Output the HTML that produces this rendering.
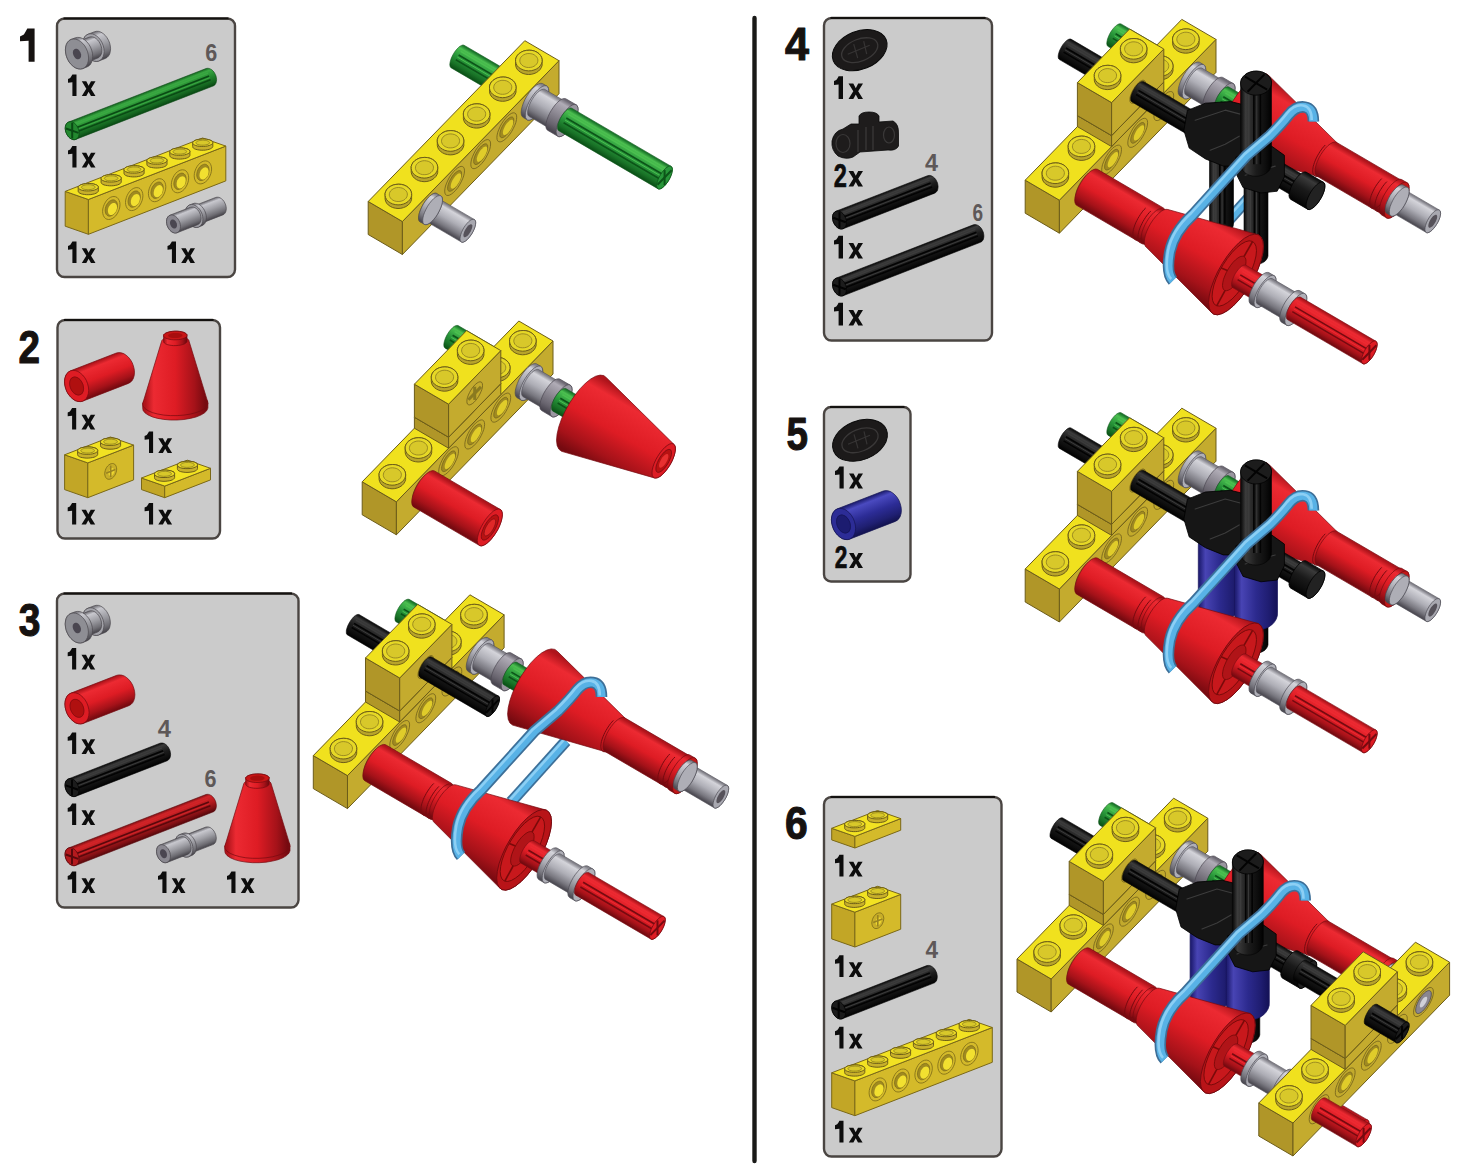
<!DOCTYPE html>
<html><head><meta charset="utf-8"><style>
html,body{margin:0;padding:0;background:#fff;width:1467px;height:1170px;overflow:hidden}
svg{display:block}
text{font-family:"Liberation Sans",sans-serif}
</style></head><body>
<svg width="1467" height="1170" viewBox="0 0 1467 1170">
<defs>
<linearGradient id="g1" gradientUnits="userSpaceOnUse" x1="91.7" y1="33.5" x2="101.7" y2="59.2"><stop offset="0" stop-color="#77767c"/><stop offset="0.14" stop-color="#c8c8ce"/><stop offset="0.5" stop-color="#9c9ca2"/><stop offset="0.82" stop-color="#6f6e74"/><stop offset="1" stop-color="#4a484e"/></linearGradient>
<linearGradient id="g2" gradientUnits="userSpaceOnUse" x1="83.4" y1="39.9" x2="91.2" y2="60.1"><stop offset="0" stop-color="#77767c"/><stop offset="0.14" stop-color="#c8c8ce"/><stop offset="0.5" stop-color="#9c9ca2"/><stop offset="0.82" stop-color="#6f6e74"/><stop offset="1" stop-color="#4a484e"/></linearGradient>
<linearGradient id="g3" gradientUnits="userSpaceOnUse" x1="73.6" y1="39.2" x2="84.5" y2="67.2"><stop offset="0" stop-color="#77767c"/><stop offset="0.14" stop-color="#c8c8ce"/><stop offset="0.5" stop-color="#9c9ca2"/><stop offset="0.82" stop-color="#6f6e74"/><stop offset="1" stop-color="#4a484e"/></linearGradient>
<linearGradient id="g4" gradientUnits="userSpaceOnUse" x1="137.6" y1="95.6" x2="144.2" y2="112.4"><stop offset="0" stop-color="#186c23"/><stop offset="0.14" stop-color="#3aa842"/><stop offset="0.5" stop-color="#23882f"/><stop offset="0.82" stop-color="#156620"/><stop offset="1" stop-color="#0a4a14"/></linearGradient>
<linearGradient id="g5" gradientUnits="userSpaceOnUse" x1="205.2" y1="202" x2="211.7" y2="218.8"><stop offset="0" stop-color="#77767c"/><stop offset="0.14" stop-color="#c8c8ce"/><stop offset="0.5" stop-color="#9c9ca2"/><stop offset="0.82" stop-color="#6f6e74"/><stop offset="1" stop-color="#4a484e"/></linearGradient>
<linearGradient id="g6" gradientUnits="userSpaceOnUse" x1="191.7" y1="204.7" x2="200" y2="225.9"><stop offset="0" stop-color="#77767c"/><stop offset="0.14" stop-color="#c8c8ce"/><stop offset="0.5" stop-color="#9c9ca2"/><stop offset="0.82" stop-color="#6f6e74"/><stop offset="1" stop-color="#4a484e"/></linearGradient>
<linearGradient id="g7" gradientUnits="userSpaceOnUse" x1="180.5" y1="211.6" x2="187.1" y2="228.4"><stop offset="0" stop-color="#77767c"/><stop offset="0.14" stop-color="#c8c8ce"/><stop offset="0.5" stop-color="#9c9ca2"/><stop offset="0.82" stop-color="#6f6e74"/><stop offset="1" stop-color="#4a484e"/></linearGradient>
<linearGradient id="g8" gradientUnits="userSpaceOnUse" x1="93.8" y1="362.6" x2="105.2" y2="391.6"><stop offset="0" stop-color="#af141b"/><stop offset="0.14" stop-color="#ec2a32"/><stop offset="0.5" stop-color="#de1c24"/><stop offset="0.82" stop-color="#a51219"/><stop offset="1" stop-color="#760a10"/></linearGradient>
<linearGradient id="g9" gradientUnits="userSpaceOnUse" x1="145.3" y1="405.8" x2="205.3" y2="405.8"><stop offset="0" stop-color="#af141b"/><stop offset="0.14" stop-color="#ec2a32"/><stop offset="0.5" stop-color="#de1c24"/><stop offset="0.82" stop-color="#a51219"/><stop offset="1" stop-color="#760a10"/></linearGradient>
<linearGradient id="g10" gradientUnits="userSpaceOnUse" x1="145.3" y1="372.5" x2="205.3" y2="372.5"><stop offset="0" stop-color="#af141b"/><stop offset="0.14" stop-color="#ec2a32"/><stop offset="0.5" stop-color="#de1c24"/><stop offset="0.82" stop-color="#a51219"/><stop offset="1" stop-color="#760a10"/></linearGradient>
<linearGradient id="g11" gradientUnits="userSpaceOnUse" x1="164.5" y1="338.4" x2="186.1" y2="338.4"><stop offset="0" stop-color="#af141b"/><stop offset="0.14" stop-color="#ec2a32"/><stop offset="0.5" stop-color="#de1c24"/><stop offset="0.82" stop-color="#a51219"/><stop offset="1" stop-color="#760a10"/></linearGradient>
<linearGradient id="g12" gradientUnits="userSpaceOnUse" x1="91.5" y1="607.5" x2="101.5" y2="633.2"><stop offset="0" stop-color="#77767c"/><stop offset="0.14" stop-color="#c8c8ce"/><stop offset="0.5" stop-color="#9c9ca2"/><stop offset="0.82" stop-color="#6f6e74"/><stop offset="1" stop-color="#4a484e"/></linearGradient>
<linearGradient id="g13" gradientUnits="userSpaceOnUse" x1="83.2" y1="613.9" x2="91" y2="634.1"><stop offset="0" stop-color="#77767c"/><stop offset="0.14" stop-color="#c8c8ce"/><stop offset="0.5" stop-color="#9c9ca2"/><stop offset="0.82" stop-color="#6f6e74"/><stop offset="1" stop-color="#4a484e"/></linearGradient>
<linearGradient id="g14" gradientUnits="userSpaceOnUse" x1="73.4" y1="613.2" x2="84.3" y2="641.2"><stop offset="0" stop-color="#77767c"/><stop offset="0.14" stop-color="#c8c8ce"/><stop offset="0.5" stop-color="#9c9ca2"/><stop offset="0.82" stop-color="#6f6e74"/><stop offset="1" stop-color="#4a484e"/></linearGradient>
<linearGradient id="g15" gradientUnits="userSpaceOnUse" x1="94.2" y1="684.9" x2="105.6" y2="713.9"><stop offset="0" stop-color="#af141b"/><stop offset="0.14" stop-color="#ec2a32"/><stop offset="0.5" stop-color="#de1c24"/><stop offset="0.82" stop-color="#a51219"/><stop offset="1" stop-color="#760a10"/></linearGradient>
<linearGradient id="g16" gradientUnits="userSpaceOnUse" x1="114.5" y1="761.4" x2="121.1" y2="778.2"><stop offset="0" stop-color="#111111"/><stop offset="0.14" stop-color="#3c3c3c"/><stop offset="0.5" stop-color="#1c1c1c"/><stop offset="0.82" stop-color="#0e0e0e"/><stop offset="1" stop-color="#030303"/></linearGradient>
<linearGradient id="g17" gradientUnits="userSpaceOnUse" x1="137.4" y1="821.6" x2="144" y2="838.4"><stop offset="0" stop-color="#8c1216"/><stop offset="0.14" stop-color="#d02428"/><stop offset="0.5" stop-color="#b41a1e"/><stop offset="0.82" stop-color="#821014"/><stop offset="1" stop-color="#5a080c"/></linearGradient>
<linearGradient id="g18" gradientUnits="userSpaceOnUse" x1="195.2" y1="831.7" x2="201.7" y2="848.5"><stop offset="0" stop-color="#77767c"/><stop offset="0.14" stop-color="#c8c8ce"/><stop offset="0.5" stop-color="#9c9ca2"/><stop offset="0.82" stop-color="#6f6e74"/><stop offset="1" stop-color="#4a484e"/></linearGradient>
<linearGradient id="g19" gradientUnits="userSpaceOnUse" x1="181.7" y1="834.4" x2="190" y2="855.6"><stop offset="0" stop-color="#77767c"/><stop offset="0.14" stop-color="#c8c8ce"/><stop offset="0.5" stop-color="#9c9ca2"/><stop offset="0.82" stop-color="#6f6e74"/><stop offset="1" stop-color="#4a484e"/></linearGradient>
<linearGradient id="g20" gradientUnits="userSpaceOnUse" x1="170.5" y1="841.3" x2="177.1" y2="858.1"><stop offset="0" stop-color="#77767c"/><stop offset="0.14" stop-color="#c8c8ce"/><stop offset="0.5" stop-color="#9c9ca2"/><stop offset="0.82" stop-color="#6f6e74"/><stop offset="1" stop-color="#4a484e"/></linearGradient>
<linearGradient id="g21" gradientUnits="userSpaceOnUse" x1="227.4" y1="848.5" x2="287.4" y2="848.5"><stop offset="0" stop-color="#af141b"/><stop offset="0.14" stop-color="#ec2a32"/><stop offset="0.5" stop-color="#de1c24"/><stop offset="0.82" stop-color="#a51219"/><stop offset="1" stop-color="#760a10"/></linearGradient>
<linearGradient id="g22" gradientUnits="userSpaceOnUse" x1="227.4" y1="815.2" x2="287.4" y2="815.2"><stop offset="0" stop-color="#af141b"/><stop offset="0.14" stop-color="#ec2a32"/><stop offset="0.5" stop-color="#de1c24"/><stop offset="0.82" stop-color="#a51219"/><stop offset="1" stop-color="#760a10"/></linearGradient>
<linearGradient id="g23" gradientUnits="userSpaceOnUse" x1="246.6" y1="781.1" x2="268.2" y2="781.1"><stop offset="0" stop-color="#af141b"/><stop offset="0.14" stop-color="#ec2a32"/><stop offset="0.5" stop-color="#de1c24"/><stop offset="0.82" stop-color="#a51219"/><stop offset="1" stop-color="#760a10"/></linearGradient>
<linearGradient id="g24" gradientUnits="userSpaceOnUse" x1="882" y1="193.8" x2="888.6" y2="210.6"><stop offset="0" stop-color="#111111"/><stop offset="0.14" stop-color="#3c3c3c"/><stop offset="0.5" stop-color="#1c1c1c"/><stop offset="0.82" stop-color="#0e0e0e"/><stop offset="1" stop-color="#030303"/></linearGradient>
<linearGradient id="g25" gradientUnits="userSpaceOnUse" x1="904.9" y1="251.9" x2="911.5" y2="268.7"><stop offset="0" stop-color="#111111"/><stop offset="0.14" stop-color="#3c3c3c"/><stop offset="0.5" stop-color="#1c1c1c"/><stop offset="0.82" stop-color="#0e0e0e"/><stop offset="1" stop-color="#030303"/></linearGradient>
<linearGradient id="g26" gradientUnits="userSpaceOnUse" x1="860.7" y1="500.6" x2="872.1" y2="529.6"><stop offset="0" stop-color="#212177"/><stop offset="0.14" stop-color="#4a4ac0"/><stop offset="0.5" stop-color="#2c2c96"/><stop offset="0.82" stop-color="#1f1f71"/><stop offset="1" stop-color="#141452"/></linearGradient>
<linearGradient id="g27" gradientUnits="userSpaceOnUse" x1="881.2" y1="983.8" x2="887.8" y2="1000.6"><stop offset="0" stop-color="#111111"/><stop offset="0.14" stop-color="#3c3c3c"/><stop offset="0.5" stop-color="#1c1c1c"/><stop offset="0.82" stop-color="#0e0e0e"/><stop offset="1" stop-color="#030303"/></linearGradient>
<linearGradient id="g28" gradientUnits="userSpaceOnUse" x1="501.3" y1="68.2" x2="489.2" y2="88.9"><stop offset="0" stop-color="#1b782b"/><stop offset="0.14" stop-color="#4cc050"/><stop offset="0.5" stop-color="#28963a"/><stop offset="0.82" stop-color="#197227"/><stop offset="1" stop-color="#0c5418"/></linearGradient>
<linearGradient id="g29" gradientUnits="userSpaceOnUse" x1="454.2" y1="208.9" x2="442.1" y2="229.6"><stop offset="0" stop-color="#83828a"/><stop offset="0.14" stop-color="#d4d4da"/><stop offset="0.5" stop-color="#aeaeb6"/><stop offset="0.82" stop-color="#797880"/><stop offset="1" stop-color="#4e4c54"/></linearGradient>
<linearGradient id="g30" gradientUnits="userSpaceOnUse" x1="438.2" y1="195.8" x2="422.9" y2="222.1"><stop offset="0" stop-color="#83828a"/><stop offset="0.14" stop-color="#d4d4da"/><stop offset="0.5" stop-color="#aeaeb6"/><stop offset="0.82" stop-color="#797880"/><stop offset="1" stop-color="#4e4c54"/></linearGradient>
<linearGradient id="g31" gradientUnits="userSpaceOnUse" x1="544" y1="86.2" x2="525.9" y2="117.3"><stop offset="0" stop-color="#83828a"/><stop offset="0.14" stop-color="#d4d4da"/><stop offset="0.5" stop-color="#aeaeb6"/><stop offset="0.82" stop-color="#797880"/><stop offset="1" stop-color="#4e4c54"/></linearGradient>
<linearGradient id="g32" gradientUnits="userSpaceOnUse" x1="554.2" y1="96.3" x2="539.7" y2="121.2"><stop offset="0" stop-color="#83828a"/><stop offset="0.14" stop-color="#d4d4da"/><stop offset="0.5" stop-color="#aeaeb6"/><stop offset="0.82" stop-color="#797880"/><stop offset="1" stop-color="#4e4c54"/></linearGradient>
<linearGradient id="g33" gradientUnits="userSpaceOnUse" x1="570.5" y1="103.1" x2="553.5" y2="132.1"><stop offset="0" stop-color="#6d6973"/><stop offset="0.14" stop-color="#b0acb6"/><stop offset="0.5" stop-color="#8a8690"/><stop offset="0.82" stop-color="#67636d"/><stop offset="1" stop-color="#4a4650"/></linearGradient>
<linearGradient id="g34" gradientUnits="userSpaceOnUse" x1="621" y1="138.2" x2="608.9" y2="158.9"><stop offset="0" stop-color="#1b782b"/><stop offset="0.14" stop-color="#4cc050"/><stop offset="0.5" stop-color="#28963a"/><stop offset="0.82" stop-color="#197227"/><stop offset="1" stop-color="#0c5418"/></linearGradient>
<linearGradient id="g35" gradientUnits="userSpaceOnUse" x1="478.2" y1="338.5" x2="466.1" y2="359.2"><stop offset="0" stop-color="#1b782b"/><stop offset="0.14" stop-color="#4cc050"/><stop offset="0.5" stop-color="#28963a"/><stop offset="0.82" stop-color="#197227"/><stop offset="1" stop-color="#0c5418"/></linearGradient>
<linearGradient id="g36" gradientUnits="userSpaceOnUse" x1="538" y1="366.5" x2="519.9" y2="397.6"><stop offset="0" stop-color="#83828a"/><stop offset="0.14" stop-color="#d4d4da"/><stop offset="0.5" stop-color="#aeaeb6"/><stop offset="0.82" stop-color="#797880"/><stop offset="1" stop-color="#4e4c54"/></linearGradient>
<linearGradient id="g37" gradientUnits="userSpaceOnUse" x1="548.2" y1="376.6" x2="533.7" y2="401.5"><stop offset="0" stop-color="#83828a"/><stop offset="0.14" stop-color="#d4d4da"/><stop offset="0.5" stop-color="#aeaeb6"/><stop offset="0.82" stop-color="#797880"/><stop offset="1" stop-color="#4e4c54"/></linearGradient>
<linearGradient id="g38" gradientUnits="userSpaceOnUse" x1="564.5" y1="383.4" x2="547.5" y2="412.4"><stop offset="0" stop-color="#6d6973"/><stop offset="0.14" stop-color="#b0acb6"/><stop offset="0.5" stop-color="#8a8690"/><stop offset="0.82" stop-color="#67636d"/><stop offset="1" stop-color="#4a4650"/></linearGradient>
<linearGradient id="g39" gradientUnits="userSpaceOnUse" x1="578.3" y1="397" x2="566.2" y2="417.7"><stop offset="0" stop-color="#1b782b"/><stop offset="0.14" stop-color="#4cc050"/><stop offset="0.5" stop-color="#28963a"/><stop offset="0.82" stop-color="#197227"/><stop offset="1" stop-color="#0c5418"/></linearGradient>
<linearGradient id="g40" gradientUnits="userSpaceOnUse" x1="643.4" y1="402.6" x2="603" y2="471.7"><stop offset="0" stop-color="#af141b"/><stop offset="0.14" stop-color="#ec2a32"/><stop offset="0.5" stop-color="#de1c24"/><stop offset="0.82" stop-color="#a51219"/><stop offset="1" stop-color="#760a10"/></linearGradient>
<linearGradient id="g41" gradientUnits="userSpaceOnUse" x1="466.7" y1="491.7" x2="447.3" y2="524.8"><stop offset="0" stop-color="#af141b"/><stop offset="0.14" stop-color="#ec2a32"/><stop offset="0.5" stop-color="#de1c24"/><stop offset="0.82" stop-color="#a51219"/><stop offset="1" stop-color="#760a10"/></linearGradient>
<linearGradient id="g42" gradientUnits="userSpaceOnUse" x1="116" y1="-143.3" x2="103.9" y2="-122.6"><stop offset="0" stop-color="#1b782b"/><stop offset="0.14" stop-color="#4cc050"/><stop offset="0.5" stop-color="#28963a"/><stop offset="0.82" stop-color="#197227"/><stop offset="1" stop-color="#0c5418"/></linearGradient>
<linearGradient id="g43" gradientUnits="userSpaceOnUse" x1="64.6" y1="-129" x2="53.7" y2="-110.3"><stop offset="0" stop-color="#111111"/><stop offset="0.14" stop-color="#3c3c3c"/><stop offset="0.5" stop-color="#1c1c1c"/><stop offset="0.82" stop-color="#0e0e0e"/><stop offset="1" stop-color="#030303"/></linearGradient>
<linearGradient id="g44" gradientUnits="userSpaceOnUse" x1="175.8" y1="-115.3" x2="157.7" y2="-84.2"><stop offset="0" stop-color="#83828a"/><stop offset="0.14" stop-color="#d4d4da"/><stop offset="0.5" stop-color="#aeaeb6"/><stop offset="0.82" stop-color="#797880"/><stop offset="1" stop-color="#4e4c54"/></linearGradient>
<linearGradient id="g45" gradientUnits="userSpaceOnUse" x1="186" y1="-105.2" x2="171.5" y2="-80.3"><stop offset="0" stop-color="#83828a"/><stop offset="0.14" stop-color="#d4d4da"/><stop offset="0.5" stop-color="#aeaeb6"/><stop offset="0.82" stop-color="#797880"/><stop offset="1" stop-color="#4e4c54"/></linearGradient>
<linearGradient id="g46" gradientUnits="userSpaceOnUse" x1="202.3" y1="-98.4" x2="185.3" y2="-69.4"><stop offset="0" stop-color="#6d6973"/><stop offset="0.14" stop-color="#b0acb6"/><stop offset="0.5" stop-color="#8a8690"/><stop offset="0.82" stop-color="#67636d"/><stop offset="1" stop-color="#4a4650"/></linearGradient>
<linearGradient id="g47" gradientUnits="userSpaceOnUse" x1="216.1" y1="-84.8" x2="204" y2="-64.1"><stop offset="0" stop-color="#1b782b"/><stop offset="0.14" stop-color="#4cc050"/><stop offset="0.5" stop-color="#28963a"/><stop offset="0.82" stop-color="#197227"/><stop offset="1" stop-color="#0c5418"/></linearGradient>
<linearGradient id="g48" gradientUnits="userSpaceOnUse" x1="281.2" y1="-79.2" x2="240.8" y2="-10.1"><stop offset="0" stop-color="#af141b"/><stop offset="0.14" stop-color="#ec2a32"/><stop offset="0.5" stop-color="#de1c24"/><stop offset="0.82" stop-color="#a51219"/><stop offset="1" stop-color="#760a10"/></linearGradient>
<linearGradient id="g49" gradientUnits="userSpaceOnUse" x1="343.9" y1="-17" x2="325.8" y2="14.1"><stop offset="0" stop-color="#af141b"/><stop offset="0.14" stop-color="#ec2a32"/><stop offset="0.5" stop-color="#de1c24"/><stop offset="0.82" stop-color="#a51219"/><stop offset="1" stop-color="#760a10"/></linearGradient>
<linearGradient id="g50" gradientUnits="userSpaceOnUse" x1="378.5" y1="2.3" x2="359.6" y2="34.8"><stop offset="0" stop-color="#af141b"/><stop offset="0.14" stop-color="#ec2a32"/><stop offset="0.5" stop-color="#de1c24"/><stop offset="0.82" stop-color="#a51219"/><stop offset="1" stop-color="#760a10"/></linearGradient>
<linearGradient id="g51" gradientUnits="userSpaceOnUse" x1="394.8" y1="19.7" x2="382.7" y2="40.4"><stop offset="0" stop-color="#83828a"/><stop offset="0.14" stop-color="#d4d4da"/><stop offset="0.5" stop-color="#aeaeb6"/><stop offset="0.82" stop-color="#797880"/><stop offset="1" stop-color="#4e4c54"/></linearGradient>
<linearGradient id="g52" gradientUnits="userSpaceOnUse" x1="379.6" y1="7.1" x2="364.3" y2="33.4"><stop offset="0" stop-color="#83828a"/><stop offset="0.14" stop-color="#d4d4da"/><stop offset="0.5" stop-color="#aeaeb6"/><stop offset="0.82" stop-color="#797880"/><stop offset="1" stop-color="#4e4c54"/></linearGradient>
<g id="bb"><polygon points="81.6,-136.9 81.8,-138.8 82.3,-140.9 83.1,-143.3 84.2,-145.7 85.5,-148.1 87,-150.3 88.6,-152.3 90.3,-154 91.9,-155.3 93.4,-156.1 94.7,-156.4 95.8,-156.3 136.8,-132.3 137.7,-131.6 138.2,-130.5 138.3,-129 138.2,-127.1 137.7,-124.9 136.8,-122.6 135.7,-120.2 134.4,-117.8 132.9,-115.6 131.3,-113.6 129.7,-111.9 128.1,-110.6 126.6,-109.8 125.3,-109.4 124.2,-109.6 83.1,-133.6 82.3,-134.2 81.8,-135.4" fill="url(#g42)" stroke="#0c5418" stroke-width="0.6" stroke-linejoin="round" />
<line x1="92.5" y1="-150.1" x2="133.5" y2="-126.1" stroke="#4cc050" stroke-width="1.4" stroke-linecap="butt" />
<line x1="90.4" y1="-146.5" x2="131.4" y2="-122.5" stroke="#0c5418" stroke-width="1.6" stroke-linecap="butt" />
<line x1="87.6" y1="-141.8" x2="128.7" y2="-117.8" stroke="#0c5418" stroke-width="1.6" stroke-linecap="butt" />
<line x1="89.2" y1="-144.4" x2="130.2" y2="-120.4" stroke="#4cc050" stroke-width="1.0" stroke-linecap="butt" />
<polygon points="138.3,-129 138.2,-130.5 137.7,-131.6 136.8,-132.3 135.7,-132.4 134.4,-132.1 132.9,-131.3 131.3,-130 129.7,-128.3 128.1,-126.3 126.6,-124.1 125.3,-121.7 124.2,-119.3 123.3,-116.9 122.8,-114.8 122.7,-112.9 122.8,-111.4 123.3,-110.2 124.2,-109.6 125.3,-109.4 126.6,-109.8 128.1,-110.6 129.7,-111.9 131.3,-113.6 132.9,-115.6 134.4,-117.8 135.7,-120.2 136.8,-122.6 137.7,-124.9 138.2,-127.1" fill="#28963a" stroke="#0c5418" stroke-width="0.8" stroke-linejoin="round" />
<line x1="123.5" y1="-113.7" x2="137.5" y2="-128.2" stroke="#0c5418" stroke-width="2.0" stroke-linecap="butt" />
<line x1="130.5" y1="-113.5" x2="130.5" y2="-128.4" stroke="#0c5418" stroke-width="2.0" stroke-linecap="butt" />
<polygon points="33,-123.6 33.1,-125.3 33.6,-127.3 34.3,-129.4 35.3,-131.5 36.5,-133.7 37.8,-135.7 39.3,-137.5 40.7,-139 42.2,-140.2 43.5,-140.9 44.7,-141.2 45.7,-141.1 84,-118.7 84.7,-118.1 85.2,-117.1 85.3,-115.7 85.2,-114 84.7,-112 84,-109.9 83,-107.8 81.8,-105.6 80.5,-103.6 79,-101.8 77.6,-100.3 76.1,-99.2 74.8,-98.4 73.6,-98.1 72.6,-98.2 34.3,-120.6 33.6,-121.2 33.1,-122.2" fill="url(#g43)" stroke="#030303" stroke-width="0.6" stroke-linejoin="round" />
<line x1="42.7" y1="-135.5" x2="81" y2="-113.1" stroke="#3c3c3c" stroke-width="1.4" stroke-linecap="butt" />
<line x1="40.8" y1="-132.2" x2="79.1" y2="-109.8" stroke="#030303" stroke-width="1.6" stroke-linecap="butt" />
<line x1="38.4" y1="-128.1" x2="76.7" y2="-105.7" stroke="#030303" stroke-width="1.6" stroke-linecap="butt" />
<line x1="39.7" y1="-130.4" x2="78" y2="-108" stroke="#3c3c3c" stroke-width="1.0" stroke-linecap="butt" />
<polygon points="85.3,-115.7 85.2,-117.1 84.7,-118.1 84,-118.7 83,-118.8 81.8,-118.5 80.5,-117.7 79,-116.6 77.6,-115.1 76.1,-113.3 74.8,-111.3 73.6,-109.1 72.6,-107 71.9,-104.9 71.4,-102.9 71.3,-101.2 71.4,-99.8 71.9,-98.8 72.6,-98.2 73.6,-98.1 74.8,-98.4 76.1,-99.2 77.6,-100.3 79,-101.8 80.5,-103.6 81.8,-105.6 83,-107.8 84,-109.9 84.7,-112 85.2,-114" fill="#1c1c1c" stroke="#030303" stroke-width="0.8" stroke-linejoin="round" />
<line x1="72" y1="-101.9" x2="84.6" y2="-115" stroke="#030303" stroke-width="2.0" stroke-linecap="butt" />
<line x1="78.3" y1="-101.8" x2="78.3" y2="-115.1" stroke="#030303" stroke-width="2.0" stroke-linecap="butt" />
<polygon points="0,0 34.2,20 34.2,53 0,33" fill="#b09628" stroke="#6c5c1a" stroke-width="1.0" stroke-linejoin="round" />
<polygon points="34.2,20 190.8,-140.8 190.8,-107.8 34.2,53" fill="#c4ab2e" stroke="#6c5c1a" stroke-width="1.0" stroke-linejoin="round" />
<polygon points="0,0 156.6,-160.8 190.8,-140.8 34.2,20" fill="#f0e11e" stroke="#6c5c1a" stroke-width="1.0" stroke-linejoin="round" />
<polygon points="70.2,-3.9 70,-5.9 69.4,-7.3 68.3,-8.1 66.9,-8.3 65.3,-7.9 63.4,-6.8 61.3,-5.2 59.3,-3.1 57.2,-0.5 55.3,2.3 53.7,5.3 52.3,8.4 51.2,11.3 50.6,14.1 50.4,16.4 50.6,18.4 51.2,19.8 52.3,20.6 53.7,20.8 55.3,20.4 57.2,19.3 59.3,17.7 61.3,15.6 63.4,13.1 65.3,10.2 66.9,7.2 68.3,4.2 69.4,1.2 70,-1.5" fill="#c2aa2c" stroke="#6e5e1c" stroke-width="0.8" stroke-linejoin="round" />
<polygon points="67.3,-1 67.2,-2.4 66.7,-3.4 66,-4 65,-4.1 63.8,-3.8 62.5,-3 61,-1.9 59.6,-0.4 58.1,1.4 56.8,3.5 55.6,5.6 54.6,7.8 53.9,9.9 53.4,11.8 53.3,13.5 53.4,14.9 53.9,15.9 54.6,16.5 55.6,16.6 56.8,16.3 58.1,15.6 59.6,14.4 61,12.9 62.5,11.1 63.8,9.1 65,6.9 66,4.8 66.7,2.7 67.2,0.7" fill="#a08a20" stroke="#6e5e1c" stroke-width="0.7" stroke-linejoin="round" />
<polygon points="66.8,0.9 66.7,-0.1 66.4,-0.8 65.8,-1.3 65.1,-1.4 64.2,-1.1 63.2,-0.6 62.2,0.3 61.1,1.4 60,2.7 59,4.2 58.1,5.8 57.4,7.4 56.8,9 56.5,10.4 56.4,11.7 56.5,12.7 56.8,13.4 57.4,13.9 58.1,14 59,13.7 60,13.2 61.1,12.3 62.2,11.2 63.2,9.9 64.2,8.4 65.1,6.8 65.8,5.2 66.4,3.6 66.7,2.2" fill="#e0cc2a" />
<polygon points="96.3,-30.7 96.1,-32.7 95.5,-34.1 94.4,-34.9 93,-35.1 91.4,-34.7 89.5,-33.6 87.4,-32 85.4,-29.9 83.3,-27.3 81.4,-24.5 79.8,-21.5 78.4,-18.4 77.3,-15.5 76.7,-12.7 76.5,-10.4 76.7,-8.4 77.3,-7 78.4,-6.2 79.8,-6 81.4,-6.4 83.3,-7.5 85.4,-9.1 87.4,-11.2 89.5,-13.7 91.4,-16.6 93,-19.6 94.4,-22.6 95.5,-25.6 96.1,-28.3" fill="#c2aa2c" stroke="#6e5e1c" stroke-width="0.8" stroke-linejoin="round" />
<polygon points="93.4,-27.8 93.3,-29.2 92.8,-30.2 92.1,-30.8 91.1,-30.9 89.9,-30.6 88.6,-29.8 87.1,-28.7 85.7,-27.2 84.2,-25.4 82.9,-23.3 81.7,-21.2 80.7,-19 80,-16.9 79.5,-15 79.4,-13.3 79.5,-11.9 80,-10.9 80.7,-10.3 81.7,-10.2 82.9,-10.5 84.2,-11.2 85.7,-12.4 87.1,-13.9 88.6,-15.7 89.9,-17.7 91.1,-19.9 92.1,-22 92.8,-24.1 93.3,-26.1" fill="#a08a20" stroke="#6e5e1c" stroke-width="0.7" stroke-linejoin="round" />
<polygon points="92.9,-25.9 92.8,-26.9 92.5,-27.6 91.9,-28.1 91.2,-28.2 90.3,-27.9 89.3,-27.4 88.3,-26.5 87.2,-25.4 86.1,-24.1 85.1,-22.6 84.2,-21 83.5,-19.4 82.9,-17.8 82.6,-16.4 82.5,-15.1 82.6,-14.1 82.9,-13.4 83.5,-12.9 84.2,-12.8 85.1,-13.1 86.1,-13.6 87.2,-14.5 88.3,-15.6 89.3,-16.9 90.3,-18.4 91.2,-20 91.9,-21.6 92.5,-23.2 92.8,-24.6" fill="#e0cc2a" />
<polygon points="122.4,-57.5 122.2,-59.5 121.6,-60.9 120.5,-61.7 119.1,-61.9 117.5,-61.5 115.6,-60.4 113.5,-58.8 111.5,-56.7 109.4,-54.1 107.5,-51.3 105.9,-48.3 104.5,-45.2 103.4,-42.3 102.8,-39.5 102.6,-37.2 102.8,-35.2 103.4,-33.8 104.5,-33 105.9,-32.8 107.5,-33.2 109.4,-34.3 111.5,-35.9 113.5,-38 115.6,-40.5 117.5,-43.4 119.1,-46.4 120.5,-49.4 121.6,-52.4 122.2,-55.1" fill="#c2aa2c" stroke="#6e5e1c" stroke-width="0.8" stroke-linejoin="round" />
<polygon points="119.5,-54.6 119.4,-56 118.9,-57 118.2,-57.6 117.2,-57.7 116,-57.4 114.7,-56.6 113.2,-55.5 111.8,-54 110.3,-52.2 109,-50.1 107.8,-48 106.8,-45.8 106.1,-43.7 105.6,-41.8 105.5,-40.1 105.6,-38.7 106.1,-37.7 106.8,-37.1 107.8,-37 109,-37.3 110.3,-38 111.8,-39.2 113.2,-40.7 114.7,-42.5 116,-44.5 117.2,-46.7 118.2,-48.8 118.9,-50.9 119.4,-52.9" fill="#a08a20" stroke="#6e5e1c" stroke-width="0.7" stroke-linejoin="round" />
<polygon points="119,-52.7 118.9,-53.7 118.6,-54.4 118,-54.9 117.3,-55 116.4,-54.7 115.4,-54.2 114.4,-53.3 113.3,-52.2 112.2,-50.9 111.2,-49.4 110.3,-47.8 109.6,-46.2 109,-44.6 108.7,-43.2 108.6,-41.9 108.7,-40.9 109,-40.2 109.6,-39.7 110.3,-39.6 111.2,-39.9 112.2,-40.4 113.3,-41.3 114.4,-42.4 115.4,-43.7 116.4,-45.2 117.3,-46.8 118,-48.4 118.6,-50 118.9,-51.4" fill="#e0cc2a" />
<polygon points="148.5,-84.3 148.3,-86.3 147.7,-87.7 146.6,-88.5 145.2,-88.7 143.6,-88.3 141.7,-87.2 139.6,-85.6 137.6,-83.5 135.5,-80.9 133.6,-78.1 132,-75.1 130.6,-72 129.5,-69.1 128.9,-66.3 128.7,-64 128.9,-62 129.5,-60.6 130.6,-59.8 132,-59.6 133.6,-60 135.5,-61.1 137.6,-62.7 139.6,-64.8 141.7,-67.3 143.6,-70.2 145.2,-73.2 146.6,-76.2 147.7,-79.2 148.3,-81.9" fill="#c2aa2c" stroke="#6e5e1c" stroke-width="0.8" stroke-linejoin="round" />
<polygon points="145.6,-81.4 145.5,-82.8 145,-83.8 144.3,-84.4 143.3,-84.5 142.1,-84.2 140.8,-83.4 139.3,-82.3 137.9,-80.8 136.4,-79 135.1,-76.9 133.9,-74.8 132.9,-72.6 132.2,-70.5 131.7,-68.6 131.6,-66.9 131.7,-65.5 132.2,-64.5 132.9,-63.9 133.9,-63.8 135.1,-64.1 136.4,-64.8 137.9,-66 139.3,-67.5 140.8,-69.3 142.1,-71.3 143.3,-73.5 144.3,-75.6 145,-77.7 145.5,-79.7" fill="#a08a20" stroke="#6e5e1c" stroke-width="0.7" stroke-linejoin="round" />
<polygon points="145.1,-79.5 145,-80.5 144.7,-81.2 144.1,-81.7 143.4,-81.8 142.5,-81.5 141.5,-81 140.5,-80.1 139.4,-79 138.3,-77.7 137.3,-76.2 136.4,-74.6 135.7,-73 135.1,-71.4 134.8,-70 134.7,-68.7 134.8,-67.7 135.1,-67 135.7,-66.5 136.4,-66.4 137.3,-66.7 138.3,-67.2 139.4,-68.1 140.5,-69.2 141.5,-70.5 142.5,-72 143.4,-73.6 144.1,-75.2 144.7,-76.8 145,-78.2" fill="#e0cc2a" />
<polygon points="174.6,-111.1 174.4,-113.1 173.8,-114.5 172.7,-115.3 171.3,-115.5 169.7,-115.1 167.8,-114 165.7,-112.4 163.7,-110.3 161.6,-107.7 159.7,-104.9 158.1,-101.9 156.7,-98.8 155.6,-95.9 155,-93.1 154.8,-90.8 155,-88.8 155.6,-87.4 156.7,-86.6 158.1,-86.4 159.7,-86.8 161.6,-87.9 163.7,-89.5 165.7,-91.6 167.8,-94.1 169.7,-97 171.3,-100 172.7,-103 173.8,-106 174.4,-108.7" fill="#c2aa2c" stroke="#6e5e1c" stroke-width="0.8" stroke-linejoin="round" />
<polygon points="171.7,-108.2 171.6,-109.6 171.1,-110.6 170.4,-111.2 169.4,-111.3 168.2,-111 166.9,-110.2 165.4,-109.1 164,-107.6 162.5,-105.8 161.2,-103.7 160,-101.6 159,-99.4 158.3,-97.3 157.8,-95.4 157.7,-93.7 157.8,-92.3 158.3,-91.3 159,-90.7 160,-90.6 161.2,-90.9 162.5,-91.6 164,-92.8 165.4,-94.3 166.9,-96.1 168.2,-98.1 169.4,-100.3 170.4,-102.4 171.1,-104.5 171.6,-106.5" fill="#a08a20" stroke="#6e5e1c" stroke-width="0.7" stroke-linejoin="round" />
<polygon points="171.2,-106.3 171.1,-107.3 170.8,-108 170.2,-108.5 169.5,-108.6 168.6,-108.3 167.6,-107.8 166.6,-106.9 165.5,-105.8 164.4,-104.5 163.4,-103 162.5,-101.4 161.8,-99.8 161.2,-98.2 160.9,-96.8 160.8,-95.5 160.9,-94.5 161.2,-93.8 161.8,-93.3 162.5,-93.2 163.4,-93.5 164.4,-94 165.5,-94.9 166.6,-96 167.6,-97.3 168.6,-98.8 169.5,-100.4 170.2,-102 170.8,-103.6 171.1,-105" fill="#e0cc2a" />
<polygon points="16.9,-6 16.9,-8.2 17.6,-10.3 18.8,-12.3 20.4,-14 22.6,-15.4 25,-16.5 27.7,-17.1 30.5,-17.3 33.2,-17.1 35.9,-16.4 38.2,-15.3 40.3,-13.8 41.9,-12 42.9,-10.1 43.4,-7.9 43.4,-4.3 43.4,-2.2 42.7,-0.1 41.5,1.9 39.9,3.6 37.7,5.1 35.3,6.1 32.6,6.8 29.8,7 27.1,6.7 24.4,6 22.1,4.9 20,3.4 18.4,1.7 17.4,-0.3 16.9,-2.5" fill="#b8a42a" stroke="#6e5e18" stroke-width="1.0" stroke-linejoin="round" />
<polygon points="38.2,-15.3 40.3,-13.8 41.9,-12 42.9,-10.1 43.4,-7.9 43.4,-5.8 42.7,-3.6 41.5,-1.7 39.8,0.1 37.7,1.5 35.3,2.5 32.6,3.2 29.8,3.4 27.1,3.1 24.4,2.4 22.1,1.3 20,-0.1 18.4,-1.9 17.4,-3.9 16.9,-6 16.9,-8.2 17.6,-10.3 18.8,-12.3 20.5,-14 22.6,-15.4 25,-16.5 27.7,-17.1 30.5,-17.3 33.2,-17.1 35.9,-16.4" fill="#e6d826" stroke="#6e5e18" stroke-width="1.0" stroke-linejoin="round" />
<polygon points="35.6,-12.6 37,-11.6 38.1,-10.4 38.8,-9.1 39.2,-7.6 39.1,-6.2 38.7,-4.7 37.9,-3.4 36.7,-2.2 35.3,-1.2 33.6,-0.5 31.8,-0.1 29.9,0 28.1,-0.1 26.3,-0.6 24.7,-1.3 23.3,-2.3 22.2,-3.5 21.5,-4.9 21.1,-6.3 21.2,-7.8 21.6,-9.2 22.4,-10.6 23.6,-11.7 25,-12.7 26.7,-13.4 28.5,-13.9 30.4,-14 32.2,-13.8 34,-13.4" fill="#d8c82a" stroke="#8a7a20" stroke-width="0.8" stroke-linejoin="round" />
<polygon points="43,-32.8 43,-35 43.7,-37.1 44.9,-39.1 46.5,-40.8 48.7,-42.2 51.1,-43.3 53.8,-43.9 56.6,-44.1 59.3,-43.9 62,-43.2 64.3,-42.1 66.4,-40.6 68,-38.8 69,-36.9 69.5,-34.7 69.5,-31.1 69.5,-29 68.8,-26.9 67.6,-24.9 66,-23.2 63.8,-21.7 61.4,-20.7 58.7,-20 55.9,-19.8 53.2,-20.1 50.5,-20.8 48.2,-21.9 46.1,-23.4 44.5,-25.1 43.5,-27.1 43,-29.2" fill="#b8a42a" stroke="#6e5e18" stroke-width="1.0" stroke-linejoin="round" />
<polygon points="64.3,-42.1 66.4,-40.6 68,-38.8 69,-36.9 69.5,-34.7 69.5,-32.6 68.8,-30.4 67.6,-28.5 65.9,-26.7 63.8,-25.3 61.4,-24.3 58.7,-23.6 55.9,-23.4 53.2,-23.7 50.5,-24.4 48.2,-25.5 46.1,-26.9 44.5,-28.7 43.5,-30.7 43,-32.8 43,-35 43.7,-37.1 44.9,-39.1 46.6,-40.8 48.7,-42.2 51.1,-43.3 53.8,-43.9 56.6,-44.1 59.3,-43.9 62,-43.2" fill="#e6d826" stroke="#6e5e18" stroke-width="1.0" stroke-linejoin="round" />
<polygon points="61.7,-39.4 63.1,-38.4 64.2,-37.2 64.9,-35.9 65.3,-34.4 65.2,-33 64.8,-31.5 64,-30.2 62.8,-29 61.4,-28 59.7,-27.3 57.9,-26.9 56,-26.8 54.2,-26.9 52.4,-27.4 50.8,-28.1 49.4,-29.1 48.3,-30.3 47.6,-31.7 47.2,-33.1 47.3,-34.6 47.7,-36 48.5,-37.4 49.7,-38.5 51.1,-39.5 52.8,-40.2 54.6,-40.7 56.5,-40.8 58.3,-40.6 60.1,-40.2" fill="#d8c82a" stroke="#8a7a20" stroke-width="0.8" stroke-linejoin="round" />
<polygon points="69.1,-59.6 69.1,-61.8 69.8,-63.9 71,-65.9 72.7,-67.6 74.8,-69 77.2,-70.1 79.9,-70.7 82.7,-70.9 85.4,-70.7 88.1,-70 90.4,-68.9 92.5,-67.4 94,-65.6 95.1,-63.6 95.6,-61.5 95.6,-58 95.6,-55.8 94.9,-53.7 93.7,-51.7 92,-50 89.9,-48.5 87.5,-47.5 84.8,-46.8 82,-46.6 79.3,-46.9 76.6,-47.6 74.3,-48.7 72.2,-50.2 70.7,-51.9 69.6,-53.9 69.1,-56" fill="#b8a42a" stroke="#6e5e18" stroke-width="1.0" stroke-linejoin="round" />
<polygon points="90.4,-68.9 92.5,-67.4 94.1,-65.6 95.1,-63.7 95.6,-61.5 95.6,-59.4 94.9,-57.2 93.7,-55.3 92,-53.5 89.9,-52.1 87.5,-51.1 84.8,-50.4 82,-50.2 79.3,-50.5 76.6,-51.2 74.3,-52.3 72.2,-53.7 70.6,-55.5 69.6,-57.5 69.1,-59.6 69.1,-61.8 69.8,-63.9 71,-65.9 72.7,-67.6 74.8,-69 77.2,-70.1 79.9,-70.7 82.7,-70.9 85.4,-70.7 88.1,-70" fill="#e6d826" stroke="#6e5e18" stroke-width="1.0" stroke-linejoin="round" />
<polygon points="87.8,-66.2 89.2,-65.2 90.3,-64 91,-62.7 91.4,-61.2 91.3,-59.8 90.9,-58.3 90.1,-57 88.9,-55.8 87.5,-54.8 85.8,-54.1 84,-53.7 82.1,-53.6 80.3,-53.7 78.5,-54.2 76.9,-54.9 75.5,-55.9 74.4,-57.1 73.7,-58.5 73.3,-59.9 73.4,-61.4 73.8,-62.8 74.6,-64.2 75.8,-65.3 77.2,-66.3 78.9,-67 80.7,-67.5 82.6,-67.6 84.4,-67.4 86.2,-67" fill="#d8c82a" stroke="#8a7a20" stroke-width="0.8" stroke-linejoin="round" />
<polygon points="95.2,-86.4 95.2,-88.6 95.9,-90.7 97.1,-92.7 98.8,-94.4 100.9,-95.8 103.3,-96.9 106,-97.5 108.8,-97.7 111.5,-97.5 114.2,-96.8 116.5,-95.7 118.6,-94.2 120.2,-92.4 121.2,-90.5 121.7,-88.3 121.7,-84.8 121.7,-82.6 121,-80.5 119.8,-78.5 118.2,-76.8 116,-75.3 113.6,-74.3 110.9,-73.6 108.1,-73.4 105.4,-73.7 102.7,-74.4 100.4,-75.5 98.3,-77 96.8,-78.7 95.7,-80.7 95.2,-82.8" fill="#b8a42a" stroke="#6e5e18" stroke-width="1.0" stroke-linejoin="round" />
<polygon points="116.5,-95.7 118.6,-94.2 120.2,-92.4 121.2,-90.5 121.7,-88.3 121.7,-86.2 121,-84 119.8,-82.1 118.1,-80.3 116,-78.9 113.6,-77.9 110.9,-77.2 108.1,-77 105.4,-77.3 102.7,-78 100.4,-79.1 98.3,-80.5 96.7,-82.3 95.7,-84.3 95.2,-86.4 95.2,-88.6 95.9,-90.7 97.1,-92.7 98.8,-94.4 100.9,-95.8 103.3,-96.9 106,-97.5 108.8,-97.7 111.5,-97.5 114.2,-96.8" fill="#e6d826" stroke="#6e5e18" stroke-width="1.0" stroke-linejoin="round" />
<polygon points="113.9,-93 115.3,-92 116.4,-90.8 117.1,-89.5 117.5,-88 117.4,-86.6 117,-85.1 116.2,-83.8 115,-82.6 113.6,-81.6 111.9,-80.9 110.1,-80.5 108.2,-80.4 106.4,-80.5 104.6,-81 103,-81.7 101.6,-82.7 100.5,-83.9 99.8,-85.3 99.4,-86.7 99.5,-88.2 99.9,-89.6 100.7,-91 101.9,-92.1 103.3,-93.1 105,-93.8 106.8,-94.3 108.7,-94.4 110.5,-94.2 112.3,-93.8" fill="#d8c82a" stroke="#8a7a20" stroke-width="0.8" stroke-linejoin="round" />
<polygon points="121.3,-113.2 121.3,-115.4 122,-117.5 123.2,-119.5 124.8,-121.2 127,-122.6 129.4,-123.7 132.1,-124.3 134.9,-124.5 137.6,-124.3 140.3,-123.6 142.6,-122.5 144.7,-121 146.2,-119.2 147.3,-117.2 147.8,-115.1 147.8,-111.5 147.8,-109.4 147.1,-107.3 145.9,-105.3 144.2,-103.6 142.1,-102.1 139.7,-101.1 137,-100.4 134.2,-100.2 131.5,-100.5 128.8,-101.2 126.5,-102.3 124.4,-103.8 122.8,-105.5 121.8,-107.5 121.3,-109.7" fill="#b8a42a" stroke="#6e5e18" stroke-width="1.0" stroke-linejoin="round" />
<polygon points="142.6,-122.5 144.7,-121 146.3,-119.2 147.3,-117.3 147.8,-115.1 147.8,-113 147.1,-110.8 145.9,-108.9 144.2,-107.1 142.1,-105.7 139.7,-104.7 137,-104 134.2,-103.8 131.5,-104.1 128.8,-104.8 126.5,-105.9 124.4,-107.3 122.8,-109.1 121.8,-111.1 121.3,-113.2 121.3,-115.4 122,-117.5 123.2,-119.5 124.9,-121.2 127,-122.6 129.4,-123.7 132.1,-124.3 134.9,-124.5 137.6,-124.3 140.3,-123.6" fill="#e6d826" stroke="#6e5e18" stroke-width="1.0" stroke-linejoin="round" />
<polygon points="140,-119.8 141.4,-118.8 142.5,-117.6 143.2,-116.3 143.6,-114.8 143.5,-113.4 143.1,-111.9 142.3,-110.6 141.1,-109.4 139.7,-108.4 138,-107.7 136.2,-107.3 134.3,-107.2 132.5,-107.3 130.7,-107.8 129.1,-108.5 127.7,-109.5 126.6,-110.7 125.9,-112.1 125.5,-113.5 125.6,-115 126,-116.4 126.8,-117.8 128,-118.9 129.4,-119.9 131.1,-120.6 132.9,-121.1 134.8,-121.2 136.6,-121 138.4,-120.6" fill="#d8c82a" stroke="#8a7a20" stroke-width="0.8" stroke-linejoin="round" />
<polygon points="147.4,-140 147.4,-142.2 148.1,-144.3 149.3,-146.3 150.9,-148 153.1,-149.4 155.5,-150.5 158.2,-151.1 161,-151.3 163.7,-151.1 166.4,-150.4 168.7,-149.3 170.8,-147.8 172.3,-146 173.4,-144.1 173.9,-141.9 173.9,-138.3 173.9,-136.2 173.2,-134.1 172,-132.1 170.3,-130.4 168.2,-128.9 165.8,-127.9 163.1,-127.2 160.3,-127 157.6,-127.3 154.9,-128 152.6,-129.1 150.5,-130.6 148.9,-132.3 147.9,-134.3 147.4,-136.4" fill="#b8a42a" stroke="#6e5e18" stroke-width="1.0" stroke-linejoin="round" />
<polygon points="168.7,-149.3 170.8,-147.8 172.4,-146 173.4,-144.1 173.9,-141.9 173.9,-139.8 173.2,-137.6 172,-135.7 170.3,-133.9 168.2,-132.5 165.8,-131.5 163.1,-130.8 160.3,-130.6 157.6,-130.9 154.9,-131.6 152.6,-132.7 150.5,-134.1 148.9,-135.9 147.9,-137.9 147.4,-140 147.4,-142.2 148.1,-144.3 149.3,-146.3 151,-148 153.1,-149.4 155.5,-150.5 158.2,-151.1 161,-151.3 163.7,-151.1 166.4,-150.4" fill="#e6d826" stroke="#6e5e18" stroke-width="1.0" stroke-linejoin="round" />
<polygon points="166.1,-146.6 167.5,-145.6 168.6,-144.4 169.3,-143.1 169.7,-141.6 169.6,-140.2 169.2,-138.7 168.4,-137.4 167.2,-136.2 165.8,-135.2 164.1,-134.5 162.3,-134.1 160.4,-134 158.6,-134.1 156.8,-134.6 155.2,-135.3 153.8,-136.3 152.7,-137.5 152,-138.9 151.6,-140.3 151.7,-141.8 152.1,-143.2 152.9,-144.6 154.1,-145.7 155.5,-146.7 157.2,-147.4 159,-147.9 160.9,-148 162.7,-147.8 164.5,-147.4" fill="#d8c82a" stroke="#8a7a20" stroke-width="0.8" stroke-linejoin="round" />
<polygon points="52.2,-64.6 86.4,-44.6 86.4,-33.6 52.2,-53.6" fill="#b09628" stroke="#6c5c1a" stroke-width="1.0" stroke-linejoin="round" />
<polygon points="86.4,-44.6 138.6,-98.2 138.6,-87.2 86.4,-33.6" fill="#c4ab2e" stroke="#6c5c1a" stroke-width="1.0" stroke-linejoin="round" />
<polygon points="52.2,-64.6 104.4,-118.2 138.6,-98.2 86.4,-44.6" fill="#f0e11e" stroke="#6c5c1a" stroke-width="1.0" stroke-linejoin="round" />
<polygon points="52.2,-97.6 86.4,-77.6 86.4,-44.6 52.2,-64.6" fill="#b09628" stroke="#6c5c1a" stroke-width="1.0" stroke-linejoin="round" />
<polygon points="86.4,-77.6 138.6,-131.2 138.6,-98.2 86.4,-44.6" fill="#c4ab2e" stroke="#6c5c1a" stroke-width="1.0" stroke-linejoin="round" />
<polygon points="52.2,-97.6 104.4,-151.2 138.6,-131.2 86.4,-77.6" fill="#f0e11e" stroke="#6c5c1a" stroke-width="1.0" stroke-linejoin="round" />
<polygon points="69.1,-103.6 69.1,-105.8 69.8,-107.9 71,-109.9 72.7,-111.6 74.8,-113 77.2,-114.1 79.9,-114.7 82.7,-114.9 85.4,-114.7 88.1,-114 90.4,-112.9 92.5,-111.4 94,-109.6 95.1,-107.7 95.6,-105.5 95.6,-102 95.6,-99.8 94.9,-97.7 93.7,-95.7 92,-94 89.9,-92.5 87.5,-91.5 84.8,-90.8 82,-90.6 79.3,-90.9 76.6,-91.6 74.3,-92.7 72.2,-94.2 70.7,-95.9 69.6,-97.9 69.1,-100" fill="#b8a42a" stroke="#6e5e18" stroke-width="1.0" stroke-linejoin="round" />
<polygon points="90.4,-112.9 92.5,-111.4 94.1,-109.6 95.1,-107.7 95.6,-105.5 95.6,-103.4 94.9,-101.2 93.7,-99.3 92,-97.5 89.9,-96.1 87.5,-95.1 84.8,-94.4 82,-94.2 79.3,-94.5 76.6,-95.2 74.3,-96.3 72.2,-97.7 70.6,-99.5 69.6,-101.5 69.1,-103.6 69.1,-105.8 69.8,-107.9 71,-109.9 72.7,-111.6 74.8,-113 77.2,-114.1 79.9,-114.7 82.7,-114.9 85.4,-114.7 88.1,-114" fill="#e6d826" stroke="#6e5e18" stroke-width="1.0" stroke-linejoin="round" />
<polygon points="87.8,-110.2 89.2,-109.2 90.3,-108 91,-106.7 91.4,-105.2 91.3,-103.8 90.9,-102.3 90.1,-101 88.9,-99.8 87.5,-98.8 85.8,-98.1 84,-97.7 82.1,-97.6 80.3,-97.7 78.5,-98.2 76.9,-98.9 75.5,-99.9 74.4,-101.1 73.7,-102.5 73.3,-103.9 73.4,-105.4 73.8,-106.8 74.6,-108.2 75.8,-109.3 77.2,-110.3 78.9,-111 80.7,-111.5 82.6,-111.6 84.4,-111.4 86.2,-111" fill="#d8c82a" stroke="#8a7a20" stroke-width="0.8" stroke-linejoin="round" />
<polygon points="95.2,-130.4 95.2,-132.6 95.9,-134.7 97.1,-136.7 98.8,-138.4 100.9,-139.8 103.3,-140.9 106,-141.5 108.8,-141.7 111.5,-141.5 114.2,-140.8 116.5,-139.7 118.6,-138.2 120.2,-136.4 121.2,-134.4 121.7,-132.3 121.7,-128.8 121.7,-126.6 121,-124.5 119.8,-122.5 118.2,-120.8 116,-119.3 113.6,-118.3 110.9,-117.6 108.1,-117.4 105.4,-117.7 102.7,-118.4 100.4,-119.5 98.3,-121 96.8,-122.7 95.7,-124.7 95.2,-126.8" fill="#b8a42a" stroke="#6e5e18" stroke-width="1.0" stroke-linejoin="round" />
<polygon points="116.5,-139.7 118.6,-138.2 120.2,-136.4 121.2,-134.5 121.7,-132.3 121.7,-130.2 121,-128 119.8,-126.1 118.1,-124.3 116,-122.9 113.6,-121.9 110.9,-121.2 108.1,-121 105.4,-121.3 102.7,-122 100.4,-123.1 98.3,-124.5 96.7,-126.3 95.7,-128.3 95.2,-130.4 95.2,-132.6 95.9,-134.7 97.1,-136.7 98.8,-138.4 100.9,-139.8 103.3,-140.9 106,-141.5 108.8,-141.7 111.5,-141.5 114.2,-140.8" fill="#e6d826" stroke="#6e5e18" stroke-width="1.0" stroke-linejoin="round" />
<polygon points="113.9,-137 115.3,-136 116.4,-134.8 117.1,-133.5 117.5,-132 117.4,-130.6 117,-129.1 116.2,-127.8 115,-126.6 113.6,-125.6 111.9,-124.9 110.1,-124.5 108.2,-124.4 106.4,-124.5 104.6,-125 103,-125.7 101.6,-126.7 100.5,-127.9 99.8,-129.3 99.4,-130.7 99.5,-132.2 99.9,-133.6 100.7,-135 101.9,-136.1 103.3,-137.1 105,-137.8 106.8,-138.3 108.7,-138.4 110.5,-138.2 112.3,-137.8" fill="#d8c82a" stroke="#8a7a20" stroke-width="0.8" stroke-linejoin="round" />
<polygon points="120.3,-96.5 120.2,-98 119.7,-99.2 118.8,-99.8 117.7,-100 116.4,-99.6 114.9,-98.8 113.3,-97.5 111.7,-95.8 110.1,-93.8 108.6,-91.6 107.3,-89.2 106.2,-86.8 105.3,-84.5 104.8,-82.3 104.7,-80.4 104.8,-78.9 105.3,-77.7 106.2,-77.1 107.3,-76.9 108.6,-77.3 110.1,-78.1 111.7,-79.4 113.3,-81.1 114.9,-83.1 116.4,-85.3 117.7,-87.7 118.8,-90.1 119.7,-92.4 120.2,-94.6" fill="#c4ab2e" stroke="#6c5c1a" stroke-width="0.8" stroke-linejoin="round" />
<line x1="106.2" y1="-82" x2="118.8" y2="-94.9" stroke="#8a7a20" stroke-width="3.0" stroke-linecap="butt" />
<line x1="112.5" y1="-81.9" x2="112.5" y2="-95" stroke="#8a7a20" stroke-width="3.0" stroke-linecap="butt" />
<polygon points="152.9,-88.9 153.2,-91.7 154,-95 155.2,-98.5 156.8,-102.1 158.8,-105.6 161.1,-109 163.5,-112 165.9,-114.5 168.3,-116.4 170.6,-117.7 172.6,-118.2 174.2,-118 178.3,-115.6 179.5,-114.6 180.3,-112.9 180.6,-110.6 180.3,-107.8 179.5,-104.5 178.3,-101 176.7,-97.4 174.7,-93.8 172.4,-90.5 170,-87.5 167.6,-85 165.2,-83 162.9,-81.8 160.9,-81.3 159.3,-81.5 155.2,-83.9 154,-84.9 153.2,-86.6" fill="url(#g44)" stroke="#4e4c54" stroke-width="0.7" stroke-linejoin="round" />
<polygon points="180.5,-110.6 180.3,-112.9 179.5,-114.6 178.3,-115.6 176.7,-115.8 174.7,-115.3 172.4,-114 170,-112.1 167.6,-109.6 165.2,-106.6 162.9,-103.2 160.9,-99.7 159.3,-96.1 158.1,-92.6 157.3,-89.3 157.1,-86.5 157.3,-84.2 158.1,-82.5 159.3,-81.5 160.9,-81.3 162.9,-81.8 165.2,-83 167.6,-85 170,-87.5 172.4,-90.5 174.7,-93.9 176.7,-97.4 178.3,-101 179.5,-104.5 180.3,-107.8" fill="#aeaeb6" stroke="#4e4c54" stroke-width="0.7" stroke-linejoin="round" />
<polygon points="159.4,-88.9 159.6,-91.2 160.2,-93.8 161.2,-96.5 162.5,-99.4 164.1,-102.3 165.9,-105 167.8,-107.4 169.8,-109.4 171.7,-110.9 173.5,-111.9 175.1,-112.3 176.4,-112.2 196.2,-100.6 197.2,-99.8 197.8,-98.4 198,-96.6 197.8,-94.3 197.2,-91.7 196.2,-88.9 194.9,-86 193.3,-83.2 191.5,-80.5 189.6,-78.1 187.7,-76.1 185.7,-74.5 183.9,-73.5 182.3,-73.1 181,-73.3 161.2,-84.9 160.2,-85.7 159.6,-87" fill="url(#g45)" stroke="#4e4c54" stroke-width="0.6" stroke-linejoin="round" />
<polygon points="177.7,-75.7 177.9,-78.3 178.6,-81.3 179.8,-84.6 181.3,-88 183.2,-91.3 185.2,-94.4 187.5,-97.2 189.8,-99.6 192,-101.4 194.1,-102.6 196,-103 197.5,-102.8 207.8,-96.8 208.9,-95.9 209.6,-94.3 209.9,-92.2 209.6,-89.5 208.9,-86.5 207.8,-83.2 206.2,-79.9 204.4,-76.6 202.3,-73.4 200.1,-70.6 197.8,-68.3 195.5,-66.5 193.4,-65.3 191.6,-64.8 190,-65 179.8,-71 178.6,-72 177.9,-73.5" fill="url(#g46)" stroke="#4a4650" stroke-width="0.7" stroke-linejoin="round" />
<polygon points="209.9,-92.2 209.6,-94.3 208.9,-95.9 207.8,-96.8 206.2,-97.1 204.4,-96.6 202.3,-95.4 200,-93.6 197.8,-91.2 195.5,-88.4 193.4,-85.3 191.6,-82 190,-78.6 188.9,-75.4 188.2,-72.3 187.9,-69.7 188.2,-67.5 188.9,-66 190,-65 191.6,-64.8 193.4,-65.3 195.5,-66.5 197.8,-68.3 200,-70.6 202.3,-73.4 204.4,-76.6 206.2,-79.9 207.8,-83.3 208.9,-86.5 209.6,-89.5" fill="#9a96a0" stroke="#4a4650" stroke-width="0.7" stroke-linejoin="round" />
<polygon points="189.4,-73.9 189.5,-75.8 190,-78 190.9,-80.3 191.9,-82.7 193.3,-85.1 194.8,-87.3 196.4,-89.3 198,-91 199.6,-92.3 201.1,-93.1 202.4,-93.5 203.5,-93.3 229.2,-78.3 230,-77.6 230.5,-76.5 230.7,-75 230.5,-73.1 230,-70.9 229.2,-68.6 228.1,-66.2 226.8,-63.8 225.3,-61.6 223.7,-59.6 222,-57.9 220.4,-56.6 218.9,-55.8 217.6,-55.4 216.5,-55.6 190.9,-70.6 190,-71.2 189.5,-72.4" fill="url(#g47)" stroke="#0c5418" stroke-width="0.6" stroke-linejoin="round" />
<line x1="200.2" y1="-87.1" x2="225.9" y2="-72.1" stroke="#4cc050" stroke-width="1.4" stroke-linecap="butt" />
<line x1="198.1" y1="-83.5" x2="223.7" y2="-68.5" stroke="#0c5418" stroke-width="1.6" stroke-linecap="butt" />
<line x1="195.4" y1="-78.8" x2="221" y2="-63.8" stroke="#0c5418" stroke-width="1.6" stroke-linecap="butt" />
<line x1="196.9" y1="-81.4" x2="222.5" y2="-66.4" stroke="#4cc050" stroke-width="1.0" stroke-linecap="butt" />
<polygon points="230.7,-75 230.5,-76.5 230,-77.6 229.2,-78.3 228.1,-78.4 226.8,-78.1 225.3,-77.3 223.7,-76 222,-74.3 220.4,-72.3 218.9,-70.1 217.6,-67.7 216.5,-65.3 215.7,-62.9 215.2,-60.8 215,-58.9 215.2,-57.4 215.7,-56.2 216.5,-55.6 217.6,-55.4 218.9,-55.8 220.4,-56.6 222,-57.9 223.7,-59.6 225.3,-61.6 226.8,-63.8 228.1,-66.2 229.2,-68.6 230,-70.9 230.5,-73.1" fill="#28963a" stroke="#0c5418" stroke-width="0.8" stroke-linejoin="round" />
<line x1="215.8" y1="-59.7" x2="229.9" y2="-74.2" stroke="#0c5418" stroke-width="2.0" stroke-linecap="butt" />
<line x1="222.8" y1="-59.5" x2="222.8" y2="-74.4" stroke="#0c5418" stroke-width="2.0" stroke-linecap="butt" />
<path d="M566,741 L511,802" transform="translate(-313.3,-755.6)" fill="none" stroke="#3d6f98" stroke-width="11.6" stroke-linecap="butt" stroke-linejoin="round"/>
<path d="M566,741 L511,802" transform="translate(-313.3,-755.6)" fill="none" stroke="#58b2e6" stroke-width="8.2" stroke-linecap="butt" stroke-linejoin="round"/>
<path d="M566,741 L511,802" transform="translate(-315,-757.2)" fill="none" stroke="#8ccff4" stroke-width="2.6" stroke-linecap="butt" stroke-linejoin="round"/>
<polygon points="194.3,-41.5 194.9,-47.8 196.6,-55 199.3,-62.8 203,-70.8 207.4,-78.8 212.4,-86.2 217.7,-92.9 223.2,-98.5 228.5,-102.8 233.5,-105.5 237.9,-106.7 241.6,-106.2 244.3,-104 312.2,-37 313,-35.3 313.2,-33 313,-30.2 312.2,-26.9 311,-23.4 309.4,-19.8 307.4,-16.2 305.1,-12.9 302.7,-9.9 300.3,-7.4 297.9,-5.4 295.6,-4.2 293.6,-3.7 292,-3.9 199.3,-30.5 196.6,-32.7 194.9,-36.4" fill="url(#g48)" stroke="#760a10" stroke-width="0.7" stroke-linejoin="round" />
<polyline points="299.8,-34.9 298.5,-33.5 297.2,-32 296,-30.3 294.8,-28.6 293.7,-26.8 292.6,-25 291.6,-23.1 290.7,-21.2 289.9,-19.3 289.2,-17.5 288.6,-15.7 288.1,-14 287.8,-12.3 287.6,-10.8 287.5,-9.3 287.6,-8.1 287.8,-6.9 288.1,-6 288.6,-5.2 289.2,-4.6 289.9,-4.1 290.7,-3.9 291.6,-3.9 292.6,-4.1 293.7,-4.4 294.8,-5 296,-5.8 297.2,-6.7 298.5,-7.8 299.8,-9" fill="none" stroke="#760a10" stroke-width="1.0" stroke-linejoin="round" stroke-linecap="round" />
<polygon points="289.8,-8.9 290,-11.7 290.8,-14.9 292,-18.4 293.6,-22.1 295.6,-25.6 297.9,-29 300.3,-32 302.7,-34.5 305.1,-36.4 307.4,-37.7 309.4,-38.2 311,-38 377.7,1 378.9,2 379.7,3.7 379.9,6 379.7,8.8 378.9,12.1 377.7,15.6 376.1,19.2 374.1,22.8 371.8,26.1 369.4,29.1 367,31.6 364.6,33.6 362.3,34.8 360.3,35.3 358.7,35.1 292,-3.9 290.8,-4.9 290,-6.6" fill="url(#g49)" stroke="#760a10" stroke-width="0.7" stroke-linejoin="round" />
<polyline points="356.2,-1.3 355,0 353.8,1.5 352.6,3 351.4,4.7 350.3,6.4 349.3,8.1 348.4,9.9 347.5,11.7 346.7,13.5 346,15.3 345.5,17 345,18.7 344.7,20.3 344.5,21.8 344.5,23.1 344.5,24.3 344.7,25.4 345,26.4 345.5,27.1 346,27.7 346.7,28.1 347.5,28.3 348.4,28.3 349.3,28.2 350.3,27.8 351.4,27.3 352.6,26.6 353.8,25.7 355,24.6 356.2,23.4" fill="none" stroke="#760a10" stroke-width="1.0" stroke-linejoin="round" stroke-linecap="round" />
<polyline points="361.4,1.7 360.1,3 358.9,4.5 357.7,6 356.6,7.7 355.5,9.4 354.4,11.1 353.5,12.9 352.6,14.7 351.8,16.5 351.2,18.3 350.6,20 350.2,21.7 349.9,23.3 349.7,24.8 349.6,26.1 349.7,27.3 349.9,28.4 350.2,29.4 350.6,30.1 351.2,30.7 351.8,31.1 352.6,31.3 353.5,31.3 354.4,31.2 355.5,30.8 356.6,30.3 357.7,29.6 358.9,28.7 360.1,27.6 361.4,26.4" fill="none" stroke="#760a10" stroke-width="1.0" stroke-linejoin="round" stroke-linecap="round" />
<polygon points="354.2,29.7 354.5,26.7 355.3,23.3 356.6,19.7 358.3,15.9 360.4,12.2 362.7,8.7 365.2,5.5 367.8,2.9 370.3,0.9 372.6,-0.4 374.7,-1 376.4,-0.7 381.5,2.3 382.8,3.3 383.6,5 383.9,7.5 383.6,10.4 382.8,13.8 381.5,17.5 379.8,21.2 377.7,25 375.4,28.5 372.9,31.6 370.3,34.2 367.8,36.2 365.5,37.5 363.4,38.1 361.7,37.9 356.6,34.9 355.3,33.8 354.5,32.1" fill="url(#g50)" stroke="#760a10" stroke-width="0.7" stroke-linejoin="round" />
<polygon points="383.9,7.5 383.6,5.1 382.8,3.3 381.5,2.3 379.8,2 377.7,2.6 375.4,3.9 372.9,5.9 370.3,8.5 367.8,11.7 365.5,15.2 363.4,18.9 361.7,22.7 360.4,26.3 359.6,29.7 359.3,32.7 359.6,35.1 360.4,36.8 361.7,37.9 363.4,38.1 365.5,37.6 367.8,36.2 370.3,34.2 372.9,31.6 375.4,28.5 377.7,25 379.8,21.2 381.5,17.5 382.8,13.8 383.6,10.4" fill="#c01818" stroke="#760a10" stroke-width="0.7" stroke-linejoin="round" />
<polygon points="362.1,27.1 362.2,25.2 362.8,23.1 363.6,20.7 364.7,18.3 366,15.9 367.5,13.7 369.1,11.7 370.7,10 372.3,8.7 373.8,7.9 375.1,7.5 376.2,7.7 413.9,29.7 414.7,30.4 415.2,31.5 415.4,33 415.2,34.9 414.7,37.1 413.9,39.4 412.8,41.8 411.4,44.2 409.9,46.4 408.3,48.4 406.7,50.1 405.1,51.4 403.6,52.2 402.3,52.6 401.2,52.4 363.6,30.4 362.8,29.8 362.2,28.6" fill="url(#g51)" stroke="#4e4c54" stroke-width="0.6" stroke-linejoin="round" />
<polygon points="360,29.2 360.2,26.9 360.8,24.1 361.9,21.2 363.3,18.1 364.9,15.1 366.8,12.3 368.9,9.7 370.9,7.6 373,6 374.9,4.9 376.5,4.5 377.9,4.7 382,7.1 383.1,7.9 383.7,9.3 383.9,11.3 383.7,13.7 383.1,16.4 382,19.4 380.6,22.4 379,25.4 377.1,28.2 375,30.8 373,32.9 370.9,34.5 369.1,35.6 367.4,36 366,35.8 361.9,33.4 360.8,32.6 360.2,31.2" fill="url(#g52)" stroke="#4e4c54" stroke-width="0.7" stroke-linejoin="round" />
<polygon points="383.9,11.3 383.7,9.3 383.1,7.9 382,7.1 380.6,6.9 379,7.3 377.1,8.4 375,10 373,12.1 370.9,14.7 369,17.5 367.4,20.5 366,23.6 364.9,26.5 364.3,29.3 364.1,31.6 364.3,33.6 364.9,35 366,35.8 367.4,36 369,35.6 370.9,34.5 373,32.9 375,30.8 377.1,28.3 379,25.4 380.6,22.4 382,19.4 383.1,16.4 383.7,13.7" fill="#aeaeb6" stroke="#4e4c54" stroke-width="0.7" stroke-linejoin="round" />
<polygon points="415.4,33 415.2,31.5 414.7,30.4 413.9,29.7 412.8,29.6 411.4,29.9 409.9,30.7 408.3,32 406.7,33.7 405.1,35.7 403.6,37.9 402.3,40.3 401.2,42.7 400.4,45.1 399.9,47.2 399.7,49.1 399.9,50.6 400.4,51.8 401.2,52.4 402.3,52.6 403.6,52.2 405.1,51.4 406.7,50.1 408.3,48.4 409.9,46.4 411.4,44.2 412.8,41.8 413.9,39.4 414.7,37.1 415.2,34.9" fill="#a8a8b0" stroke="#4e4c54" stroke-width="0.7" stroke-linejoin="round" />
<polygon points="412,36.5 411.9,35.6 411.6,35 411.1,34.6 410.5,34.5 409.7,34.7 408.9,35.2 408,35.9 407.1,36.9 406.1,38 405.3,39.3 404.6,40.6 403.9,42 403.5,43.3 403.2,44.5 403.1,45.6 403.2,46.5 403.5,47.1 403.9,47.5 404.6,47.6 405.3,47.4 406.1,46.9 407.1,46.2 408,45.2 408.9,44.1 409.7,42.8 410.5,41.5 411.1,40.1 411.6,38.8 411.9,37.6" fill="#56525a" /></g>
<linearGradient id="g53" gradientUnits="userSpaceOnUse" x1="104.5" y1="9.9" x2="85.1" y2="43"><stop offset="0" stop-color="#af141b"/><stop offset="0.14" stop-color="#ec2a32"/><stop offset="0.5" stop-color="#de1c24"/><stop offset="0.82" stop-color="#a51219"/><stop offset="1" stop-color="#760a10"/></linearGradient>
<linearGradient id="g54" gradientUnits="userSpaceOnUse" x1="139.8" y1="31.9" x2="121.7" y2="63"><stop offset="0" stop-color="#af141b"/><stop offset="0.14" stop-color="#ec2a32"/><stop offset="0.5" stop-color="#de1c24"/><stop offset="0.82" stop-color="#a51219"/><stop offset="1" stop-color="#760a10"/></linearGradient>
<linearGradient id="g55" gradientUnits="userSpaceOnUse" x1="192.7" y1="35" x2="150.2" y2="107.5"><stop offset="0" stop-color="#af141b"/><stop offset="0.14" stop-color="#ec2a32"/><stop offset="0.5" stop-color="#de1c24"/><stop offset="0.82" stop-color="#a51219"/><stop offset="1" stop-color="#760a10"/></linearGradient>
<linearGradient id="g56" gradientUnits="userSpaceOnUse" x1="232.2" y1="92.9" x2="220.1" y2="113.6"><stop offset="0" stop-color="#af141b"/><stop offset="0.14" stop-color="#ec2a32"/><stop offset="0.5" stop-color="#de1c24"/><stop offset="0.82" stop-color="#a51219"/><stop offset="1" stop-color="#760a10"/></linearGradient>
<linearGradient id="g57" gradientUnits="userSpaceOnUse" x1="245.8" y1="95.3" x2="228.8" y2="124.3"><stop offset="0" stop-color="#83828a"/><stop offset="0.14" stop-color="#d4d4da"/><stop offset="0.5" stop-color="#aeaeb6"/><stop offset="0.82" stop-color="#797880"/><stop offset="1" stop-color="#4e4c54"/></linearGradient>
<linearGradient id="g58" gradientUnits="userSpaceOnUse" x1="259.5" y1="107" x2="245.8" y2="130.5"><stop offset="0" stop-color="#83828a"/><stop offset="0.14" stop-color="#d4d4da"/><stop offset="0.5" stop-color="#aeaeb6"/><stop offset="0.82" stop-color="#797880"/><stop offset="1" stop-color="#4e4c54"/></linearGradient>
<linearGradient id="g59" gradientUnits="userSpaceOnUse" x1="276.5" y1="113.3" x2="259.6" y2="142.3"><stop offset="0" stop-color="#83828a"/><stop offset="0.14" stop-color="#d4d4da"/><stop offset="0.5" stop-color="#aeaeb6"/><stop offset="0.82" stop-color="#797880"/><stop offset="1" stop-color="#4e4c54"/></linearGradient>
<linearGradient id="g60" gradientUnits="userSpaceOnUse" x1="312.6" y1="139.9" x2="300.5" y2="160.6"><stop offset="0" stop-color="#af141b"/><stop offset="0.14" stop-color="#ec2a32"/><stop offset="0.5" stop-color="#de1c24"/><stop offset="0.82" stop-color="#a51219"/><stop offset="1" stop-color="#760a10"/></linearGradient>
<g id="bf"><polygon points="49.5,20.1 49.8,17.1 50.6,13.7 51.9,9.9 53.6,6.1 55.8,2.3 58.1,-1.3 60.7,-4.5 63.3,-7.2 65.9,-9.3 68.3,-10.6 70.4,-11.2 72.2,-10.9 137.8,27.5 139.1,28.5 139.9,30.3 140.2,32.8 139.9,35.8 139.1,39.3 137.8,43 136.1,46.9 133.9,50.7 131.6,54.2 129,57.5 126.4,60.1 123.8,62.2 121.4,63.5 119.3,64.1 117.5,63.8 51.9,25.4 50.6,24.4 49.8,22.6" fill="url(#g53)" stroke="#760a10" stroke-width="0.7" stroke-linejoin="round" />
<polyline points="120.2,28.1 118.8,29.5 117.5,31 116.3,32.7 115.1,34.4 113.9,36.3 112.8,38.1 111.8,40.1 110.8,42 110,43.9 109.3,45.8 108.7,47.6 108.2,49.4 107.9,51.1 107.7,52.7 107.6,54.1 107.7,55.4 107.9,56.6 108.2,57.6 108.7,58.4 109.3,59 110,59.4 110.8,59.7 111.8,59.7 112.8,59.5 113.9,59.1 115.1,58.6 116.3,57.8 117.5,56.8 118.8,55.7 120.2,54.5" fill="none" stroke="#760a10" stroke-width="1.0" stroke-linejoin="round" stroke-linecap="round" />
<polyline points="125.3,31.1 124,32.5 122.7,34 121.4,35.7 120.2,37.4 119,39.3 117.9,41.1 116.9,43.1 116,45 115.1,46.9 114.4,48.8 113.8,50.6 113.4,52.4 113,54.1 112.8,55.7 112.8,57.1 112.8,58.4 113,59.6 113.4,60.6 113.8,61.4 114.4,62 115.1,62.4 116,62.7 116.9,62.7 117.9,62.5 119,62.1 120.2,61.6 121.4,60.8 122.7,59.8 124,58.7 125.3,57.5" fill="none" stroke="#760a10" stroke-width="1.0" stroke-linejoin="round" stroke-linecap="round" />
<polygon points="115.9,57.7 116.2,54.9 116.9,51.6 118.2,48.1 119.8,44.5 121.8,41 124,37.6 126.5,34.6 128.9,32.1 131.3,30.2 133.6,28.9 135.5,28.4 137.2,28.6 143.3,32.2 144.6,33.2 145.3,34.9 145.6,37.2 145.3,40 144.6,43.3 143.3,46.8 141.7,50.4 139.7,54 137.5,57.3 135.1,60.3 132.6,62.8 130.2,64.8 128,66 126,66.5 124.3,66.3 118.2,62.7 116.9,61.7 116.2,60" fill="url(#g54)" stroke="#760a10" stroke-width="0.7" stroke-linejoin="round" />
<polygon points="119.1,61.7 119.4,58.5 120.2,54.9 121.6,51 123.4,47 125.6,43 128.1,39.3 130.8,36 133.5,33.2 136.2,31 138.7,29.6 140.8,29.1 142.7,29.3 232.9,54.5 235.8,56.8 237.6,60.7 238.2,66.1 237.6,72.7 235.8,80.3 232.9,88.5 229.1,96.9 224.5,105.2 219.2,113 213.6,120 207.9,125.9 202.3,130.4 197.1,133.3 192.4,134.6 188.6,134 185.7,131.7 120.2,66.1 119.4,64.2" fill="url(#g55)" stroke="#760a10" stroke-width="0.7" stroke-linejoin="round" />
<polygon points="238.2,66.1 237.6,60.7 235.8,56.8 233,54.5 229.1,54 224.5,55.2 219.2,58.1 213.6,62.6 207.9,68.5 202.3,75.5 197.1,83.3 192.4,91.6 188.6,100.1 185.7,108.2 184,115.8 183.4,122.4 184,127.8 185.7,131.7 188.6,134 192.4,134.6 197.1,133.3 202.3,130.4 207.9,125.9 213.6,120 219.2,113 224.5,105.2 229.1,96.9 233,88.5 235.8,80.3 237.6,72.7" fill="#b81418" stroke="#760a10" stroke-width="1.0" stroke-linejoin="round" />
<polygon points="231.3,70.5 230.8,66.1 229.3,62.9 227,61.1 223.9,60.6 220.2,61.6 215.9,64 211.4,67.6 206.8,72.4 202.2,78.1 198,84.4 194.2,91.1 191.1,98 188.8,104.6 187.4,110.7 186.9,116 187.4,120.4 188.8,123.6 191.1,125.4 194.2,125.9 198,124.9 202.2,122.5 206.8,118.9 211.4,114.1 215.9,108.5 220.2,102.1 223.9,95.4 227,88.6 229.3,82 230.8,75.8" fill="#c8181c" stroke="#7a0a0a" stroke-width="1.0" stroke-linejoin="round" />
<polygon points="220.8,81.2 220.6,78.9 219.8,77.2 218.6,76.2 216.9,76 214.9,76.5 212.7,77.8 210.3,79.7 207.8,82.2 205.4,85.2 203.2,88.6 201.2,92.1 199.6,95.7 198.3,99.2 197.6,102.5 197.3,105.3 197.6,107.6 198.3,109.3 199.6,110.3 201.2,110.5 203.2,110 205.4,108.8 207.8,106.8 210.3,104.3 212.7,101.3 214.9,97.9 216.9,94.4 218.6,90.8 219.8,87.3 220.6,84" fill="#b01418" stroke="#7a0a0a" stroke-width="0.9" stroke-linejoin="round" />
<line x1="218.8" y1="76.3" x2="227.4" y2="61.3" stroke="#7a0a0a" stroke-width="1.6" stroke-linecap="butt" />
<line x1="202.2" y1="90.4" x2="196" y2="87.8" stroke="#7a0a0a" stroke-width="1.6" stroke-linecap="butt" />
<line x1="199.8" y1="110.4" x2="191.5" y2="125.6" stroke="#7a0a0a" stroke-width="1.6" stroke-linecap="butt" />
<line x1="215.6" y1="96.9" x2="221.4" y2="100.1" stroke="#7a0a0a" stroke-width="1.6" stroke-linecap="butt" />
<polygon points="206.4,104.3 206.5,102.4 207.1,100.2 207.9,97.9 209,95.5 210.3,93.1 211.8,90.9 213.4,88.9 215,87.2 216.6,85.9 218.1,85.1 219.4,84.8 220.5,84.9 244.5,98.9 245.3,99.6 245.8,100.7 246,102.2 245.8,104.1 245.3,106.3 244.5,108.6 243.4,111 242.1,113.4 240.6,115.6 239,117.6 237.3,119.3 235.7,120.6 234.2,121.4 232.9,121.8 231.8,121.6 207.9,107.6 207.1,107 206.5,105.8" fill="url(#g56)" stroke="#760a10" stroke-width="0.6" stroke-linejoin="round" />
<line x1="217.2" y1="91.1" x2="241.2" y2="105.1" stroke="#ec2a32" stroke-width="1.4" stroke-linecap="butt" />
<line x1="215.1" y1="94.7" x2="239" y2="108.7" stroke="#760a10" stroke-width="1.6" stroke-linecap="butt" />
<line x1="212.4" y1="99.4" x2="236.3" y2="113.4" stroke="#760a10" stroke-width="1.6" stroke-linecap="butt" />
<line x1="213.9" y1="96.8" x2="237.8" y2="110.8" stroke="#ec2a32" stroke-width="1.0" stroke-linecap="butt" />
<polygon points="246,102.2 245.8,100.7 245.3,99.6 244.5,98.9 243.4,98.8 242.1,99.1 240.6,99.9 239,101.2 237.3,102.9 235.7,104.9 234.2,107.1 232.9,109.5 231.8,111.9 231,114.3 230.5,116.4 230.3,118.3 230.5,119.8 231,121 231.8,121.6 232.9,121.8 234.2,121.4 235.7,120.6 237.3,119.3 239,117.6 240.6,115.6 242.1,113.4 243.4,111 244.5,108.6 245.3,106.3 245.8,104.1" fill="#de1c24" stroke="#760a10" stroke-width="0.8" stroke-linejoin="round" />
<line x1="231.1" y1="117.5" x2="245.2" y2="103" stroke="#760a10" stroke-width="2.0" stroke-linecap="butt" />
<line x1="238.1" y1="117.7" x2="238.1" y2="102.8" stroke="#760a10" stroke-width="2.0" stroke-linecap="butt" />
<polygon points="223.8,119.5 224,116.9 224.7,113.8 225.8,110.6 227.4,107.2 229.2,103.9 231.3,100.8 233.6,98 235.9,95.6 238.1,93.8 240.2,92.6 242.1,92.2 243.6,92.4 248.7,95.4 249.9,96.3 250.6,97.8 250.8,100 250.6,102.7 249.9,105.7 248.7,109 247.2,112.3 245.3,115.6 243.2,118.8 241,121.6 238.7,123.9 236.5,125.7 234.4,126.9 232.5,127.4 231,127.2 225.8,124.2 224.7,123.2 224,121.7" fill="url(#g57)" stroke="#4e4c54" stroke-width="0.7" stroke-linejoin="round" />
<polygon points="250.8,100 250.6,97.9 249.9,96.3 248.7,95.4 247.2,95.1 245.3,95.6 243.2,96.8 241,98.6 238.7,101 236.5,103.8 234.4,106.9 232.5,110.2 231,113.6 229.8,116.8 229.1,119.9 228.9,122.5 229.1,124.7 229.8,126.2 231,127.2 232.5,127.4 234.4,126.9 236.5,125.7 238.7,123.9 241,121.6 243.2,118.8 245.3,115.6 247.2,112.3 248.7,108.9 249.9,105.7 250.6,102.7" fill="#aeaeb6" stroke="#4e4c54" stroke-width="0.7" stroke-linejoin="round" />
<polygon points="231,120.4 231.2,118.2 231.7,115.8 232.7,113.1 233.9,110.4 235.4,107.7 237.1,105.2 238.9,102.9 240.8,101 242.6,99.5 244.3,98.6 245.8,98.2 247,98.4 272.7,113.4 273.6,114.1 274.2,115.4 274.4,117.2 274.2,119.3 273.6,121.7 272.7,124.4 271.4,127.1 269.9,129.8 268.2,132.3 266.4,134.6 264.6,136.5 262.8,138 261.1,138.9 259.6,139.3 258.3,139.1 232.7,124.1 231.7,123.4 231.2,122.1" fill="url(#g58)" stroke="#4e4c54" stroke-width="0.6" stroke-linejoin="round" />
<polygon points="254.5,137.5 254.8,134.9 255.5,131.8 256.6,128.6 258.2,125.2 260,121.9 262.1,118.8 264.4,116 266.6,113.6 268.9,111.8 271,110.6 272.8,110.2 274.4,110.4 279.5,113.4 280.6,114.3 281.4,115.8 281.6,118 281.4,120.7 280.6,123.7 279.5,127 278,130.3 276.1,133.6 274,136.8 271.8,139.6 269.5,141.9 267.2,143.7 265.1,144.9 263.3,145.4 261.8,145.2 256.6,142.2 255.5,141.2 254.8,139.7" fill="url(#g59)" stroke="#4e4c54" stroke-width="0.7" stroke-linejoin="round" />
<polygon points="281.6,118 281.4,115.9 280.6,114.3 279.5,113.4 278,113.1 276.1,113.6 274,114.8 271.8,116.6 269.5,119 267.2,121.8 265.1,124.9 263.3,128.2 261.8,131.6 260.6,134.8 259.9,137.9 259.7,140.5 259.9,142.7 260.6,144.2 261.8,145.2 263.3,145.4 265.1,144.9 267.2,143.7 269.5,141.9 271.8,139.6 274,136.8 276.1,133.6 278,130.3 279.5,126.9 280.6,123.7 281.4,120.7" fill="#b0b0b8" stroke="#4e4c54" stroke-width="0.7" stroke-linejoin="round" />
<polygon points="261.1,136.3 261.3,134.4 261.8,132.2 262.6,129.9 263.7,127.5 265,125.1 266.5,122.9 268.1,120.9 269.7,119.2 271.3,117.9 272.8,117.1 274.2,116.8 275.2,116.9 350.5,160.9 351.3,161.6 351.8,162.7 352,164.2 351.8,166.1 351.3,168.3 350.5,170.6 349.4,173 348.1,175.4 346.6,177.6 345,179.6 343.3,181.3 341.7,182.6 340.2,183.4 338.9,183.8 337.8,183.6 262.6,139.6 261.8,139 261.3,137.8" fill="url(#g60)" stroke="#760a10" stroke-width="0.6" stroke-linejoin="round" />
<line x1="271.9" y1="123.1" x2="347.2" y2="167.1" stroke="#ec2a32" stroke-width="1.4" stroke-linecap="butt" />
<line x1="269.8" y1="126.7" x2="345.1" y2="170.7" stroke="#760a10" stroke-width="1.6" stroke-linecap="butt" />
<line x1="267.1" y1="131.4" x2="342.3" y2="175.4" stroke="#760a10" stroke-width="1.6" stroke-linecap="butt" />
<line x1="268.6" y1="128.8" x2="343.9" y2="172.8" stroke="#ec2a32" stroke-width="1.0" stroke-linecap="butt" />
<polygon points="352,164.2 351.8,162.7 351.3,161.6 350.5,160.9 349.4,160.8 348.1,161.1 346.6,161.9 345,163.2 343.3,164.9 341.7,166.9 340.2,169.1 338.9,171.5 337.8,173.9 337,176.3 336.5,178.4 336.3,180.3 336.5,181.8 337,183 337.8,183.6 338.9,183.8 340.2,183.4 341.7,182.6 343.3,181.3 345,179.6 346.6,177.6 348.1,175.4 349.4,173 350.5,170.6 351.3,168.3 351.8,166.1" fill="#de1c24" stroke="#760a10" stroke-width="0.8" stroke-linejoin="round" />
<line x1="337.1" y1="179.5" x2="351.2" y2="165" stroke="#760a10" stroke-width="2.0" stroke-linecap="butt" />
<line x1="344.2" y1="179.7" x2="344.2" y2="164.8" stroke="#760a10" stroke-width="2.0" stroke-linecap="butt" />
<path d="M601.5,697 C601.5,689 599,683.5 593,682.5 C587,681.5 582,684 577,690 C570,699 563,706 558,711 L534.5,731 L481,790 C470,800 461,812 458,827 C455.5,841 456,851 461,856" transform="translate(-313.3,-755.6)" fill="none" stroke="#3d6f98" stroke-width="11.6" stroke-linecap="butt" stroke-linejoin="round"/>
<path d="M601.5,697 C601.5,689 599,683.5 593,682.5 C587,681.5 582,684 577,690 C570,699 563,706 558,711 L534.5,731 L481,790 C470,800 461,812 458,827 C455.5,841 456,851 461,856" transform="translate(-313.3,-755.6)" fill="none" stroke="#58b2e6" stroke-width="8.2" stroke-linecap="butt" stroke-linejoin="round"/>
<path d="M601.5,697 C601.5,689 599,683.5 593,682.5 C587,681.5 582,684 577,690 C570,699 563,706 558,711 L534.5,731 L481,790 C470,800 461,812 458,827 C455.5,841 456,851 461,856" transform="translate(-315,-757.2)" fill="none" stroke="#8ccff4" stroke-width="2.6" stroke-linecap="butt" stroke-linejoin="round"/></g>
<linearGradient id="g61" gradientUnits="userSpaceOnUse" x1="185.1" y1="7.8" x2="207.5" y2="7.8"><stop offset="0" stop-color="#111111"/><stop offset="0.14" stop-color="#3c3c3c"/><stop offset="0.5" stop-color="#1c1c1c"/><stop offset="0.82" stop-color="#0e0e0e"/><stop offset="1" stop-color="#030303"/></linearGradient>
<linearGradient id="g62" gradientUnits="userSpaceOnUse" x1="219.6" y1="28" x2="242" y2="28"><stop offset="0" stop-color="#111111"/><stop offset="0.14" stop-color="#3c3c3c"/><stop offset="0.5" stop-color="#1c1c1c"/><stop offset="0.82" stop-color="#0e0e0e"/><stop offset="1" stop-color="#030303"/></linearGradient>
<g id="bkl"><polygon points="184.3,-27 184.3,-29 184.9,-30.9 186,-32.7 187.5,-34.2 189.4,-35.5 191.7,-36.5 194.1,-37.1 196.6,-37.3 199.1,-37 201.4,-36.4 203.6,-35.4 205.4,-34.1 206.9,-32.5 207.8,-30.7 208.3,-28.8 208.3,42.7 208.2,44.7 207.7,46.6 206.6,48.4 205.1,50 203.1,51.2 200.9,52.2 198.5,52.8 196,53 193.5,52.7 191.1,52.1 189,51.1 187.2,49.8 185.7,48.2 184.8,46.4 184.3,44.5" fill="url(#g61)" stroke="#030303" stroke-width="0.6" stroke-linejoin="round" />
<line x1="190.7" y1="43.6" x2="190.7" y2="-27.9" stroke="#3c3c3c" stroke-width="1.4" stroke-linecap="butt" />
<line x1="194.6" y1="43.6" x2="194.6" y2="-27.9" stroke="#030303" stroke-width="1.6" stroke-linecap="butt" />
<line x1="199.7" y1="43.6" x2="199.7" y2="-27.9" stroke="#030303" stroke-width="1.6" stroke-linecap="butt" />
<line x1="196.9" y1="43.6" x2="196.9" y2="-27.9" stroke="#3c3c3c" stroke-width="1.0" stroke-linecap="butt" />
<polygon points="203.6,-35.4 205.4,-34.1 206.9,-32.5 207.8,-30.7 208.3,-28.8 208.2,-26.8 207.7,-24.9 206.6,-23.1 205,-21.5 203.1,-20.3 200.9,-19.3 198.5,-18.7 196,-18.5 193.5,-18.8 191.1,-19.4 189,-20.4 187.2,-21.7 185.7,-23.3 184.7,-25.1 184.3,-27 184.3,-29 184.9,-30.9 186,-32.7 187.5,-34.3 189.4,-35.5 191.7,-36.5 194.1,-37.1 196.6,-37.3 199.1,-37 201.4,-36.4" fill="#1c1c1c" stroke="#030303" stroke-width="0.8" stroke-linejoin="round" />
<line x1="189.7" y1="-21.1" x2="202.9" y2="-34.7" stroke="#030303" stroke-width="2.0" stroke-linecap="butt" />
<line x1="187.7" y1="-32.9" x2="204.9" y2="-22.9" stroke="#030303" stroke-width="2.0" stroke-linecap="butt" />
<polygon points="218.8,-17.8 218.9,-19.8 219.5,-21.7 220.5,-23.5 222.1,-25.1 224,-26.3 226.2,-27.3 228.6,-27.9 231.1,-28.1 233.6,-27.8 236,-27.2 238.1,-26.2 240,-24.9 241.4,-23.3 242.4,-21.5 242.8,-19.6 242.8,73.9 242.8,75.9 242.2,77.8 241.1,79.6 239.6,81.2 237.7,82.4 235.5,83.4 233.1,84 230.6,84.2 228.1,83.9 225.7,83.3 223.5,82.3 221.7,81 220.3,79.4 219.3,77.6 218.8,75.7" fill="url(#g62)" stroke="#030303" stroke-width="0.6" stroke-linejoin="round" />
<line x1="225.2" y1="74.8" x2="225.2" y2="-18.7" stroke="#3c3c3c" stroke-width="1.4" stroke-linecap="butt" />
<line x1="229.2" y1="74.8" x2="229.2" y2="-18.7" stroke="#030303" stroke-width="1.6" stroke-linecap="butt" />
<line x1="234.2" y1="74.8" x2="234.2" y2="-18.7" stroke="#030303" stroke-width="1.6" stroke-linecap="butt" />
<line x1="231.4" y1="74.8" x2="231.4" y2="-18.7" stroke="#3c3c3c" stroke-width="1.0" stroke-linecap="butt" />
<polygon points="238.1,-26.2 240,-24.9 241.4,-23.3 242.4,-21.5 242.8,-19.6 242.8,-17.6 242.2,-15.7 241.1,-13.9 239.6,-12.3 237.7,-11.1 235.5,-10.1 233.1,-9.5 230.5,-9.3 228.1,-9.6 225.7,-10.2 223.5,-11.2 221.7,-12.5 220.3,-14.1 219.3,-15.9 218.8,-17.8 218.9,-19.8 219.5,-21.7 220.5,-23.5 222.1,-25.1 224,-26.3 226.2,-27.3 228.6,-27.9 231.1,-28.1 233.6,-27.8 236,-27.2" fill="#1c1c1c" stroke="#030303" stroke-width="0.8" stroke-linejoin="round" />
<line x1="224.3" y1="-11.9" x2="237.4" y2="-25.5" stroke="#030303" stroke-width="2.0" stroke-linecap="butt" />
<line x1="222.2" y1="-23.7" x2="239.5" y2="-13.7" stroke="#030303" stroke-width="2.0" stroke-linecap="butt" /></g>
<linearGradient id="g63" gradientUnits="userSpaceOnUse" x1="206.9" y1="-45.8" x2="196" y2="-27.1"><stop offset="0" stop-color="#111111"/><stop offset="0.14" stop-color="#3c3c3c"/><stop offset="0.5" stop-color="#1c1c1c"/><stop offset="0.82" stop-color="#0e0e0e"/><stop offset="1" stop-color="#030303"/></linearGradient>
<linearGradient id="g64" gradientUnits="userSpaceOnUse" x1="289.1" y1="-1.9" x2="274.5" y2="23"><stop offset="0" stop-color="#111111"/><stop offset="0.14" stop-color="#3a3a3a"/><stop offset="0.5" stop-color="#1a1a1a"/><stop offset="0.82" stop-color="#0e0e0e"/><stop offset="1" stop-color="#050505"/></linearGradient>
<linearGradient id="g65" gradientUnits="userSpaceOnUse" x1="216.4" y1="-56.5" x2="245.2" y2="-56.5"><stop offset="0" stop-color="#111111"/><stop offset="0.14" stop-color="#3c3c3c"/><stop offset="0.5" stop-color="#1c1c1c"/><stop offset="0.82" stop-color="#0e0e0e"/><stop offset="1" stop-color="#030303"/></linearGradient>
<g id="bku"><polygon points="105.5,-81.2 105.6,-82.9 106.1,-84.9 106.8,-87 107.8,-89.1 109,-91.3 110.3,-93.3 111.8,-95.1 113.2,-96.6 114.7,-97.8 116,-98.5 117.2,-98.8 118.2,-98.7 296,5.3 296.8,5.9 297.2,6.9 297.4,8.3 297.2,10 296.8,12 296,14.1 295.1,16.2 293.9,18.4 292.5,20.4 291.1,22.2 289.6,23.7 288.2,24.9 286.8,25.6 285.6,25.9 284.6,25.8 106.8,-78.2 106.1,-78.8 105.6,-79.8" fill="url(#g63)" stroke="#030303" stroke-width="0.6" stroke-linejoin="round" />
<line x1="115.2" y1="-93.1" x2="293.1" y2="10.9" stroke="#3c3c3c" stroke-width="1.4" stroke-linecap="butt" />
<line x1="113.3" y1="-89.8" x2="291.2" y2="14.2" stroke="#030303" stroke-width="1.6" stroke-linecap="butt" />
<line x1="110.9" y1="-85.7" x2="288.7" y2="18.3" stroke="#030303" stroke-width="1.6" stroke-linecap="butt" />
<line x1="112.2" y1="-88" x2="290.1" y2="16" stroke="#3c3c3c" stroke-width="1.0" stroke-linecap="butt" />
<polygon points="297.4,8.3 297.2,6.9 296.8,5.9 296,5.3 295.1,5.2 293.9,5.5 292.5,6.3 291.1,7.4 289.6,8.9 288.2,10.7 286.8,12.7 285.6,14.9 284.6,17 283.9,19.1 283.4,21.1 283.3,22.8 283.4,24.2 283.9,25.2 284.6,25.8 285.6,25.9 286.8,25.6 288.2,24.8 289.6,23.7 291.1,22.2 292.5,20.4 293.9,18.4 295.1,16.2 296,14.1 296.8,12 297.2,10" fill="#1c1c1c" stroke="#030303" stroke-width="0.8" stroke-linejoin="round" />
<line x1="284" y1="22.1" x2="296.7" y2="9" stroke="#030303" stroke-width="2.0" stroke-linecap="butt" />
<line x1="290.3" y1="22.2" x2="290.3" y2="8.9" stroke="#030303" stroke-width="2.0" stroke-linecap="butt" />
<polygon points="263.8,15.2 264.1,12.9 264.7,10.3 265.6,7.5 266.9,4.7 268.5,1.8 270.3,-0.9 272.3,-3.3 274.2,-5.3 276.1,-6.8 277.9,-7.8 279.5,-8.3 280.8,-8.1 297.9,1.9 298.9,2.7 299.5,4 299.7,5.9 299.5,8.2 298.9,10.8 297.9,13.6 296.6,16.4 295,19.3 293.2,22 291.3,24.4 289.4,26.4 287.4,27.9 285.6,28.9 284.1,29.4 282.7,29.2 265.6,19.2 264.7,18.4 264.1,17.1" fill="url(#g64)" stroke="#000" stroke-width="0.8" stroke-linejoin="round" />
<polygon points="299.7,5.9 299.5,4.1 298.9,2.7 297.9,1.9 296.6,1.7 295,2.2 293.2,3.2 291.3,4.7 289.4,6.7 287.4,9.1 285.6,11.8 284.1,14.6 282.7,17.5 281.8,20.3 281.1,22.9 280.9,25.2 281.1,27 281.8,28.4 282.7,29.2 284.1,29.4 285.6,28.9 287.4,27.9 289.4,26.4 291.3,24.4 293.2,22 295,19.3 296.6,16.5 297.9,13.6 298.9,10.8 299.5,8.2" fill="#222" stroke="#000" stroke-width="0.8" stroke-linejoin="round" />
<polygon points="162.2,-69.8 180.2,-77 205.3,-78.7 219.7,-75.1 219.7,-35.7 230.4,-28.5 216.1,-14.1 198.1,-14.1 180.2,-21.3 164,-32.1 158.7,-50" fill="#161616" stroke="#000" stroke-width="0.8" stroke-linejoin="round" />
<polygon points="210.7,-23.1 230.4,-32.1 246.6,-33.9 259.2,-24.9 259.2,-3.3 252,11 235.8,12.8 217.9,7.4 210.7,-6.9" fill="#161616" stroke="#000" stroke-width="0.8" stroke-linejoin="round" />
<polyline points="170,-60 200,-70 215,-66" fill="none" stroke="#3c3c3c" stroke-width="1.2" stroke-linejoin="round" stroke-linecap="round" />
<polyline points="185,-30 200,-36 214,-44" fill="none" stroke="#3c3c3c" stroke-width="1.2" stroke-linejoin="round" stroke-linecap="round" />
<polyline points="220,-5 235,-10 250,-14" fill="none" stroke="#3c3c3c" stroke-width="1.2" stroke-linejoin="round" stroke-linecap="round" />
<polygon points="215.4,-96 215.5,-98.5 216.2,-100.9 217.6,-103.2 219.6,-105.2 222,-106.9 224.9,-108.1 228,-108.9 231.2,-109.1 234.4,-108.8 237.5,-108 240.2,-106.7 242.6,-105 244.4,-103 245.7,-100.7 246.3,-98.2 246.3,-17.1 246.2,-14.5 245.4,-12.1 244.1,-9.8 242.1,-7.8 239.6,-6.1 236.8,-4.9 233.7,-4.1 230.5,-3.9 227.3,-4.2 224.2,-5 221.4,-6.3 219.1,-8 217.2,-10.1 216,-12.4 215.4,-14.8" fill="url(#g65)" stroke="#030303" stroke-width="0.6" stroke-linejoin="round" />
<line x1="223.6" y1="-16" x2="223.6" y2="-97.1" stroke="#3c3c3c" stroke-width="1.4" stroke-linecap="butt" />
<line x1="228.7" y1="-16" x2="228.7" y2="-97.1" stroke="#030303" stroke-width="1.6" stroke-linecap="butt" />
<line x1="235.2" y1="-16" x2="235.2" y2="-97.1" stroke="#030303" stroke-width="1.6" stroke-linecap="butt" />
<line x1="231.6" y1="-16" x2="231.6" y2="-97.1" stroke="#3c3c3c" stroke-width="1.0" stroke-linecap="butt" />
<polygon points="240.2,-106.7 242.6,-105 244.4,-103 245.7,-100.6 246.3,-98.2 246.2,-95.7 245.4,-93.2 244.1,-90.9 242.1,-88.9 239.6,-87.2 236.8,-86 233.7,-85.3 230.5,-85 227.3,-85.3 224.2,-86.1 221.4,-87.4 219.1,-89.1 217.2,-91.2 216,-93.5 215.4,-96 215.5,-98.5 216.2,-100.9 217.6,-103.2 219.6,-105.2 222,-106.9 224.9,-108.1 228,-108.9 231.2,-109.1 234.4,-108.8 237.5,-108" fill="#1c1c1c" stroke="#030303" stroke-width="0.8" stroke-linejoin="round" />
<line x1="222.4" y1="-88.4" x2="239.3" y2="-105.8" stroke="#030303" stroke-width="2.0" stroke-linecap="butt" />
<line x1="219.8" y1="-103.6" x2="241.9" y2="-90.6" stroke="#030303" stroke-width="2.0" stroke-linecap="butt" /></g>
<linearGradient id="g66" gradientUnits="userSpaceOnUse" x1="174.6" y1="5.5" x2="214.6" y2="5.5"><stop offset="0" stop-color="#222077"/><stop offset="0.14" stop-color="#4844b4"/><stop offset="0.5" stop-color="#2c2a8e"/><stop offset="0.82" stop-color="#1f1d71"/><stop offset="1" stop-color="#15135a"/></linearGradient>
<linearGradient id="g67" gradientUnits="userSpaceOnUse" x1="210.8" y1="17" x2="250.8" y2="17"><stop offset="0" stop-color="#222077"/><stop offset="0.14" stop-color="#4844b4"/><stop offset="0.5" stop-color="#2c2a8e"/><stop offset="0.82" stop-color="#1f1d71"/><stop offset="1" stop-color="#15135a"/></linearGradient>
<g id="bt"><polygon points="173.1,-21.9 173.2,-25.4 174.3,-28.8 176.2,-31.9 178.9,-34.8 182.3,-37 186.3,-38.8 190.6,-39.8 195.1,-40.1 199.6,-39.7 203.8,-38.6 207.6,-36.8 210.9,-34.4 213.5,-31.6 215.2,-28.4 216,-24.9 216,32.8 215.9,36.3 214.9,39.7 212.9,42.9 210.2,45.7 206.8,48 202.9,49.7 198.6,50.8 194.1,51.1 189.6,50.7 185.4,49.5 181.5,47.8 178.3,45.4 175.7,42.5 174,39.3 173.1,35.9" fill="url(#g66)" stroke="#15135a" stroke-width="0.7" stroke-linejoin="round" />
<polygon points="209.4,-8.9 209.5,-12.4 210.5,-15.8 212.5,-19 215.2,-21.8 218.6,-24.1 222.6,-25.8 226.9,-26.9 231.3,-27.2 235.8,-26.8 240,-25.6 243.9,-23.9 247.2,-21.5 249.7,-18.6 251.4,-15.4 252.3,-12 252.3,43 252.2,46.5 251.1,49.9 249.2,53.1 246.5,55.9 243.1,58.2 239.1,59.9 234.8,61 230.3,61.3 225.9,60.9 221.6,59.7 217.8,58 214.5,55.6 212,52.7 210.2,49.5 209.4,46.1" fill="url(#g67)" stroke="#15135a" stroke-width="0.7" stroke-linejoin="round" /></g>
<linearGradient id="g68" gradientUnits="userSpaceOnUse" x1="464.6" y1="677.3" x2="453.7" y2="696"><stop offset="0" stop-color="#111111"/><stop offset="0.14" stop-color="#3c3c3c"/><stop offset="0.5" stop-color="#1c1c1c"/><stop offset="0.82" stop-color="#0e0e0e"/><stop offset="1" stop-color="#030303"/></linearGradient>
<linearGradient id="g69" gradientUnits="userSpaceOnUse" x1="1326.5" y1="973.2" x2="1315.6" y2="991.9"><stop offset="0" stop-color="#111111"/><stop offset="0.14" stop-color="#3c3c3c"/><stop offset="0.5" stop-color="#1c1c1c"/><stop offset="0.82" stop-color="#0e0e0e"/><stop offset="1" stop-color="#030303"/></linearGradient>
<linearGradient id="g70" gradientUnits="userSpaceOnUse" x1="1392.1" y1="1014.2" x2="1381.2" y2="1032.9"><stop offset="0" stop-color="#111111"/><stop offset="0.14" stop-color="#3c3c3c"/><stop offset="0.5" stop-color="#1c1c1c"/><stop offset="0.82" stop-color="#0e0e0e"/><stop offset="1" stop-color="#030303"/></linearGradient>
<linearGradient id="g71" gradientUnits="userSpaceOnUse" x1="1347.4" y1="1111.9" x2="1335.3" y2="1132.6"><stop offset="0" stop-color="#af141b"/><stop offset="0.14" stop-color="#ec2a32"/><stop offset="0.5" stop-color="#de1c24"/><stop offset="0.82" stop-color="#a51219"/><stop offset="1" stop-color="#760a10"/></linearGradient>
</defs>
<line x1="754.5" y1="18" x2="754.5" y2="1161" stroke="#1a1a18" stroke-width="4.4" stroke-linecap="round" />
<polygon points="27.3,28.4 34.6,28.4 34.6,61.7 28.6,61.7 28.6,40.7 20,41.3 20,36.4 23.9,34.4 25.8,31.3" fill="#161210" stroke="none" stroke-width="1" stroke-linejoin="round" />
<text x="18.5" y="363.4" font-family="Liberation Sans" font-weight="bold" font-size="46" fill="#161210" stroke="#161210" stroke-width="1.1" stroke-linejoin="round" textLength="21.5" lengthAdjust="spacingAndGlyphs">2</text>
<text x="18.8" y="635.9" font-family="Liberation Sans" font-weight="bold" font-size="46" fill="#161210" stroke="#161210" stroke-width="1.1" stroke-linejoin="round" textLength="21.7" lengthAdjust="spacingAndGlyphs">3</text>
<text x="785" y="59.9" font-family="Liberation Sans" font-weight="bold" font-size="46" fill="#161210" stroke="#161210" stroke-width="1.1" stroke-linejoin="round" textLength="24" lengthAdjust="spacingAndGlyphs">4</text>
<text x="786.5" y="449.9" font-family="Liberation Sans" font-weight="bold" font-size="46" fill="#161210" stroke="#161210" stroke-width="1.1" stroke-linejoin="round" textLength="21.5" lengthAdjust="spacingAndGlyphs">5</text>
<text x="785.1" y="838.9" font-family="Liberation Sans" font-weight="bold" font-size="46" fill="#161210" stroke="#161210" stroke-width="1.1" stroke-linejoin="round" textLength="22.7" lengthAdjust="spacingAndGlyphs">6</text>
<rect x="57" y="18.5" width="178" height="258.5" rx="7.5" ry="7.5" fill="#cbcbcb" stroke="#4a4542" stroke-width="2.4"/>
<path d="M63.5,18.5 H228.5" stroke="#141210" stroke-width="2.2" fill="none"/>
<rect x="57.5" y="320" width="162.5" height="218.5" rx="7.5" ry="7.5" fill="#cbcbcb" stroke="#4a4542" stroke-width="2.4"/>
<path d="M64,320 H213.5" stroke="#141210" stroke-width="2.2" fill="none"/>
<rect x="57" y="593.5" width="241.5" height="314" rx="7.5" ry="7.5" fill="#cbcbcb" stroke="#4a4542" stroke-width="2.4"/>
<path d="M63.5,593.5 H292" stroke="#141210" stroke-width="2.2" fill="none"/>
<rect x="824" y="18" width="168" height="322.5" rx="7.5" ry="7.5" fill="#cbcbcb" stroke="#4a4542" stroke-width="2.4"/>
<path d="M830.5,18 H985.5" stroke="#141210" stroke-width="2.2" fill="none"/>
<rect x="824" y="407" width="86.5" height="174.5" rx="7" ry="7" fill="#cbcbcb" stroke="#4a4542" stroke-width="2.4"/>
<path d="M830,407 H904.5" stroke="#141210" stroke-width="2.2" fill="none"/>
<rect x="824" y="797" width="177.5" height="359.5" rx="7.5" ry="7.5" fill="#cbcbcb" stroke="#4a4542" stroke-width="2.4"/>
<path d="M830.5,797 H995" stroke="#141210" stroke-width="2.2" fill="none"/>
<polygon points="72.4,74.4 76.5,74.4 76.5,96.1 72.4,96.1 72.4,82.3 68,82.8 68,78.9 70.2,77.9 71.5,76" fill="#0c0c0c" stroke="none" stroke-width="1" stroke-linejoin="round" />
<polygon points="81.8,81.3 86.3,81.3 88.6,85.8 91,81.3 95.5,81.3 91,88.7 95.5,96.1 91,96.1 88.6,91.7 86.3,96.1 81.8,96.1 86.3,88.7" fill="#0c0c0c" stroke="none" stroke-width="1" stroke-linejoin="round" />
<polygon points="72.4,145.9 76.5,145.9 76.5,167.6 72.4,167.6 72.4,153.8 68,154.3 68,150.4 70.2,149.4 71.5,147.5" fill="#0c0c0c" stroke="none" stroke-width="1" stroke-linejoin="round" />
<polygon points="81.8,152.8 86.3,152.8 88.6,157.3 91,152.8 95.5,152.8 91,160.2 95.5,167.6 91,167.6 88.6,163.2 86.3,167.6 81.8,167.6 86.3,160.2" fill="#0c0c0c" stroke="none" stroke-width="1" stroke-linejoin="round" />
<polygon points="72.4,241.4 76.5,241.4 76.5,263.1 72.4,263.1 72.4,249.3 68,249.8 68,245.9 70.2,244.9 71.5,243" fill="#0c0c0c" stroke="none" stroke-width="1" stroke-linejoin="round" />
<polygon points="81.8,248.3 86.3,248.3 88.6,252.8 91,248.3 95.5,248.3 91,255.7 95.5,263.1 91,263.1 88.6,258.7 86.3,263.1 81.8,263.1 86.3,255.7" fill="#0c0c0c" stroke="none" stroke-width="1" stroke-linejoin="round" />
<polygon points="171.9,241.4 176,241.4 176,263.1 171.9,263.1 171.9,249.3 167.5,249.8 167.5,245.9 169.7,244.9 171,243" fill="#0c0c0c" stroke="none" stroke-width="1" stroke-linejoin="round" />
<polygon points="181.2,248.3 185.8,248.3 188.1,252.8 190.5,248.3 195,248.3 190.5,255.7 195,263.1 190.5,263.1 188.1,258.7 185.8,263.1 181.2,263.1 185.8,255.7" fill="#0c0c0c" stroke="none" stroke-width="1" stroke-linejoin="round" />
<text x="205.2" y="61.2" font-family="Liberation Sans" font-weight="bold" font-size="23.5" fill="#5e5858" textLength="12" lengthAdjust="spacingAndGlyphs">6</text>
<polygon points="72.1,407.9 76.2,407.9 76.2,429.6 72.1,429.6 72.1,415.8 67.7,416.3 67.7,412.4 69.9,411.4 71.2,409.5" fill="#0c0c0c" stroke="none" stroke-width="1" stroke-linejoin="round" />
<polygon points="81.5,414.8 86,414.8 88.3,419.3 90.7,414.8 95.2,414.8 90.7,422.2 95.2,429.6 90.7,429.6 88.3,425.2 86,429.6 81.5,429.6 86,422.2" fill="#0c0c0c" stroke="none" stroke-width="1" stroke-linejoin="round" />
<polygon points="149,431.4 153.1,431.4 153.1,453.1 149,453.1 149,439.3 144.6,439.8 144.6,435.9 146.8,434.9 148.1,433" fill="#0c0c0c" stroke="none" stroke-width="1" stroke-linejoin="round" />
<polygon points="158.3,438.3 162.9,438.3 165.2,442.8 167.6,438.3 172.1,438.3 167.6,445.7 172.1,453.1 167.6,453.1 165.2,448.7 162.9,453.1 158.3,453.1 162.9,445.7" fill="#0c0c0c" stroke="none" stroke-width="1" stroke-linejoin="round" />
<polygon points="72.1,502.9 76.2,502.9 76.2,524.6 72.1,524.6 72.1,510.8 67.7,511.3 67.7,507.4 69.9,506.4 71.2,504.5" fill="#0c0c0c" stroke="none" stroke-width="1" stroke-linejoin="round" />
<polygon points="81.5,509.8 86,509.8 88.3,514.3 90.7,509.8 95.2,509.8 90.7,517.2 95.2,524.6 90.7,524.6 88.3,520.2 86,524.6 81.5,524.6 86,517.2" fill="#0c0c0c" stroke="none" stroke-width="1" stroke-linejoin="round" />
<polygon points="149,502.9 153.1,502.9 153.1,524.6 149,524.6 149,510.8 144.6,511.3 144.6,507.4 146.8,506.4 148.1,504.5" fill="#0c0c0c" stroke="none" stroke-width="1" stroke-linejoin="round" />
<polygon points="158.3,509.8 162.9,509.8 165.2,514.3 167.6,509.8 172.1,509.8 167.6,517.2 172.1,524.6 167.6,524.6 165.2,520.2 162.9,524.6 158.3,524.6 162.9,517.2" fill="#0c0c0c" stroke="none" stroke-width="1" stroke-linejoin="round" />
<polygon points="72.1,647.9 76.2,647.9 76.2,669.6 72.1,669.6 72.1,655.8 67.7,656.3 67.7,652.4 69.9,651.4 71.2,649.5" fill="#0c0c0c" stroke="none" stroke-width="1" stroke-linejoin="round" />
<polygon points="81.5,654.8 86,654.8 88.3,659.3 90.7,654.8 95.2,654.8 90.7,662.2 95.2,669.6 90.7,669.6 88.3,665.2 86,669.6 81.5,669.6 86,662.2" fill="#0c0c0c" stroke="none" stroke-width="1" stroke-linejoin="round" />
<polygon points="72.1,732.4 76.2,732.4 76.2,754.1 72.1,754.1 72.1,740.3 67.7,740.8 67.7,736.9 69.9,735.9 71.2,734" fill="#0c0c0c" stroke="none" stroke-width="1" stroke-linejoin="round" />
<polygon points="81.5,739.3 86,739.3 88.3,743.8 90.7,739.3 95.2,739.3 90.7,746.7 95.2,754.1 90.7,754.1 88.3,749.7 86,754.1 81.5,754.1 86,746.7" fill="#0c0c0c" stroke="none" stroke-width="1" stroke-linejoin="round" />
<polygon points="72.1,803.4 76.2,803.4 76.2,825.1 72.1,825.1 72.1,811.3 67.7,811.8 67.7,807.9 69.9,806.9 71.2,805" fill="#0c0c0c" stroke="none" stroke-width="1" stroke-linejoin="round" />
<polygon points="81.5,810.3 86,810.3 88.3,814.8 90.7,810.3 95.2,810.3 90.7,817.7 95.2,825.1 90.7,825.1 88.3,820.7 86,825.1 81.5,825.1 86,817.7" fill="#0c0c0c" stroke="none" stroke-width="1" stroke-linejoin="round" />
<polygon points="72.1,871.4 76.2,871.4 76.2,893.1 72.1,893.1 72.1,879.3 67.7,879.8 67.7,875.9 69.9,874.9 71.2,873" fill="#0c0c0c" stroke="none" stroke-width="1" stroke-linejoin="round" />
<polygon points="81.5,878.3 86,878.3 88.3,882.8 90.7,878.3 95.2,878.3 90.7,885.7 95.2,893.1 90.7,893.1 88.3,888.7 86,893.1 81.5,893.1 86,885.7" fill="#0c0c0c" stroke="none" stroke-width="1" stroke-linejoin="round" />
<polygon points="162.4,871.4 166.5,871.4 166.5,893.1 162.4,893.1 162.4,879.3 158,879.8 158,875.9 160.2,874.9 161.5,873" fill="#0c0c0c" stroke="none" stroke-width="1" stroke-linejoin="round" />
<polygon points="171.8,878.3 176.3,878.3 178.6,882.8 181,878.3 185.5,878.3 181,885.7 185.5,893.1 181,893.1 178.6,888.7 176.3,893.1 171.8,893.1 176.3,885.7" fill="#0c0c0c" stroke="none" stroke-width="1" stroke-linejoin="round" />
<polygon points="231.4,871.4 235.5,871.4 235.5,893.1 231.4,893.1 231.4,879.3 227,879.8 227,875.9 229.2,874.9 230.5,873" fill="#0c0c0c" stroke="none" stroke-width="1" stroke-linejoin="round" />
<polygon points="240.8,878.3 245.3,878.3 247.6,882.8 250,878.3 254.5,878.3 250,885.7 254.5,893.1 250,893.1 247.6,888.7 245.3,893.1 240.8,893.1 245.3,885.7" fill="#0c0c0c" stroke="none" stroke-width="1" stroke-linejoin="round" />
<text x="157.8" y="736.6" font-family="Liberation Sans" font-weight="bold" font-size="23.5" fill="#5e5858" textLength="13.2" lengthAdjust="spacingAndGlyphs">4</text>
<text x="204.6" y="787" font-family="Liberation Sans" font-weight="bold" font-size="23.5" fill="#5e5858" textLength="12" lengthAdjust="spacingAndGlyphs">6</text>
<polygon points="838.6,76.2 843,76.2 843,99.1 838.6,99.1 838.6,84.5 834,85.1 834,81 836.3,79.9 837.7,77.9" fill="#0c0c0c" stroke="none" stroke-width="1" stroke-linejoin="round" />
<polygon points="848.5,83.5 853.3,83.5 855.8,88.2 858.2,83.5 863,83.5 858.2,91.3 863,99.1 858.2,99.1 855.8,94.4 853.3,99.1 848.5,99.1 853.3,91.3" fill="#0c0c0c" stroke="none" stroke-width="1" stroke-linejoin="round" />
<text x="833.7" y="186.5" font-family="Liberation Sans" font-weight="bold" font-size="32.7" fill="#0c0c0c" stroke="#0c0c0c" stroke-width="0.7" textLength="13.1" lengthAdjust="spacingAndGlyphs">2</text>
<polygon points="848.5,171 853.3,171 855.8,175.7 858.2,171 863,171 858.2,178.8 863,186.6 858.2,186.6 855.8,181.9 853.3,186.6 848.5,186.6 853.3,178.8" fill="#0c0c0c" stroke="none" stroke-width="1" stroke-linejoin="round" />
<polygon points="838.6,235.7 843,235.7 843,258.6 838.6,258.6 838.6,244 834,244.6 834,240.5 836.3,239.4 837.7,237.4" fill="#0c0c0c" stroke="none" stroke-width="1" stroke-linejoin="round" />
<polygon points="848.5,243 853.3,243 855.8,247.7 858.2,243 863,243 858.2,250.8 863,258.6 858.2,258.6 855.8,253.9 853.3,258.6 848.5,258.6 853.3,250.8" fill="#0c0c0c" stroke="none" stroke-width="1" stroke-linejoin="round" />
<polygon points="838.6,302.7 843,302.7 843,325.6 838.6,325.6 838.6,311 834,311.6 834,307.5 836.3,306.4 837.7,304.4" fill="#0c0c0c" stroke="none" stroke-width="1" stroke-linejoin="round" />
<polygon points="848.5,310 853.3,310 855.8,314.7 858.2,310 863,310 858.2,317.8 863,325.6 858.2,325.6 855.8,320.9 853.3,325.6 848.5,325.6 853.3,317.8" fill="#0c0c0c" stroke="none" stroke-width="1" stroke-linejoin="round" />
<text x="925" y="170.5" font-family="Liberation Sans" font-weight="bold" font-size="23.5" fill="#5e5858" textLength="13" lengthAdjust="spacingAndGlyphs">4</text>
<text x="972.6" y="220.8" font-family="Liberation Sans" font-weight="bold" font-size="23.5" fill="#5e5858" textLength="10.6" lengthAdjust="spacingAndGlyphs">6</text>
<polygon points="839.5,466.5 843.7,466.5 843.7,488.6 839.5,488.6 839.5,474.5 835,475.1 835,471.1 837.2,470.1 838.6,468.1" fill="#0c0c0c" stroke="none" stroke-width="1" stroke-linejoin="round" />
<polygon points="849,473.6 853.6,473.6 856,478.1 858.4,473.6 863,473.6 858.4,481.1 863,488.6 858.4,488.6 856,484.1 853.6,488.6 849,488.6 853.6,481.1" fill="#0c0c0c" stroke="none" stroke-width="1" stroke-linejoin="round" />
<text x="834.7" y="568" font-family="Liberation Sans" font-weight="bold" font-size="31.6" fill="#0c0c0c" stroke="#0c0c0c" stroke-width="0.7" textLength="12.6" lengthAdjust="spacingAndGlyphs">2</text>
<polygon points="849,553.1 853.6,553.1 856,557.6 858.4,553.1 863,553.1 858.4,560.6 863,568.1 858.4,568.1 856,563.6 853.6,568.1 849,568.1 853.6,560.6" fill="#0c0c0c" stroke="none" stroke-width="1" stroke-linejoin="round" />
<polygon points="839.4,854.8 843.5,854.8 843.5,876.6 839.4,876.6 839.4,862.7 835,863.3 835,859.3 837.2,858.3 838.5,856.4" fill="#0c0c0c" stroke="none" stroke-width="1" stroke-linejoin="round" />
<polygon points="848.8,861.8 853.4,861.8 855.7,866.2 858,861.8 862.6,861.8 858,869.2 862.6,876.6 858,876.6 855.7,872.2 853.4,876.6 848.8,876.6 853.4,869.2" fill="#0c0c0c" stroke="none" stroke-width="1" stroke-linejoin="round" />
<polygon points="839.4,955.3 843.5,955.3 843.5,977.1 839.4,977.1 839.4,963.2 835,963.8 835,959.8 837.2,958.8 838.5,956.9" fill="#0c0c0c" stroke="none" stroke-width="1" stroke-linejoin="round" />
<polygon points="848.8,962.3 853.4,962.3 855.7,966.7 858,962.3 862.6,962.3 858,969.7 862.6,977.1 858,977.1 855.7,972.7 853.4,977.1 848.8,977.1 853.4,969.7" fill="#0c0c0c" stroke="none" stroke-width="1" stroke-linejoin="round" />
<polygon points="839.4,1026.8 843.5,1026.8 843.5,1048.6 839.4,1048.6 839.4,1034.7 835,1035.3 835,1031.3 837.2,1030.3 838.5,1028.4" fill="#0c0c0c" stroke="none" stroke-width="1" stroke-linejoin="round" />
<polygon points="848.8,1033.8 853.4,1033.8 855.7,1038.2 858,1033.8 862.6,1033.8 858,1041.2 862.6,1048.6 858,1048.6 855.7,1044.2 853.4,1048.6 848.8,1048.6 853.4,1041.2" fill="#0c0c0c" stroke="none" stroke-width="1" stroke-linejoin="round" />
<polygon points="839.4,1120.8 843.5,1120.8 843.5,1142.6 839.4,1142.6 839.4,1128.7 835,1129.3 835,1125.3 837.2,1124.3 838.5,1122.4" fill="#0c0c0c" stroke="none" stroke-width="1" stroke-linejoin="round" />
<polygon points="848.8,1127.8 853.4,1127.8 855.7,1132.2 858,1127.8 862.6,1127.8 858,1135.2 862.6,1142.6 858,1142.6 855.7,1138.2 853.4,1142.6 848.8,1142.6 853.4,1135.2" fill="#0c0c0c" stroke="none" stroke-width="1" stroke-linejoin="round" />
<text x="925.4" y="958" font-family="Liberation Sans" font-weight="bold" font-size="23.5" fill="#5e5858" textLength="12.6" lengthAdjust="spacingAndGlyphs">4</text>
<polygon points="82.8,43.9 83,41.2 83.7,38.8 84.8,36.7 86.3,35.2 88.2,34.2 94.6,31.7 96.6,31.3 98.8,31.4 101,32.2 103.2,33.6 105.2,35.4 107,37.7 108.5,40.3 109.7,43.1 110.3,46 110.6,48.8 110.3,51.5 109.7,53.9 108.5,56 107,57.5 105.2,58.5 98.8,61 96.8,61.4 94.6,61.2 92.4,60.5 90.2,59.1 88.2,57.3 86.3,55 84.8,52.4 83.7,49.6 83,46.7" fill="url(#g1)" stroke="#4a484e" stroke-width="0.7" stroke-linejoin="round" />
<polygon points="104.2,51.3 103.9,48.5 103.2,45.6 102.1,42.8 100.6,40.2 98.8,37.9 96.8,36.1 94.6,34.7 92.4,33.9 90.2,33.8 88.2,34.2 86.3,35.2 84.9,36.7 83.7,38.8 83,41.2 82.8,43.9 83,46.7 83.7,49.6 84.9,52.4 86.3,55 88.2,57.3 90.2,59.1 92.4,60.5 94.6,61.2 96.8,61.4 98.8,61 100.6,60 102.1,58.4 103.2,56.4 103.9,54" fill="#a4a4aa" stroke="#4a484e" stroke-width="0.7" stroke-linejoin="round" />
<polygon points="72.8,49.5 73,47.4 73.5,45.5 74.4,43.9 75.5,42.7 77,41.9 89.3,37.1 90.9,36.8 92.6,36.9 94.4,37.5 96.1,38.6 97.7,40 99.1,41.8 100.2,43.8 101.1,46 101.7,48.3 101.8,50.5 101.7,52.6 101.1,54.5 100.2,56.1 99.1,57.3 97.7,58.1 85.3,62.9 83.7,63.2 82,63.1 80.2,62.5 78.5,61.4 77,60 75.5,58.2 74.4,56.2 73.5,54 73,51.7" fill="url(#g2)" stroke="#4a484e" stroke-width="0.7" stroke-linejoin="round" />
<polygon points="65.4,50 65.7,47 66.4,44.4 67.6,42.2 69.2,40.5 71.2,39.4 75.3,37.8 77.5,37.4 79.9,37.5 82.3,38.4 84.7,39.9 86.9,41.9 88.9,44.3 90.5,47.1 91.7,50.2 92.5,53.3 92.7,56.5 92.5,59.4 91.7,62 90.5,64.2 88.9,65.9 86.9,67 82.8,68.6 80.6,69 78.2,68.8 75.8,68 73.4,66.5 71.2,64.5 69.2,62.1 67.6,59.2 66.4,56.2 65.7,53" fill="url(#g3)" stroke="#4a484e" stroke-width="0.7" stroke-linejoin="round" />
<polygon points="88.6,58 88.3,54.9 87.6,51.8 86.4,48.8 84.8,45.9 82.8,43.5 80.6,41.5 78.2,40 75.8,39.2 73.4,39 71.2,39.4 69.2,40.5 67.6,42.2 66.4,44.4 65.7,47 65.4,49.9 65.7,53.1 66.4,56.2 67.6,59.2 69.2,62.1 71.2,64.5 73.4,66.5 75.8,68 78.2,68.8 80.6,69 82.8,68.6 84.8,67.5 86.4,65.8 87.6,63.6 88.3,61" fill="#8e8e94" stroke="#4a484e" stroke-width="0.7" stroke-linejoin="round" />
<polygon points="81.1,55.4 81,54.3 80.7,53.2 80.3,52.2 79.7,51.2 79,50.3 78.3,49.6 77.4,49.1 76.6,48.8 75.7,48.7 75,48.9 74.3,49.3 73.7,49.9 73.3,50.6 73,51.6 72.9,52.6 73,53.7 73.3,54.8 73.7,55.8 74.3,56.8 75,57.7 75.7,58.4 76.6,58.9 77.4,59.2 78.3,59.3 79,59.1 79.7,58.7 80.3,58.1 80.7,57.4 81,56.4" fill="#4a4650" />
<polygon points="65.2,128.3 65.4,126.5 65.8,124.9 66.6,123.6 67.5,122.6 68.7,122 206.1,68.5 207.4,68.3 208.9,68.4 210.3,68.9 211.8,69.8 213.1,71 214.3,72.5 215.2,74.2 216,76 216.4,77.9 216.6,79.7 216.4,81.5 216,83.1 215.2,84.4 214.3,85.4 213.1,86 75.7,139.4 74.3,139.7 72.9,139.6 71.5,139.1 70,138.2 68.7,137 67.5,135.5 66.6,133.8 65.8,132 65.4,130.1" fill="url(#g4)" stroke="#0a4a14" stroke-width="0.6" stroke-linejoin="round" />
<line x1="70.6" y1="126.5" x2="208" y2="73.1" stroke="#3aa842" stroke-width="1.4" stroke-linecap="butt" />
<line x1="71.7" y1="129.4" x2="209.1" y2="76" stroke="#0a4a14" stroke-width="1.6" stroke-linecap="butt" />
<line x1="73.2" y1="133.2" x2="210.6" y2="79.8" stroke="#0a4a14" stroke-width="1.6" stroke-linecap="butt" />
<line x1="72.4" y1="131.1" x2="209.8" y2="77.7" stroke="#3aa842" stroke-width="1.0" stroke-linecap="butt" />
<polygon points="79.2,133.1 79,131.3 78.6,129.4 77.8,127.6 76.9,125.9 75.7,124.4 74.4,123.2 72.9,122.3 71.5,121.8 70,121.7 68.7,122 67.5,122.6 66.6,123.6 65.8,124.9 65.4,126.5 65.2,128.3 65.4,130.1 65.8,132 66.6,133.8 67.5,135.5 68.7,137 70,138.2 71.5,139.1 72.9,139.6 74.4,139.7 75.7,139.4 76.9,138.8 77.8,137.8 78.6,136.5 79,134.9" fill="#23882f" stroke="#0a4a14" stroke-width="0.8" stroke-linejoin="round" />
<line x1="65.9" y1="128.5" x2="78.5" y2="132.9" stroke="#0a4a14" stroke-width="2.0" stroke-linecap="butt" />
<line x1="72.2" y1="138.5" x2="72.2" y2="122.9" stroke="#0a4a14" stroke-width="2.0" stroke-linecap="butt" />
<polygon points="65.2,191.4 88.4,199.5 88.4,234.3 65.2,226.2" fill="#c2a626" stroke="#7a6818" stroke-width="1.0" stroke-linejoin="round" />
<polygon points="88.4,199.5 225.8,146.1 225.8,180.9 88.4,234.3" fill="#d4ba2a" stroke="#7a6818" stroke-width="1.0" stroke-linejoin="round" />
<polygon points="65.2,191.4 202.6,138 225.8,146.1 88.4,199.5" fill="#f2e222" stroke="#7a6818" stroke-width="1.0" stroke-linejoin="round" />
<polygon points="120,204.6 119.8,202.4 119.2,200.4 118.3,198.8 117.1,197.5 115.7,196.8 114,196.5 112.2,196.7 110.4,197.4 108.6,198.6 106.9,200.1 105.5,202.1 104.3,204.3 103.4,206.6 102.8,209 102.6,211.4 102.8,213.6 103.4,215.6 104.3,217.2 105.5,218.5 106.9,219.2 108.6,219.5 110.4,219.3 112.2,218.6 114,217.4 115.7,215.9 117.1,213.9 118.3,211.7 119.2,209.4 119.8,207" fill="#d4ba2a" stroke="#7a6818" stroke-width="0.8" stroke-linejoin="round" />
<polygon points="117.5,205.6 117.3,204 116.9,202.6 116.3,201.5 115.4,200.6 114.4,200 113.2,199.8 111.9,200 110.7,200.5 109.4,201.3 108.2,202.4 107.2,203.8 106.3,205.3 105.7,207 105.3,208.7 105.1,210.4 105.3,212 105.7,213.4 106.3,214.5 107.2,215.4 108.2,216 109.4,216.2 110.7,216 111.9,215.5 113.2,214.7 114.4,213.6 115.4,212.2 116.3,210.7 116.9,209 117.3,207.3" fill="#a08a20" stroke="#7a6818" stroke-width="0.7" stroke-linejoin="round" />
<polygon points="117,207.2 116.9,206.1 116.6,205 116.2,204.2 115.5,203.5 114.7,203.1 113.9,202.9 112.9,203.1 112,203.4 111,204 110.2,204.9 109.4,205.9 108.7,207 108.3,208.3 108,209.5 107.9,210.8 108,212 108.3,213 108.7,213.9 109.4,214.5 110.2,214.9 111,215.1 112,215 112.9,214.6 113.9,214 114.7,213.1 115.5,212.1 116.2,211 116.6,209.7 116.9,208.5" fill="#f2e030" />
<polygon points="142.9,195.7 142.7,193.5 142.1,191.5 141.2,189.9 140,188.6 138.6,187.9 136.9,187.6 135.1,187.8 133.3,188.5 131.5,189.7 129.8,191.2 128.4,193.2 127.2,195.4 126.3,197.7 125.7,200.1 125.5,202.5 125.7,204.7 126.3,206.7 127.2,208.3 128.4,209.6 129.8,210.3 131.5,210.6 133.3,210.4 135.1,209.7 136.9,208.5 138.6,207 140,205 141.2,202.8 142.1,200.5 142.7,198.1" fill="#d4ba2a" stroke="#7a6818" stroke-width="0.8" stroke-linejoin="round" />
<polygon points="140.4,196.7 140.2,195.1 139.8,193.7 139.2,192.6 138.3,191.7 137.3,191.1 136.1,190.9 134.8,191.1 133.6,191.6 132.3,192.4 131.1,193.5 130.1,194.9 129.2,196.4 128.6,198.1 128.2,199.8 128,201.5 128.2,203.1 128.6,204.5 129.2,205.6 130.1,206.5 131.1,207.1 132.3,207.3 133.6,207.1 134.8,206.6 136.1,205.8 137.3,204.7 138.3,203.3 139.2,201.8 139.8,200.1 140.2,198.4" fill="#a08a20" stroke="#7a6818" stroke-width="0.7" stroke-linejoin="round" />
<polygon points="139.9,198.3 139.8,197.2 139.5,196.1 139.1,195.3 138.4,194.6 137.6,194.2 136.8,194 135.8,194.2 134.9,194.5 133.9,195.1 133.1,196 132.3,197 131.6,198.1 131.2,199.4 130.9,200.6 130.8,201.9 130.9,203.1 131.2,204.1 131.6,205 132.3,205.6 133.1,206 133.9,206.2 134.9,206.1 135.8,205.7 136.8,205.1 137.6,204.2 138.4,203.2 139.1,202.1 139.5,200.8 139.8,199.6" fill="#f2e030" />
<polygon points="165.8,186.8 165.6,184.6 165,182.6 164.1,181 162.9,179.7 161.5,179 159.8,178.7 158,178.9 156.2,179.6 154.4,180.8 152.7,182.3 151.3,184.3 150.1,186.5 149.2,188.8 148.6,191.2 148.4,193.6 148.6,195.8 149.2,197.8 150.1,199.4 151.3,200.7 152.7,201.4 154.4,201.7 156.2,201.5 158,200.8 159.8,199.6 161.5,198.1 162.9,196.1 164.1,193.9 165,191.6 165.6,189.2" fill="#d4ba2a" stroke="#7a6818" stroke-width="0.8" stroke-linejoin="round" />
<polygon points="163.3,187.8 163.1,186.2 162.7,184.8 162.1,183.7 161.2,182.8 160.2,182.2 159,182 157.7,182.2 156.5,182.7 155.2,183.5 154,184.6 153,186 152.1,187.5 151.5,189.2 151.1,190.9 150.9,192.6 151.1,194.2 151.5,195.6 152.1,196.7 153,197.6 154,198.2 155.2,198.4 156.5,198.2 157.7,197.7 159,196.9 160.2,195.8 161.2,194.4 162.1,192.9 162.7,191.2 163.1,189.5" fill="#a08a20" stroke="#7a6818" stroke-width="0.7" stroke-linejoin="round" />
<polygon points="162.8,189.4 162.7,188.3 162.4,187.2 162,186.4 161.3,185.7 160.5,185.3 159.7,185.1 158.7,185.3 157.8,185.6 156.8,186.2 156,187.1 155.2,188.1 154.5,189.2 154.1,190.5 153.8,191.7 153.7,193 153.8,194.2 154.1,195.2 154.5,196.1 155.2,196.7 156,197.1 156.8,197.3 157.8,197.2 158.7,196.8 159.7,196.2 160.5,195.3 161.3,194.3 162,193.2 162.4,191.9 162.7,190.7" fill="#f2e030" />
<polygon points="188.7,177.9 188.5,175.7 187.9,173.7 187,172.1 185.8,170.8 184.4,170.1 182.7,169.8 180.9,170 179.1,170.7 177.3,171.9 175.6,173.4 174.2,175.4 173,177.6 172.1,179.9 171.5,182.3 171.3,184.7 171.5,186.9 172.1,188.9 173,190.5 174.2,191.8 175.6,192.5 177.3,192.8 179.1,192.6 180.9,191.9 182.7,190.7 184.4,189.2 185.8,187.2 187,185 187.9,182.7 188.5,180.3" fill="#d4ba2a" stroke="#7a6818" stroke-width="0.8" stroke-linejoin="round" />
<polygon points="186.2,178.9 186,177.3 185.6,175.9 185,174.8 184.1,173.9 183.1,173.3 181.9,173.1 180.6,173.3 179.4,173.8 178.1,174.6 176.9,175.7 175.9,177.1 175,178.6 174.4,180.3 174,182 173.8,183.7 174,185.3 174.4,186.7 175,187.8 175.9,188.7 176.9,189.3 178.1,189.5 179.4,189.3 180.6,188.8 181.9,188 183.1,186.9 184.1,185.5 185,184 185.6,182.3 186,180.6" fill="#a08a20" stroke="#7a6818" stroke-width="0.7" stroke-linejoin="round" />
<polygon points="185.7,180.5 185.6,179.4 185.3,178.3 184.9,177.5 184.2,176.8 183.4,176.4 182.6,176.2 181.6,176.4 180.7,176.7 179.7,177.3 178.9,178.2 178.1,179.2 177.4,180.3 177,181.6 176.7,182.8 176.6,184.1 176.7,185.3 177,186.3 177.4,187.2 178.1,187.8 178.9,188.2 179.7,188.4 180.7,188.3 181.6,187.9 182.6,187.3 183.4,186.4 184.2,185.4 184.9,184.3 185.3,183 185.6,181.8" fill="#f2e030" />
<polygon points="211.6,169 211.4,166.8 210.8,164.8 209.9,163.2 208.7,161.9 207.3,161.2 205.6,160.9 203.8,161.1 202,161.8 200.2,163 198.5,164.5 197.1,166.5 195.9,168.7 195,171 194.4,173.4 194.2,175.8 194.4,178 195,180 195.9,181.6 197.1,182.9 198.5,183.6 200.2,183.9 202,183.7 203.8,183 205.6,181.8 207.3,180.3 208.7,178.3 209.9,176.1 210.8,173.8 211.4,171.4" fill="#d4ba2a" stroke="#7a6818" stroke-width="0.8" stroke-linejoin="round" />
<polygon points="209.1,170 208.9,168.4 208.5,167 207.9,165.9 207,165 206,164.4 204.8,164.2 203.5,164.4 202.3,164.9 201,165.7 199.8,166.8 198.8,168.2 197.9,169.7 197.3,171.4 196.9,173.1 196.7,174.8 196.9,176.4 197.3,177.8 197.9,178.9 198.8,179.8 199.8,180.4 201,180.6 202.3,180.4 203.5,179.9 204.8,179.1 206,178 207,176.6 207.9,175.1 208.5,173.4 208.9,171.7" fill="#a08a20" stroke="#7a6818" stroke-width="0.7" stroke-linejoin="round" />
<polygon points="208.6,171.6 208.5,170.5 208.2,169.4 207.8,168.6 207.1,167.9 206.3,167.5 205.5,167.3 204.5,167.5 203.6,167.8 202.6,168.4 201.8,169.3 201,170.3 200.3,171.4 199.9,172.7 199.6,173.9 199.5,175.2 199.6,176.4 199.9,177.4 200.3,178.3 201,178.9 201.8,179.3 202.6,179.5 203.6,179.4 204.5,179 205.5,178.4 206.3,177.5 207.1,176.5 207.8,175.4 208.2,174.1 208.5,172.9" fill="#f2e030" />
<polygon points="78.2,187.2 78.5,186.4 79.2,185.7 80.4,185 81.8,184.4 83.6,184 85.6,183.7 87.7,183.5 89.8,183.5 91.8,183.7 93.7,184 95.3,184.5 96.7,185.1 97.7,185.7 98.2,186.5 98.3,187.2 98.3,191 98,191.8 97.3,192.5 96.1,193.2 94.7,193.8 92.9,194.2 90.9,194.6 88.8,194.7 86.7,194.7 84.7,194.5 82.8,194.2 81.2,193.8 79.8,193.2 78.8,192.5 78.3,191.8 78.2,191" fill="#c8b02a" stroke="#6e5e18" stroke-width="1.0" stroke-linejoin="round" />
<polygon points="95.3,184.5 96.7,185.1 97.7,185.7 98.2,186.5 98.3,187.2 98,188 97.3,188.8 96.1,189.4 94.7,190 92.9,190.5 90.9,190.8 88.8,190.9 86.7,190.9 84.7,190.8 82.8,190.5 81.2,190 79.8,189.4 78.8,188.7 78.3,188 78.2,187.2 78.5,186.4 79.2,185.7 80.4,185 81.8,184.4 83.6,184 85.6,183.7 87.7,183.5 89.8,183.5 91.8,183.7 93.7,184" fill="#ecdc26" stroke="#6e5e18" stroke-width="1.0" stroke-linejoin="round" />
<polygon points="93.1,185.4 94,185.8 94.6,186.2 95,186.7 95.1,187.2 94.9,187.8 94.4,188.3 93.6,188.7 92.6,189.1 91.4,189.4 90.1,189.6 88.7,189.7 87.2,189.7 85.8,189.6 84.6,189.4 83.4,189.1 82.5,188.7 81.9,188.2 81.5,187.7 81.4,187.2 81.6,186.7 82.1,186.2 82.9,185.7 83.9,185.3 85.1,185 86.4,184.8 87.8,184.7 89.3,184.7 90.7,184.8 91.9,185" fill="#d8c82a" stroke="#8a7a20" stroke-width="0.8" stroke-linejoin="round" />
<polygon points="101.1,178.3 101.4,177.5 102.1,176.8 103.3,176.1 104.7,175.5 106.5,175.1 108.5,174.8 110.6,174.6 112.7,174.6 114.7,174.8 116.6,175.1 118.2,175.6 119.6,176.2 120.6,176.8 121.1,177.6 121.2,178.3 121.2,182.1 120.9,182.9 120.2,183.6 119,184.3 117.6,184.9 115.8,185.3 113.8,185.7 111.7,185.8 109.6,185.8 107.6,185.6 105.7,185.3 104,184.9 102.7,184.3 101.7,183.6 101.2,182.9 101.1,182.1" fill="#c8b02a" stroke="#6e5e18" stroke-width="1.0" stroke-linejoin="round" />
<polygon points="118.2,175.6 119.6,176.2 120.6,176.8 121.1,177.6 121.2,178.3 120.9,179.1 120.2,179.9 119,180.5 117.6,181.1 115.8,181.6 113.8,181.9 111.7,182 109.6,182 107.6,181.9 105.7,181.6 104.1,181.1 102.7,180.5 101.7,179.8 101.2,179.1 101.1,178.3 101.4,177.5 102.1,176.8 103.3,176.1 104.7,175.5 106.5,175.1 108.5,174.8 110.6,174.6 112.7,174.6 114.7,174.8 116.6,175.1" fill="#ecdc26" stroke="#6e5e18" stroke-width="1.0" stroke-linejoin="round" />
<polygon points="116,176.5 116.9,176.9 117.5,177.3 117.9,177.8 118,178.3 117.8,178.9 117.3,179.4 116.5,179.8 115.5,180.2 114.3,180.5 113,180.7 111.6,180.8 110.1,180.8 108.7,180.7 107.5,180.5 106.3,180.2 105.4,179.8 104.8,179.3 104.4,178.8 104.3,178.3 104.5,177.8 105,177.3 105.8,176.8 106.8,176.4 108,176.1 109.3,175.9 110.7,175.8 112.2,175.8 113.6,175.9 114.8,176.1" fill="#d8c82a" stroke="#8a7a20" stroke-width="0.8" stroke-linejoin="round" />
<polygon points="124,169.4 124.3,168.6 125,167.9 126.2,167.2 127.6,166.6 129.4,166.2 131.4,165.9 133.5,165.7 135.6,165.7 137.6,165.9 139.5,166.2 141.2,166.7 142.5,167.2 143.5,167.9 144,168.7 144.1,169.4 144.1,173.2 143.8,174 143.1,174.7 141.9,175.4 140.5,176 138.7,176.4 136.7,176.8 134.6,176.9 132.5,176.9 130.5,176.7 128.6,176.4 127,176 125.6,175.4 124.6,174.7 124.1,174 124,173.2" fill="#c8b02a" stroke="#6e5e18" stroke-width="1.0" stroke-linejoin="round" />
<polygon points="141.1,166.7 142.5,167.3 143.5,167.9 144,168.7 144.1,169.4 143.8,170.2 143.1,171 141.9,171.6 140.5,172.2 138.7,172.7 136.7,173 134.6,173.1 132.5,173.1 130.5,173 128.6,172.7 127,172.2 125.6,171.6 124.6,170.9 124.1,170.2 124,169.4 124.3,168.6 125,167.9 126.2,167.2 127.6,166.6 129.4,166.2 131.4,165.9 133.5,165.7 135.6,165.7 137.6,165.9 139.5,166.2" fill="#ecdc26" stroke="#6e5e18" stroke-width="1.0" stroke-linejoin="round" />
<polygon points="138.9,167.6 139.8,168 140.4,168.4 140.8,168.9 140.9,169.4 140.7,170 140.2,170.5 139.4,170.9 138.4,171.3 137.2,171.6 135.9,171.8 134.5,171.9 133,171.9 131.6,171.8 130.4,171.6 129.2,171.3 128.3,170.9 127.7,170.4 127.3,169.9 127.2,169.4 127.4,168.9 127.9,168.4 128.7,167.9 129.7,167.5 130.9,167.2 132.2,167 133.6,166.9 135.1,166.9 136.5,167 137.7,167.2" fill="#d8c82a" stroke="#8a7a20" stroke-width="0.8" stroke-linejoin="round" />
<polygon points="146.9,160.5 147.2,159.7 147.9,159 149.1,158.3 150.5,157.7 152.3,157.3 154.3,157 156.4,156.8 158.5,156.8 160.5,157 162.4,157.3 164.1,157.8 165.4,158.3 166.4,159 166.9,159.8 167,160.6 167,164.3 166.7,165.1 166,165.8 164.8,166.5 163.4,167.1 161.6,167.5 159.6,167.8 157.5,168 155.4,168 153.4,167.8 151.5,167.5 149.8,167.1 148.5,166.5 147.5,165.8 147,165.1 146.9,164.3" fill="#c8b02a" stroke="#6e5e18" stroke-width="1.0" stroke-linejoin="round" />
<polygon points="164,157.8 165.4,158.4 166.4,159 166.9,159.8 167,160.5 166.7,161.3 166,162.1 164.8,162.7 163.4,163.3 161.6,163.8 159.6,164.1 157.5,164.2 155.4,164.2 153.4,164.1 151.5,163.8 149.9,163.3 148.5,162.7 147.5,162 147,161.3 146.9,160.5 147.2,159.7 147.9,159 149.1,158.3 150.5,157.7 152.3,157.3 154.3,157 156.4,156.8 158.5,156.8 160.5,157 162.4,157.3" fill="#ecdc26" stroke="#6e5e18" stroke-width="1.0" stroke-linejoin="round" />
<polygon points="161.8,158.7 162.7,159.1 163.3,159.5 163.7,160 163.8,160.5 163.6,161.1 163.1,161.6 162.3,162 161.3,162.4 160.1,162.7 158.8,162.9 157.4,163 155.9,163 154.5,162.9 153.3,162.7 152.1,162.4 151.2,162 150.6,161.5 150.2,161 150.1,160.5 150.3,160 150.8,159.5 151.6,159 152.6,158.6 153.8,158.3 155.1,158.1 156.5,158 158,158 159.4,158.1 160.6,158.3" fill="#d8c82a" stroke="#8a7a20" stroke-width="0.8" stroke-linejoin="round" />
<polygon points="169.8,151.6 170.1,150.8 170.8,150.1 172,149.4 173.4,148.8 175.2,148.4 177.2,148.1 179.3,147.9 181.4,147.9 183.4,148.1 185.3,148.4 186.9,148.9 188.3,149.4 189.3,150.1 189.8,150.9 189.9,151.7 189.9,155.4 189.6,156.2 188.9,156.9 187.7,157.6 186.3,158.2 184.5,158.6 182.5,158.9 180.4,159.1 178.3,159.1 176.3,158.9 174.4,158.6 172.8,158.2 171.4,157.6 170.4,156.9 169.9,156.2 169.8,155.4" fill="#c8b02a" stroke="#6e5e18" stroke-width="1.0" stroke-linejoin="round" />
<polygon points="186.9,148.9 188.3,149.5 189.3,150.1 189.8,150.9 189.9,151.6 189.6,152.4 188.9,153.2 187.7,153.8 186.3,154.4 184.5,154.9 182.5,155.2 180.4,155.3 178.3,155.3 176.3,155.2 174.4,154.9 172.8,154.4 171.4,153.8 170.4,153.1 169.9,152.4 169.8,151.6 170.1,150.8 170.8,150.1 172,149.4 173.4,148.8 175.2,148.4 177.2,148.1 179.3,147.9 181.4,147.9 183.4,148.1 185.3,148.4" fill="#ecdc26" stroke="#6e5e18" stroke-width="1.0" stroke-linejoin="round" />
<polygon points="184.7,149.8 185.6,150.2 186.2,150.6 186.6,151.1 186.7,151.6 186.5,152.2 186,152.7 185.2,153.1 184.2,153.5 183,153.8 181.7,154 180.3,154.1 178.8,154.1 177.4,154 176.2,153.8 175,153.5 174.1,153.1 173.5,152.6 173.1,152.1 173,151.6 173.2,151.1 173.7,150.6 174.5,150.1 175.5,149.7 176.7,149.4 178,149.2 179.4,149.1 180.9,149.1 182.3,149.2 183.5,149.4" fill="#d8c82a" stroke="#8a7a20" stroke-width="0.8" stroke-linejoin="round" />
<polygon points="192.7,142.7 193,141.9 193.7,141.2 194.9,140.5 196.3,139.9 198.1,139.5 200.1,139.2 202.2,139 204.3,139 206.3,139.2 208.2,139.5 209.8,140 211.2,140.6 212.2,141.2 212.7,142 212.8,142.8 212.8,146.5 212.5,147.3 211.8,148 210.6,148.7 209.2,149.3 207.4,149.7 205.4,150.1 203.3,150.2 201.2,150.2 199.2,150 197.3,149.7 195.7,149.3 194.3,148.7 193.3,148 192.8,147.3 192.7,146.5" fill="#c8b02a" stroke="#6e5e18" stroke-width="1.0" stroke-linejoin="round" />
<polygon points="209.8,140 211.2,140.6 212.2,141.2 212.7,142 212.8,142.7 212.5,143.5 211.8,144.3 210.6,144.9 209.2,145.5 207.4,146 205.4,146.3 203.3,146.4 201.2,146.4 199.2,146.3 197.3,146 195.7,145.5 194.3,144.9 193.3,144.2 192.8,143.5 192.7,142.7 193,141.9 193.7,141.2 194.9,140.5 196.3,139.9 198.1,139.5 200.1,139.2 202.2,139 204.3,139 206.3,139.2 208.2,139.5" fill="#ecdc26" stroke="#6e5e18" stroke-width="1.0" stroke-linejoin="round" />
<polygon points="207.6,140.9 208.5,141.3 209.1,141.7 209.5,142.2 209.6,142.7 209.4,143.3 208.9,143.8 208.1,144.2 207.1,144.6 205.9,144.9 204.6,145.1 203.2,145.2 201.7,145.2 200.3,145.1 199.1,144.9 197.9,144.6 197,144.2 196.4,143.7 196,143.2 195.9,142.7 196.1,142.2 196.6,141.7 197.4,141.2 198.4,140.8 199.6,140.5 200.9,140.3 202.3,140.2 203.8,140.2 205.2,140.3 206.4,140.5" fill="#d8c82a" stroke="#8a7a20" stroke-width="0.8" stroke-linejoin="round" />
<polygon points="190.6,212.2 190.7,210.5 191.2,208.9 191.9,207.6 192.9,206.6 194.1,205.9 215.8,197.4 217.2,197.2 218.6,197.3 220,197.8 221.4,198.7 222.8,199.9 224,201.4 224.9,203.1 225.7,204.9 226.1,206.8 226.3,208.6 226.1,210.4 225.7,212 224.9,213.3 224,214.3 222.8,214.9 201,223.4 199.7,223.7 198.3,223.6 196.8,223.1 195.4,222.2 194.1,221 192.9,219.5 191.9,217.8 191.2,216 190.7,214.1" fill="url(#g5)" stroke="#4a484e" stroke-width="0.7" stroke-linejoin="round" />
<polygon points="204.5,217.1 204.4,215.2 203.9,213.3 203.2,211.5 202.2,209.8 201,208.3 199.7,207.1 198.3,206.3 196.8,205.7 195.4,205.6 194.1,205.9 192.9,206.6 191.9,207.6 191.2,208.9 190.7,210.5 190.6,212.2 190.7,214.1 191.2,216 191.9,217.8 192.9,219.5 194.1,221 195.4,222.2 196.8,223.1 198.3,223.6 199.7,223.7 201,223.4 202.2,222.7 203.2,221.7 203.9,220.4 204.4,218.8" fill="#a0a0a6" stroke="#4a484e" stroke-width="0.7" stroke-linejoin="round" />
<polygon points="185.3,212.9 185.5,210.7 186.1,208.7 187,207 188.2,205.7 189.7,204.9 193.1,203.6 194.8,203.2 196.6,203.4 198.5,204 200.3,205.1 201.9,206.7 203.4,208.5 204.7,210.7 205.6,213 206.2,215.4 206.4,217.7 206.2,220 205.6,221.9 204.7,223.6 203.4,224.9 201.9,225.7 198.5,227.1 196.8,227.4 195,227.3 193.2,226.6 191.4,225.5 189.7,224 188.2,222.1 187,220 186.1,217.7 185.5,215.3" fill="url(#g6)" stroke="#4a484e" stroke-width="0.7" stroke-linejoin="round" />
<polygon points="202.9,219.1 202.7,216.7 202.2,214.3 201.2,212 200,209.9 198.5,208 196.8,206.5 195,205.4 193.2,204.7 191.4,204.6 189.7,204.9 188.2,205.7 187,207 186.1,208.7 185.5,210.7 185.3,212.9 185.5,215.3 186.1,217.7 187,220 188.2,222.1 189.7,224 191.4,225.5 193.2,226.6 195,227.3 196.8,227.4 198.5,227.1 200,226.2 201.2,225 202.2,223.3 202.7,221.3" fill="#a0a0a6" stroke="#4a484e" stroke-width="0.7" stroke-linejoin="round" />
<polygon points="166.5,221.6 166.7,219.8 167.1,218.2 167.9,216.9 168.8,215.9 170,215.2 190.6,207.2 192,207 193.4,207.1 194.8,207.6 196.3,208.5 197.6,209.7 198.8,211.2 199.7,212.8 200.5,214.7 200.9,216.6 201.1,218.4 200.9,220.2 200.5,221.8 199.7,223.1 198.8,224.1 197.6,224.7 177,232.8 175.7,233 174.2,232.9 172.8,232.4 171.3,231.5 170,230.3 168.8,228.8 167.9,227.2 167.1,225.3 166.7,223.4" fill="url(#g7)" stroke="#4a484e" stroke-width="0.7" stroke-linejoin="round" />
<polygon points="180.5,226.4 180.3,224.6 179.9,222.7 179.1,220.9 178.2,219.2 177,217.7 175.7,216.5 174.2,215.6 172.8,215.1 171.3,215 170,215.3 168.8,215.9 167.9,216.9 167.1,218.2 166.7,219.8 166.5,221.6 166.7,223.4 167.1,225.3 167.9,227.1 168.8,228.8 170,230.3 171.3,231.5 172.8,232.4 174.2,232.9 175.7,233 177,232.7 178.2,232.1 179.1,231.1 179.9,229.8 180.3,228.2" fill="#8a8890" stroke="#4a484e" stroke-width="0.7" stroke-linejoin="round" />
<polygon points="177,225.2 176.9,224.3 176.7,223.3 176.3,222.4 175.8,221.6 175.2,220.8 174.6,220.2 173.9,219.8 173.1,219.5 172.4,219.5 171.8,219.6 171.2,220 170.7,220.5 170.3,221.1 170.1,221.9 170,222.8 170.1,223.7 170.3,224.7 170.7,225.6 171.2,226.4 171.8,227.2 172.4,227.8 173.1,228.2 173.9,228.5 174.6,228.5 175.2,228.4 175.8,228 176.3,227.5 176.7,226.9 176.9,226.1" fill="#4a4650" />
<polygon points="64.5,381.8 64.8,378.7 65.6,376 66.8,373.7 68.5,372 70.6,370.8 116.4,353 118.7,352.6 121.1,352.8 123.7,353.6 126.1,355.2 128.4,357.2 130.5,359.8 132.2,362.7 133.4,365.9 134.2,369.2 134.5,372.4 134.2,375.5 133.4,378.2 132.2,380.5 130.5,382.2 128.4,383.4 82.6,401.2 80.3,401.6 77.9,401.4 75.3,400.6 72.9,399 70.6,396.9 68.5,394.4 66.8,391.5 65.6,388.3 64.8,385" fill="url(#g8)" stroke="#760a10" stroke-width="0.7" stroke-linejoin="round" />
<polygon points="88.7,390.2 88.4,387 87.6,383.7 86.4,380.5 84.7,377.6 82.6,375 80.3,373 77.9,371.4 75.3,370.6 72.9,370.4 70.6,370.8 68.5,372 66.8,373.7 65.6,376 64.8,378.7 64.5,381.8 64.8,385 65.6,388.3 66.8,391.5 68.5,394.4 70.6,397 72.9,399 75.3,400.6 77.9,401.4 80.3,401.6 82.6,401.2 84.7,400 86.4,398.3 87.6,396 88.4,393.3" fill="#de1c24" stroke="#760a10" stroke-width="0.7" stroke-linejoin="round" />
<polygon points="83.8,388.5 83.7,386.6 83.2,384.6 82.5,382.7 81.4,381 80.2,379.4 78.8,378.2 77.4,377.3 75.8,376.7 74.4,376.6 73,376.9 71.8,377.6 70.7,378.6 70,380 69.5,381.6 69.4,383.5 69.5,385.4 70,387.4 70.7,389.3 71.8,391 73,392.6 74.4,393.8 75.8,394.7 77.4,395.3 78.8,395.4 80.2,395.1 81.4,394.4 82.5,393.4 83.2,392 83.7,390.4" fill="#b01010" />
<polygon points="83.6,388.4 83.4,386.6 83,384.7 82.2,382.9 81.3,381.2 80.1,379.7 78.8,378.5 77.3,377.6 75.9,377.1 74.4,377 73.1,377.3 71.9,377.9 71,378.9 70.2,380.2 69.8,381.8 69.6,383.6 69.8,385.4 70.2,387.3 71,389.1 71.9,390.8 73.1,392.3 74.4,393.5 75.9,394.4 77.3,394.9 78.8,395 80.1,394.7 81.3,394.1 82.2,393.1 83,391.8 83.4,390.2" fill="#b01010" stroke="#760a10" stroke-width="0.6" stroke-linejoin="round" />
<polygon points="142.7,403.6 143.8,401.1 146.2,398.7 149.8,396.5 154.6,394.7 160.3,393.2 166.7,392.2 173.4,391.7 180.2,391.7 186.8,392.2 192.9,393.3 198.2,394.8 202.5,396.6 205.7,398.8 207.5,401.2 207.9,403.7 207.9,408.1 206.8,410.6 204.4,412.9 200.8,415.1 196,417 190.3,418.4 183.9,419.5 177.2,420 170.4,420 163.8,419.4 157.7,418.4 152.4,416.9 148.1,415 144.9,412.8 143.1,410.4 142.7,407.9" fill="url(#g9)" stroke="#760a10" stroke-width="0.7" stroke-linejoin="round" />
<polygon points="142.7,403.6 161.6,341.3 162.1,340.2 163.1,339.2 164.6,338.3 166.6,337.5 169,336.9 171.7,336.5 174.5,336.3 177.3,336.3 180.1,336.5 182.7,336.9 184.9,337.6 186.7,338.4 188.1,339.3 188.8,340.3 207.5,401.2 207.9,403.7 206.8,406.2 204.4,408.6 200.8,410.8 196,412.6 190.3,414.1 183.9,415.1 177.2,415.6 170.4,415.6 163.8,415.1 157.7,414 152.4,412.6 148.1,410.7 144.9,408.5 143.1,406.1" fill="url(#g10)" stroke="#760a10" stroke-width="0.7" stroke-linejoin="round" />
<polygon points="163.6,335.5 163.9,334.6 164.8,333.7 166.1,332.9 167.9,332.3 169.9,331.7 172.2,331.4 174.6,331.2 177.1,331.2 179.4,331.4 181.6,331.8 183.5,332.3 185.1,333 186.2,333.8 186.9,334.6 187,335.5 187,341.3 186.7,342.2 185.8,343.1 184.5,343.9 182.7,344.5 180.7,345.1 178.4,345.4 176,345.6 173.5,345.6 171.2,345.4 169,345 167.1,344.5 165.5,343.8 164.4,343 163.7,342.2 163.6,341.3" fill="url(#g11)" stroke="#760a10" stroke-width="0.7" stroke-linejoin="round" />
<polygon points="183.5,332.3 185.1,333 186.2,333.8 186.9,334.6 187,335.5 186.7,336.4 185.8,337.3 184.5,338.1 182.7,338.7 180.7,339.3 178.4,339.6 176,339.8 173.5,339.8 171.2,339.6 169,339.2 167.1,338.7 165.5,338 164.4,337.2 163.7,336.4 163.6,335.5 163.9,334.6 164.8,333.7 166.1,332.9 167.9,332.3 169.9,331.7 172.2,331.4 174.6,331.2 177.1,331.2 179.4,331.4 181.6,331.8" fill="#c81616" stroke="#760a10" stroke-width="0.7" stroke-linejoin="round" />
<polygon points="180.3,333.5 181.3,334 182,334.4 182.4,335 182.5,335.5 182.2,336.1 181.7,336.6 180.9,337.1 179.8,337.5 178.6,337.8 177.2,338 175.7,338.1 174.2,338.1 172.8,338 171.4,337.8 170.3,337.5 169.3,337 168.6,336.6 168.2,336 168.1,335.5 168.4,334.9 168.9,334.4 169.7,333.9 170.8,333.5 172,333.2 173.4,333 174.9,332.9 176.4,332.9 177.8,333 179.2,333.2" fill="#a80e0e" />
<polygon points="64.6,454.8 87.8,462.9 87.8,497.7 64.6,489.6" fill="#c2a626" stroke="#7a6818" stroke-width="1.0" stroke-linejoin="round" />
<polygon points="87.8,462.9 133.6,445.1 133.6,479.9 87.8,497.7" fill="#d4ba2a" stroke="#7a6818" stroke-width="1.0" stroke-linejoin="round" />
<polygon points="64.6,454.8 110.4,437 133.6,445.1 87.8,462.9" fill="#f2e222" stroke="#7a6818" stroke-width="1.0" stroke-linejoin="round" />
<polygon points="116.7,469.1 116.5,467.6 116.1,466.2 115.5,465.1 114.7,464.2 113.7,463.7 112.5,463.5 111.3,463.7 110.1,464.1 108.9,464.9 107.7,466 106.7,467.3 105.9,468.8 105.3,470.4 104.9,472.1 104.7,473.7 104.9,475.2 105.3,476.6 105.9,477.7 106.7,478.6 107.7,479.1 108.9,479.3 110.1,479.1 111.3,478.7 112.5,477.9 113.7,476.8 114.7,475.5 115.5,474 116.1,472.4 116.5,470.7" fill="#c8ae28" stroke="#7a6818" stroke-width="0.8" stroke-linejoin="round" />
<polygon points="114.4,470.8 114.3,470.1 114.1,469.4 113.8,468.9 113.4,468.4 112.9,468.2 112.3,468.1 111.7,468.1 111.1,468.4 110.5,468.8 109.9,469.3 109.4,470 109,470.7 108.7,471.5 108.5,472.4 108.4,473.2 108.5,473.9 108.7,474.6 109,475.2 109.4,475.6 109.9,475.8 110.5,475.9 111.1,475.9 111.7,475.6 112.3,475.2 112.9,474.7 113.4,474 113.8,473.3 114.1,472.5 114.3,471.7" fill="#ecd630" />
<line x1="106.1" y1="473.2" x2="115.3" y2="469.6" stroke="#9a8420" stroke-width="1.6" stroke-linecap="butt" />
<line x1="110.7" y1="477.2" x2="110.7" y2="465.6" stroke="#9a8420" stroke-width="1.6" stroke-linecap="butt" />
<polygon points="77.6,450.6 77.9,449.8 78.6,449.1 79.8,448.4 81.2,447.8 83,447.4 85,447.1 87.1,446.9 89.2,446.9 91.2,447.1 93.1,447.4 94.8,447.9 96.1,448.4 97.1,449.1 97.6,449.9 97.7,450.6 97.7,454.4 97.4,455.2 96.7,455.9 95.5,456.6 94.1,457.2 92.3,457.6 90.3,457.9 88.2,458.1 86.1,458.1 84.1,457.9 82.2,457.6 80.5,457.2 79.2,456.6 78.2,455.9 77.7,455.2 77.6,454.4" fill="#c8b02a" stroke="#6e5e18" stroke-width="1.0" stroke-linejoin="round" />
<polygon points="94.7,447.9 96.1,448.5 97.1,449.1 97.6,449.9 97.7,450.6 97.4,451.4 96.7,452.2 95.5,452.8 94.1,453.4 92.3,453.9 90.3,454.2 88.2,454.3 86.1,454.3 84.1,454.2 82.2,453.9 80.6,453.4 79.2,452.8 78.2,452.1 77.7,451.4 77.6,450.6 77.9,449.8 78.6,449.1 79.8,448.4 81.2,447.8 83,447.4 85,447.1 87.1,446.9 89.2,446.9 91.2,447.1 93.1,447.4" fill="#ecdc26" stroke="#6e5e18" stroke-width="1.0" stroke-linejoin="round" />
<polygon points="92.5,448.8 93.4,449.2 94,449.6 94.4,450.1 94.5,450.6 94.3,451.2 93.8,451.7 93,452.1 92,452.5 90.8,452.8 89.5,453 88.1,453.1 86.6,453.1 85.2,453 84,452.8 82.8,452.5 81.9,452.1 81.3,451.6 80.9,451.1 80.8,450.6 81,450.1 81.5,449.6 82.3,449.1 83.3,448.7 84.5,448.4 85.8,448.2 87.2,448.1 88.7,448.1 90.1,448.2 91.3,448.4" fill="#d8c82a" stroke="#8a7a20" stroke-width="0.8" stroke-linejoin="round" />
<polygon points="100.5,441.7 100.8,440.9 101.5,440.2 102.7,439.5 104.1,438.9 105.9,438.5 107.9,438.2 110,438 112.1,438 114.1,438.2 116,438.5 117.7,439 119,439.6 120,440.2 120.5,441 120.6,441.8 120.6,445.5 120.3,446.3 119.6,447 118.4,447.7 117,448.3 115.2,448.7 113.2,449.1 111.1,449.2 109,449.2 107,449 105.1,448.7 103.5,448.3 102.1,447.7 101.1,447 100.6,446.3 100.5,445.5" fill="#c8b02a" stroke="#6e5e18" stroke-width="1.0" stroke-linejoin="round" />
<polygon points="117.6,439 119,439.6 120,440.2 120.5,441 120.6,441.7 120.3,442.5 119.6,443.3 118.4,443.9 117,444.5 115.2,445 113.2,445.3 111.1,445.4 109,445.4 107,445.3 105.1,445 103.5,444.5 102.1,443.9 101.1,443.2 100.6,442.5 100.5,441.7 100.8,440.9 101.5,440.2 102.7,439.5 104.1,438.9 105.9,438.5 107.9,438.2 110,438 112.1,438 114.1,438.2 116,438.5" fill="#ecdc26" stroke="#6e5e18" stroke-width="1.0" stroke-linejoin="round" />
<polygon points="115.4,439.9 116.3,440.3 116.9,440.7 117.3,441.2 117.4,441.7 117.2,442.3 116.7,442.8 115.9,443.2 114.9,443.6 113.7,443.9 112.4,444.1 111,444.2 109.5,444.2 108.1,444.1 106.9,443.9 105.7,443.6 104.8,443.2 104.2,442.7 103.8,442.2 103.7,441.7 103.9,441.2 104.4,440.7 105.2,440.2 106.2,439.8 107.4,439.5 108.7,439.3 110.1,439.2 111.6,439.2 113,439.3 114.2,439.5" fill="#d8c82a" stroke="#8a7a20" stroke-width="0.8" stroke-linejoin="round" />
<polygon points="141.5,478 164.7,486.1 164.7,497.7 141.5,489.6" fill="#c2a626" stroke="#7a6818" stroke-width="1.0" stroke-linejoin="round" />
<polygon points="164.7,486.1 210.5,468.3 210.5,479.9 164.7,497.7" fill="#d4ba2a" stroke="#7a6818" stroke-width="1.0" stroke-linejoin="round" />
<polygon points="141.5,478 187.3,460.2 210.5,468.3 164.7,486.1" fill="#f2e222" stroke="#7a6818" stroke-width="1.0" stroke-linejoin="round" />
<polygon points="154.5,473.8 154.8,473 155.5,472.3 156.7,471.6 158.1,471 159.9,470.6 161.9,470.3 164,470.1 166.1,470.1 168.1,470.3 170,470.6 171.7,471.1 173,471.6 174,472.3 174.5,473.1 174.6,473.9 174.6,477.6 174.3,478.4 173.6,479.1 172.4,479.8 171,480.4 169.2,480.8 167.2,481.1 165.1,481.3 163,481.3 161,481.1 159.1,480.8 157.4,480.4 156.1,479.8 155.1,479.1 154.6,478.4 154.5,477.6" fill="#c8b02a" stroke="#6e5e18" stroke-width="1.0" stroke-linejoin="round" />
<polygon points="171.6,471.1 173,471.7 174,472.3 174.5,473.1 174.6,473.8 174.3,474.6 173.6,475.4 172.4,476 171,476.6 169.2,477.1 167.2,477.4 165.1,477.5 163,477.5 161,477.4 159.1,477.1 157.5,476.6 156.1,476 155.1,475.3 154.6,474.6 154.5,473.8 154.8,473 155.5,472.3 156.7,471.6 158.1,471 159.9,470.6 161.9,470.3 164,470.1 166.1,470.1 168.1,470.3 170,470.6" fill="#ecdc26" stroke="#6e5e18" stroke-width="1.0" stroke-linejoin="round" />
<polygon points="169.4,472 170.3,472.4 170.9,472.8 171.3,473.3 171.4,473.8 171.2,474.4 170.7,474.9 169.9,475.3 168.9,475.7 167.7,476 166.4,476.2 165,476.3 163.5,476.3 162.1,476.2 160.9,476 159.7,475.7 158.8,475.3 158.2,474.8 157.8,474.3 157.7,473.8 157.9,473.3 158.4,472.8 159.2,472.3 160.2,471.9 161.4,471.6 162.7,471.4 164.1,471.3 165.6,471.3 167,471.4 168.2,471.6" fill="#d8c82a" stroke="#8a7a20" stroke-width="0.8" stroke-linejoin="round" />
<polygon points="177.4,464.9 177.7,464.1 178.4,463.4 179.6,462.7 181,462.1 182.8,461.7 184.8,461.4 186.9,461.2 189,461.2 191,461.4 192.9,461.7 194.6,462.2 195.9,462.8 196.9,463.4 197.4,464.2 197.5,464.9 197.5,468.7 197.2,469.5 196.5,470.2 195.3,470.9 193.9,471.5 192.1,471.9 190.1,472.2 188,472.4 185.9,472.4 183.9,472.2 182,471.9 180.3,471.5 179,470.9 178,470.2 177.5,469.5 177.4,468.7" fill="#c8b02a" stroke="#6e5e18" stroke-width="1.0" stroke-linejoin="round" />
<polygon points="194.5,462.2 195.9,462.8 196.9,463.4 197.4,464.2 197.5,464.9 197.2,465.7 196.5,466.5 195.3,467.1 193.9,467.7 192.1,468.2 190.1,468.5 188,468.6 185.9,468.6 183.9,468.5 182,468.2 180.4,467.7 179,467.1 178,466.4 177.5,465.7 177.4,464.9 177.7,464.1 178.4,463.4 179.6,462.7 181,462.1 182.8,461.7 184.8,461.4 186.9,461.2 189,461.2 191,461.4 192.9,461.7" fill="#ecdc26" stroke="#6e5e18" stroke-width="1.0" stroke-linejoin="round" />
<polygon points="192.3,463.1 193.2,463.5 193.8,463.9 194.2,464.4 194.3,464.9 194.1,465.5 193.6,466 192.8,466.4 191.8,466.8 190.6,467.1 189.3,467.3 187.9,467.4 186.4,467.4 185,467.3 183.8,467.1 182.6,466.8 181.7,466.4 181.1,465.9 180.7,465.4 180.6,464.9 180.8,464.4 181.3,463.9 182.1,463.4 183.1,463 184.3,462.7 185.6,462.5 187,462.4 188.5,462.4 189.9,462.5 191.1,462.7" fill="#d8c82a" stroke="#8a7a20" stroke-width="0.8" stroke-linejoin="round" />
<polygon points="82.6,617.9 82.8,615.2 83.5,612.8 84.7,610.7 86.2,609.2 88,608.2 94.4,605.7 96.4,605.3 98.6,605.4 100.8,606.2 103,607.6 105,609.4 106.8,611.7 108.3,614.3 109.5,617.1 110.1,620 110.4,622.8 110.1,625.5 109.5,627.9 108.3,630 106.8,631.5 105,632.5 98.6,635 96.6,635.4 94.4,635.2 92.2,634.5 90,633.1 88,631.3 86.2,629 84.7,626.4 83.5,623.6 82.8,620.7" fill="url(#g12)" stroke="#4a484e" stroke-width="0.7" stroke-linejoin="round" />
<polygon points="104,625.3 103.7,622.5 103,619.6 101.9,616.8 100.4,614.2 98.6,611.9 96.6,610.1 94.4,608.7 92.2,607.9 90,607.8 88,608.2 86.1,609.2 84.7,610.7 83.5,612.8 82.8,615.2 82.6,617.9 82.8,620.7 83.5,623.6 84.7,626.4 86.1,629 88,631.3 90,633.1 92.2,634.5 94.4,635.2 96.6,635.4 98.6,635 100.4,634 101.9,632.4 103,630.4 103.7,628" fill="#a4a4aa" stroke="#4a484e" stroke-width="0.7" stroke-linejoin="round" />
<polygon points="72.6,623.5 72.8,621.4 73.3,619.5 74.2,617.9 75.3,616.7 76.8,615.9 89.1,611.1 90.7,610.8 92.4,610.9 94.2,611.5 95.9,612.6 97.5,614 98.9,615.8 100,617.8 100.9,620 101.5,622.3 101.6,624.5 101.5,626.6 100.9,628.5 100,630.1 98.9,631.3 97.5,632.1 85.1,636.9 83.5,637.2 81.8,637.1 80,636.5 78.3,635.4 76.8,634 75.3,632.2 74.2,630.2 73.3,628 72.8,625.7" fill="url(#g13)" stroke="#4a484e" stroke-width="0.7" stroke-linejoin="round" />
<polygon points="65.2,624 65.5,621 66.2,618.4 67.4,616.2 69,614.5 71,613.4 75.1,611.8 77.3,611.4 79.7,611.5 82.1,612.4 84.5,613.9 86.7,615.9 88.7,618.3 90.3,621.1 91.5,624.2 92.3,627.3 92.5,630.5 92.3,633.4 91.5,636 90.3,638.2 88.7,639.9 86.7,641 82.6,642.6 80.4,643 78,642.8 75.6,642 73.2,640.5 71,638.5 69,636.1 67.4,633.2 66.2,630.2 65.5,627" fill="url(#g14)" stroke="#4a484e" stroke-width="0.7" stroke-linejoin="round" />
<polygon points="88.4,632 88.1,628.9 87.4,625.8 86.2,622.8 84.6,619.9 82.6,617.5 80.4,615.5 78,614 75.6,613.2 73.2,613 71,613.4 69,614.5 67.4,616.2 66.2,618.4 65.5,621 65.2,624 65.5,627.1 66.2,630.2 67.4,633.2 69,636.1 71,638.5 73.2,640.5 75.6,642 78,642.8 80.4,643 82.6,642.6 84.6,641.5 86.2,639.8 87.4,637.6 88.1,635" fill="#8e8e94" stroke="#4a484e" stroke-width="0.7" stroke-linejoin="round" />
<polygon points="80.9,629.4 80.8,628.3 80.5,627.2 80.1,626.2 79.5,625.2 78.8,624.3 78.1,623.6 77.2,623.1 76.4,622.8 75.5,622.7 74.8,622.9 74.1,623.3 73.5,623.9 73.1,624.6 72.8,625.6 72.7,626.6 72.8,627.7 73.1,628.8 73.5,629.8 74.1,630.8 74.8,631.7 75.5,632.4 76.4,632.9 77.2,633.2 78.1,633.3 78.8,633.1 79.5,632.7 80.1,632.1 80.5,631.4 80.8,630.4" fill="#4a4650" />
<polygon points="64.9,704.1 65.2,701 66,698.3 67.2,696 68.9,694.3 71,693.1 116.8,675.3 119.1,674.9 121.5,675.1 124.1,675.9 126.5,677.5 128.8,679.5 130.9,682.1 132.6,685 133.8,688.2 134.6,691.5 134.9,694.7 134.6,697.8 133.8,700.5 132.6,702.8 130.9,704.5 128.8,705.7 83,723.5 80.7,723.9 78.3,723.7 75.7,722.9 73.3,721.3 71,719.2 68.9,716.7 67.2,713.8 66,710.6 65.2,707.3" fill="url(#g15)" stroke="#760a10" stroke-width="0.7" stroke-linejoin="round" />
<polygon points="89.1,712.5 88.8,709.3 88,706 86.8,702.8 85.1,699.9 83,697.3 80.7,695.3 78.3,693.7 75.7,692.9 73.3,692.7 71,693.1 68.9,694.3 67.2,696 66,698.3 65.2,701 64.9,704.1 65.2,707.3 66,710.6 67.2,713.8 68.9,716.7 71,719.3 73.3,721.3 75.7,722.9 78.3,723.7 80.7,723.9 83,723.5 85.1,722.3 86.8,720.6 88,718.3 88.8,715.6" fill="#de1c24" stroke="#760a10" stroke-width="0.7" stroke-linejoin="round" />
<polygon points="84.2,710.8 84.1,708.9 83.6,706.9 82.9,705 81.8,703.3 80.6,701.7 79.2,700.5 77.8,699.6 76.2,699 74.8,698.9 73.4,699.2 72.2,699.9 71.1,700.9 70.4,702.3 69.9,703.9 69.8,705.8 69.9,707.7 70.4,709.7 71.1,711.6 72.2,713.3 73.4,714.9 74.8,716.1 76.2,717 77.8,717.6 79.2,717.7 80.6,717.4 81.8,716.7 82.9,715.7 83.6,714.3 84.1,712.7" fill="#b01010" />
<polygon points="84,710.7 83.8,708.9 83.4,707 82.6,705.2 81.7,703.5 80.5,702 79.2,700.8 77.7,699.9 76.3,699.4 74.8,699.3 73.5,699.6 72.3,700.2 71.4,701.2 70.6,702.5 70.2,704.1 70,705.9 70.2,707.7 70.6,709.6 71.4,711.4 72.3,713.1 73.5,714.6 74.8,715.8 76.3,716.7 77.7,717.2 79.2,717.3 80.5,717 81.7,716.4 82.6,715.4 83.4,714.1 83.8,712.5" fill="#b01010" stroke="#760a10" stroke-width="0.6" stroke-linejoin="round" />
<polygon points="65,785.2 65.2,783.4 65.6,781.8 66.4,780.5 67.3,779.5 68.5,778.9 160.1,743.2 161.4,743 162.9,743.1 164.3,743.6 165.8,744.5 167.1,745.7 168.3,747.2 169.2,748.9 170,750.7 170.4,752.6 170.6,754.4 170.4,756.2 170,757.8 169.2,759.1 168.3,760.1 167.1,760.8 75.5,796.4 74.2,796.6 72.7,796.5 71.3,796 69.8,795.1 68.5,793.9 67.3,792.4 66.4,790.8 65.6,788.9 65.2,787" fill="url(#g16)" stroke="#030303" stroke-width="0.6" stroke-linejoin="round" />
<line x1="70.4" y1="783.4" x2="162" y2="747.8" stroke="#3c3c3c" stroke-width="1.4" stroke-linecap="butt" />
<line x1="71.5" y1="786.3" x2="163.1" y2="750.7" stroke="#030303" stroke-width="1.6" stroke-linecap="butt" />
<line x1="73" y1="790.1" x2="164.6" y2="754.5" stroke="#030303" stroke-width="1.6" stroke-linecap="butt" />
<line x1="72.2" y1="788" x2="163.8" y2="752.4" stroke="#3c3c3c" stroke-width="1.0" stroke-linecap="butt" />
<polygon points="79,790 78.8,788.2 78.4,786.3 77.6,784.5 76.7,782.8 75.5,781.3 74.2,780.1 72.7,779.2 71.3,778.7 69.8,778.6 68.5,778.9 67.3,779.5 66.4,780.5 65.6,781.8 65.2,783.4 65,785.2 65.2,787 65.6,788.9 66.4,790.7 67.3,792.4 68.5,793.9 69.8,795.1 71.3,796 72.7,796.5 74.2,796.6 75.5,796.3 76.7,795.7 77.6,794.7 78.4,793.4 78.8,791.8" fill="#1c1c1c" stroke="#030303" stroke-width="0.8" stroke-linejoin="round" />
<line x1="65.7" y1="785.4" x2="78.3" y2="789.8" stroke="#030303" stroke-width="2.0" stroke-linecap="butt" />
<line x1="72" y1="795.4" x2="72" y2="779.8" stroke="#030303" stroke-width="2.0" stroke-linecap="butt" />
<polygon points="65,854.3 65.2,852.5 65.6,850.9 66.4,849.6 67.3,848.6 68.5,848 205.9,794.5 207.2,794.3 208.7,794.4 210.1,794.9 211.6,795.8 212.9,797 214.1,798.5 215,800.1 215.8,802 216.2,803.9 216.4,805.7 216.2,807.5 215.8,809.1 215,810.4 214.1,811.4 212.9,812 75.5,865.5 74.2,865.7 72.7,865.6 71.3,865.1 69.8,864.2 68.5,863 67.3,861.5 66.4,859.9 65.6,858 65.2,856.1" fill="url(#g17)" stroke="#5a080c" stroke-width="0.6" stroke-linejoin="round" />
<line x1="70.4" y1="852.5" x2="207.8" y2="799.1" stroke="#d02428" stroke-width="1.4" stroke-linecap="butt" />
<line x1="71.5" y1="855.4" x2="208.9" y2="802" stroke="#5a080c" stroke-width="1.6" stroke-linecap="butt" />
<line x1="73" y1="859.2" x2="210.4" y2="805.8" stroke="#5a080c" stroke-width="1.6" stroke-linecap="butt" />
<line x1="72.2" y1="857.1" x2="209.6" y2="803.7" stroke="#d02428" stroke-width="1.0" stroke-linecap="butt" />
<polygon points="79,859.1 78.8,857.3 78.4,855.4 77.6,853.6 76.7,851.9 75.5,850.4 74.2,849.2 72.7,848.3 71.3,847.8 69.8,847.7 68.5,848 67.3,848.6 66.4,849.6 65.6,850.9 65.2,852.5 65,854.3 65.2,856.1 65.6,858 66.4,859.8 67.3,861.5 68.5,863 69.8,864.2 71.3,865.1 72.7,865.6 74.2,865.7 75.5,865.4 76.7,864.8 77.6,863.8 78.4,862.5 78.8,860.9" fill="#b41a1e" stroke="#5a080c" stroke-width="0.8" stroke-linejoin="round" />
<line x1="65.7" y1="854.5" x2="78.3" y2="858.9" stroke="#5a080c" stroke-width="2.0" stroke-linecap="butt" />
<line x1="72" y1="864.5" x2="72" y2="848.9" stroke="#5a080c" stroke-width="2.0" stroke-linecap="butt" />
<polygon points="180.6,841.9 180.7,840.2 181.2,838.6 181.9,837.3 182.9,836.3 184.1,835.6 205.8,827.1 207.2,826.9 208.6,827 210,827.5 211.4,828.4 212.8,829.6 214,831.1 214.9,832.8 215.7,834.6 216.1,836.5 216.3,838.3 216.1,840.1 215.7,841.7 214.9,843 214,844 212.8,844.6 191,853.1 189.7,853.4 188.3,853.3 186.8,852.8 185.4,851.9 184.1,850.7 182.9,849.2 181.9,847.5 181.2,845.7 180.7,843.8" fill="url(#g18)" stroke="#4a484e" stroke-width="0.7" stroke-linejoin="round" />
<polygon points="194.5,846.8 194.4,844.9 193.9,843 193.2,841.2 192.2,839.5 191,838 189.7,836.8 188.3,836 186.8,835.4 185.4,835.3 184.1,835.6 182.9,836.3 181.9,837.3 181.2,838.6 180.7,840.2 180.6,841.9 180.7,843.8 181.2,845.7 181.9,847.5 182.9,849.2 184.1,850.7 185.4,851.9 186.8,852.8 188.3,853.3 189.7,853.4 191,853.1 192.2,852.4 193.2,851.4 193.9,850.1 194.4,848.5" fill="#a0a0a6" stroke="#4a484e" stroke-width="0.7" stroke-linejoin="round" />
<polygon points="175.3,842.6 175.5,840.4 176.1,838.4 177,836.7 178.2,835.4 179.7,834.6 183.1,833.3 184.8,832.9 186.6,833.1 188.5,833.7 190.3,834.8 191.9,836.4 193.4,838.2 194.7,840.4 195.6,842.7 196.2,845.1 196.4,847.4 196.2,849.7 195.6,851.6 194.7,853.3 193.4,854.6 191.9,855.4 188.5,856.8 186.8,857.1 185,857 183.2,856.3 181.4,855.2 179.7,853.7 178.2,851.8 177,849.7 176.1,847.4 175.5,845" fill="url(#g19)" stroke="#4a484e" stroke-width="0.7" stroke-linejoin="round" />
<polygon points="192.9,848.8 192.7,846.4 192.2,844 191.2,841.7 190,839.6 188.5,837.7 186.8,836.2 185,835.1 183.2,834.4 181.4,834.3 179.7,834.6 178.2,835.4 177,836.7 176.1,838.4 175.5,840.4 175.3,842.6 175.5,845 176.1,847.4 177,849.7 178.2,851.8 179.7,853.7 181.4,855.2 183.2,856.3 185,857 186.8,857.1 188.5,856.8 190,855.9 191.2,854.7 192.2,853 192.7,851" fill="#a0a0a6" stroke="#4a484e" stroke-width="0.7" stroke-linejoin="round" />
<polygon points="156.5,851.3 156.7,849.5 157.1,847.9 157.9,846.6 158.8,845.6 160,845 180.6,836.9 182,836.7 183.4,836.8 184.8,837.3 186.3,838.2 187.6,839.4 188.8,840.9 189.7,842.5 190.5,844.4 190.9,846.3 191.1,848.1 190.9,849.9 190.5,851.5 189.7,852.8 188.8,853.8 187.6,854.4 167,862.5 165.7,862.7 164.2,862.6 162.8,862.1 161.3,861.2 160,860 158.8,858.5 157.9,856.9 157.1,855 156.7,853.1" fill="url(#g20)" stroke="#4a484e" stroke-width="0.7" stroke-linejoin="round" />
<polygon points="170.5,856.1 170.3,854.3 169.9,852.4 169.1,850.6 168.2,848.9 167,847.4 165.7,846.2 164.2,845.3 162.8,844.8 161.3,844.7 160,845 158.8,845.6 157.9,846.6 157.1,847.9 156.7,849.5 156.5,851.3 156.7,853.1 157.1,855 157.9,856.8 158.8,858.5 160,860 161.3,861.2 162.8,862.1 164.2,862.6 165.7,862.7 167,862.4 168.2,861.8 169.1,860.8 169.9,859.5 170.3,857.9" fill="#8a8890" stroke="#4a484e" stroke-width="0.7" stroke-linejoin="round" />
<polygon points="167,854.9 166.9,854 166.7,853 166.3,852.1 165.8,851.3 165.2,850.5 164.6,849.9 163.9,849.5 163.1,849.2 162.4,849.2 161.8,849.3 161.2,849.7 160.7,850.2 160.3,850.8 160.1,851.6 160,852.5 160.1,853.4 160.3,854.4 160.7,855.3 161.2,856.1 161.8,856.9 162.4,857.5 163.1,857.9 163.9,858.2 164.6,858.2 165.2,858.1 165.8,857.7 166.3,857.2 166.7,856.6 166.9,855.8" fill="#4a4650" />
<polygon points="224.8,846.3 225.9,843.8 228.3,841.4 231.9,839.2 236.7,837.4 242.4,835.9 248.8,834.9 255.5,834.4 262.3,834.4 268.9,834.9 275,836 280.3,837.5 284.6,839.3 287.8,841.5 289.6,843.9 290,846.4 290,850.8 288.9,853.3 286.5,855.6 282.9,857.8 278.1,859.7 272.4,861.1 266,862.2 259.3,862.7 252.5,862.7 245.9,862.1 239.8,861.1 234.5,859.6 230.2,857.7 227,855.5 225.2,853.1 224.8,850.6" fill="url(#g21)" stroke="#760a10" stroke-width="0.7" stroke-linejoin="round" />
<polygon points="224.8,846.3 243.7,784 244.2,782.9 245.2,781.9 246.7,781 248.7,780.2 251.1,779.6 253.8,779.2 256.6,779 259.4,779 262.2,779.2 264.8,779.6 267,780.3 268.8,781 270.1,782 270.9,783 289.6,843.9 290,846.4 288.9,848.9 286.5,851.3 282.9,853.5 278.1,855.3 272.4,856.8 266,857.8 259.3,858.3 252.5,858.3 245.9,857.8 239.8,856.7 234.5,855.2 230.2,853.4 227,851.2 225.2,848.8" fill="url(#g22)" stroke="#760a10" stroke-width="0.7" stroke-linejoin="round" />
<polygon points="245.7,778.2 246,777.3 246.9,776.4 248.2,775.6 250,775 252,774.4 254.3,774.1 256.7,773.9 259.2,773.9 261.5,774.1 263.7,774.5 265.6,775 267.2,775.7 268.3,776.5 269,777.3 269.1,778.2 269.1,784 268.8,784.9 267.9,785.8 266.6,786.6 264.8,787.2 262.8,787.8 260.5,788.1 258.1,788.3 255.6,788.3 253.3,788.1 251.1,787.7 249.2,787.2 247.6,786.5 246.5,785.7 245.8,784.9 245.7,784" fill="url(#g23)" stroke="#760a10" stroke-width="0.7" stroke-linejoin="round" />
<polygon points="265.6,775 267.2,775.7 268.3,776.5 269,777.3 269.1,778.2 268.8,779.1 267.9,780 266.6,780.8 264.8,781.4 262.8,782 260.5,782.3 258.1,782.5 255.6,782.5 253.3,782.3 251.1,781.9 249.2,781.4 247.6,780.7 246.5,779.9 245.8,779.1 245.7,778.2 246,777.3 246.9,776.4 248.2,775.6 250,775 252,774.4 254.3,774.1 256.7,773.9 259.2,773.9 261.5,774.1 263.7,774.5" fill="#c81616" stroke="#760a10" stroke-width="0.7" stroke-linejoin="round" />
<polygon points="262.4,776.2 263.4,776.7 264.1,777.1 264.5,777.7 264.6,778.2 264.3,778.8 263.8,779.3 263,779.8 261.9,780.2 260.7,780.5 259.3,780.7 257.8,780.8 256.3,780.8 254.9,780.7 253.5,780.5 252.4,780.2 251.4,779.7 250.7,779.3 250.3,778.7 250.2,778.2 250.5,777.6 251,777.1 251.8,776.6 252.9,776.2 254.1,775.9 255.5,775.7 257,775.6 258.5,775.6 259.9,775.7 261.3,775.9" fill="#a80e0e" />
<ellipse cx="859.7" cy="50.2" rx="28.5" ry="19" transform="rotate(-22 859.7 50.2)" fill="#1c1a1a" stroke="#0a0a0a" stroke-width="1"/>
<ellipse cx="859.7" cy="50.2" rx="19" ry="11" transform="rotate(-22 859.7 50.2)" fill="none" stroke="#3a3838" stroke-width="1.3"/>
<path d="M847.7,54.2 L869.7,45.2 M853.7,44.2 L857.7,58.2 M863.7,41.2 L866.7,54.2" stroke="#363434" stroke-width="1.2" fill="none"/>
<path d="M859,124 L859,116 Q861,112 869,112 Q877,112 879,116 L879,122 L893,121 Q899,124 898.5,134 L898.5,146 Q896,151 888,150 L860,152 L853,157 Q846,160 838,156 Q831,150 832,141 Q834,131 843,129 L851,124 Z" fill="#1e1c1c" stroke="#0a0a0a" stroke-width="0.8"/>
<path d="M866,127 L866,150 M873,126 L873,150 M858,130 L858,152" stroke="#3c3a3a" stroke-width="1.2" fill="none"/>
<ellipse cx="843" cy="143.5" rx="7" ry="9" fill="none" stroke="#3a3838" stroke-width="1.2"/>
<ellipse cx="889" cy="135" rx="5.5" ry="8" fill="none" stroke="#3a3838" stroke-width="1.2"/>
<polygon points="832.5,217.6 832.7,215.8 833.1,214.2 833.9,212.9 834.8,211.9 836,211.2 927.6,175.7 929,175.4 930.4,175.5 931.8,176 933.2,176.9 934.6,178.1 935.8,179.6 936.7,181.2 937.5,183.1 937.9,185 938.1,186.8 937.9,188.6 937.5,190.2 936.7,191.5 935.8,192.5 934.6,193.2 843,228.8 841.6,229 840.2,228.9 838.8,228.4 837.4,227.5 836,226.3 834.8,224.8 833.9,223.2 833.1,221.3 832.7,219.4" fill="url(#g24)" stroke="#030303" stroke-width="0.6" stroke-linejoin="round" />
<line x1="837.9" y1="215.8" x2="929.5" y2="180.2" stroke="#3c3c3c" stroke-width="1.4" stroke-linecap="butt" />
<line x1="839" y1="218.7" x2="930.6" y2="183.1" stroke="#030303" stroke-width="1.6" stroke-linecap="butt" />
<line x1="840.5" y1="222.5" x2="932.1" y2="186.9" stroke="#030303" stroke-width="1.6" stroke-linecap="butt" />
<line x1="839.7" y1="220.4" x2="931.3" y2="184.8" stroke="#3c3c3c" stroke-width="1.0" stroke-linecap="butt" />
<polygon points="846.5,222.4 846.3,220.6 845.9,218.7 845.1,216.9 844.2,215.2 843,213.7 841.7,212.5 840.2,211.6 838.8,211.1 837.3,211 836,211.3 834.8,211.9 833.9,212.9 833.1,214.2 832.7,215.8 832.5,217.6 832.7,219.4 833.1,221.3 833.9,223.1 834.8,224.8 836,226.3 837.3,227.5 838.8,228.4 840.2,228.9 841.7,229 843,228.7 844.2,228.1 845.1,227.1 845.9,225.8 846.3,224.2" fill="#1c1c1c" stroke="#030303" stroke-width="0.8" stroke-linejoin="round" />
<line x1="833.2" y1="217.8" x2="845.8" y2="222.2" stroke="#030303" stroke-width="2.0" stroke-linecap="butt" />
<line x1="839.5" y1="227.8" x2="839.5" y2="212.2" stroke="#030303" stroke-width="2.0" stroke-linecap="butt" />
<polygon points="832.5,284.6 832.7,282.8 833.1,281.2 833.9,279.9 834.8,278.9 836,278.2 973.4,224.8 974.8,224.6 976.2,224.7 977.6,225.2 979,226.1 980.4,227.3 981.6,228.8 982.5,230.4 983.3,232.3 983.7,234.2 983.9,236 983.7,237.8 983.3,239.4 982.5,240.7 981.6,241.7 980.4,242.3 843,295.8 841.6,296 840.2,295.9 838.8,295.4 837.4,294.5 836,293.3 834.8,291.8 833.9,290.1 833.1,288.3 832.7,286.4" fill="url(#g25)" stroke="#030303" stroke-width="0.6" stroke-linejoin="round" />
<line x1="837.9" y1="282.8" x2="975.3" y2="229.4" stroke="#3c3c3c" stroke-width="1.4" stroke-linecap="butt" />
<line x1="839" y1="285.7" x2="976.4" y2="232.3" stroke="#030303" stroke-width="1.6" stroke-linecap="butt" />
<line x1="840.5" y1="289.5" x2="977.9" y2="236.1" stroke="#030303" stroke-width="1.6" stroke-linecap="butt" />
<line x1="839.7" y1="287.4" x2="977.1" y2="234" stroke="#3c3c3c" stroke-width="1.0" stroke-linecap="butt" />
<polygon points="846.5,289.4 846.3,287.6 845.9,285.7 845.1,283.9 844.2,282.2 843,280.7 841.7,279.5 840.2,278.6 838.8,278.1 837.3,278 836,278.3 834.8,278.9 833.9,279.9 833.1,281.2 832.7,282.8 832.5,284.6 832.7,286.4 833.1,288.3 833.9,290.1 834.8,291.8 836,293.3 837.3,294.5 838.8,295.4 840.2,295.9 841.7,296 843,295.7 844.2,295.1 845.1,294.1 845.9,292.8 846.3,291.2" fill="#1c1c1c" stroke="#030303" stroke-width="0.8" stroke-linejoin="round" />
<line x1="833.2" y1="284.8" x2="845.8" y2="289.2" stroke="#030303" stroke-width="2.0" stroke-linecap="butt" />
<line x1="839.5" y1="294.8" x2="839.5" y2="279.2" stroke="#030303" stroke-width="2.0" stroke-linecap="butt" />
<ellipse cx="860" cy="440.3" rx="28.5" ry="19.5" transform="rotate(-22 860 440.3)" fill="#1c1a1a" stroke="#0a0a0a" stroke-width="1"/>
<ellipse cx="860" cy="440.3" rx="19" ry="11" transform="rotate(-22 860 440.3)" fill="none" stroke="#3a3838" stroke-width="1.3"/>
<path d="M848,444.3 L870,435.3 M854,434.3 L858,448.3 M864,431.3 L867,444.3" stroke="#363434" stroke-width="1.2" fill="none"/>
<polygon points="831.4,519.8 831.7,516.7 832.5,514 833.7,511.7 835.4,510 837.5,508.8 883.3,491 885.6,490.6 888,490.8 890.6,491.6 893,493.2 895.3,495.2 897.4,497.8 899.1,500.7 900.3,503.9 901.1,507.2 901.4,510.4 901.1,513.5 900.3,516.2 899.1,518.5 897.4,520.2 895.3,521.4 849.5,539.2 847.2,539.6 844.8,539.4 842.2,538.6 839.8,537 837.5,535 835.4,532.4 833.7,529.5 832.5,526.3 831.7,523" fill="url(#g26)" stroke="#141452" stroke-width="0.7" stroke-linejoin="round" />
<polygon points="855.6,528.2 855.3,525 854.5,521.7 853.3,518.5 851.6,515.6 849.5,513 847.2,511 844.8,509.4 842.2,508.6 839.8,508.4 837.5,508.8 835.4,510 833.7,511.7 832.5,514 831.7,516.7 831.4,519.8 831.7,523 832.5,526.3 833.7,529.5 835.4,532.4 837.5,535 839.8,537 842.2,538.6 844.8,539.4 847.2,539.6 849.5,539.2 851.6,538 853.3,536.3 854.5,534 855.3,531.3" fill="#2c2c96" stroke="#141452" stroke-width="0.7" stroke-linejoin="round" />
<polygon points="850.7,526.5 850.6,524.6 850.1,522.6 849.4,520.7 848.3,519 847.1,517.4 845.7,516.2 844.3,515.3 842.7,514.7 841.3,514.6 839.9,514.9 838.7,515.6 837.6,516.6 836.9,518 836.4,519.6 836.3,521.5 836.4,523.4 836.9,525.4 837.6,527.3 838.7,529 839.9,530.6 841.3,531.8 842.7,532.7 844.3,533.3 845.7,533.4 847.1,533.1 848.3,532.4 849.4,531.4 850.1,530 850.6,528.4" fill="#1c1c70" />
<polygon points="850.5,526.4 850.3,524.6 849.9,522.7 849.1,520.9 848.2,519.2 847,517.7 845.7,516.5 844.2,515.6 842.8,515.1 841.3,515 840,515.3 838.8,515.9 837.9,516.9 837.1,518.2 836.7,519.8 836.5,521.6 836.7,523.4 837.1,525.3 837.9,527.1 838.8,528.8 840,530.3 841.3,531.5 842.8,532.4 844.2,532.9 845.7,533 847,532.7 848.2,532.1 849.1,531.1 849.9,529.8 850.3,528.2" fill="#1c1c70" stroke="#141452" stroke-width="0.6" stroke-linejoin="round" />
<polygon points="831.7,828.3 854.9,836.4 854.9,848 831.7,839.9" fill="#c2a626" stroke="#7a6818" stroke-width="1.0" stroke-linejoin="round" />
<polygon points="854.9,836.4 900.7,818.6 900.7,830.2 854.9,848" fill="#d4ba2a" stroke="#7a6818" stroke-width="1.0" stroke-linejoin="round" />
<polygon points="831.7,828.3 877.5,810.5 900.7,818.6 854.9,836.4" fill="#f2e222" stroke="#7a6818" stroke-width="1.0" stroke-linejoin="round" />
<polygon points="844.7,824.1 845,823.3 845.7,822.6 846.9,821.9 848.3,821.3 850.1,820.9 852.1,820.6 854.2,820.4 856.3,820.4 858.3,820.6 860.2,820.9 861.9,821.4 863.2,822 864.2,822.6 864.7,823.4 864.8,824.1 864.8,827.9 864.5,828.7 863.8,829.4 862.6,830.1 861.2,830.7 859.4,831.1 857.4,831.5 855.3,831.6 853.2,831.6 851.2,831.4 849.3,831.1 847.6,830.7 846.3,830.1 845.3,829.4 844.8,828.7 844.7,827.9" fill="#c8b02a" stroke="#6e5e18" stroke-width="1.0" stroke-linejoin="round" />
<polygon points="861.8,821.4 863.2,822 864.2,822.6 864.7,823.4 864.8,824.1 864.5,824.9 863.8,825.7 862.6,826.3 861.2,826.9 859.4,827.4 857.4,827.7 855.3,827.8 853.2,827.8 851.2,827.7 849.3,827.4 847.7,826.9 846.3,826.3 845.3,825.6 844.8,824.9 844.7,824.1 845,823.3 845.7,822.6 846.9,821.9 848.3,821.3 850.1,820.9 852.1,820.6 854.2,820.4 856.3,820.4 858.3,820.6 860.2,820.9" fill="#ecdc26" stroke="#6e5e18" stroke-width="1.0" stroke-linejoin="round" />
<polygon points="859.6,822.3 860.5,822.7 861.1,823.1 861.5,823.6 861.6,824.1 861.4,824.7 860.9,825.2 860.1,825.6 859.1,826 857.9,826.3 856.6,826.5 855.2,826.6 853.7,826.6 852.3,826.5 851.1,826.3 849.9,826 849,825.6 848.4,825.1 848,824.6 847.9,824.1 848.1,823.6 848.6,823.1 849.4,822.6 850.4,822.2 851.6,821.9 852.9,821.7 854.3,821.6 855.8,821.6 857.2,821.7 858.4,821.9" fill="#d8c82a" stroke="#8a7a20" stroke-width="0.8" stroke-linejoin="round" />
<polygon points="867.6,815.2 867.9,814.4 868.6,813.7 869.8,813 871.2,812.4 873,812 875,811.7 877.1,811.5 879.2,811.5 881.2,811.7 883.1,812 884.8,812.5 886.1,813 887.1,813.7 887.6,814.5 887.7,815.2 887.7,819 887.4,819.8 886.7,820.5 885.5,821.2 884.1,821.8 882.3,822.2 880.3,822.5 878.2,822.7 876.1,822.7 874.1,822.5 872.2,822.2 870.5,821.8 869.2,821.2 868.2,820.5 867.7,819.8 867.6,819" fill="#c8b02a" stroke="#6e5e18" stroke-width="1.0" stroke-linejoin="round" />
<polygon points="884.7,812.5 886.1,813.1 887.1,813.7 887.6,814.5 887.7,815.2 887.4,816 886.7,816.8 885.5,817.4 884.1,818 882.3,818.5 880.3,818.8 878.2,818.9 876.1,818.9 874.1,818.8 872.2,818.5 870.6,818 869.2,817.4 868.2,816.7 867.7,816 867.6,815.2 867.9,814.4 868.6,813.7 869.8,813 871.2,812.4 873,812 875,811.7 877.1,811.5 879.2,811.5 881.2,811.7 883.1,812" fill="#ecdc26" stroke="#6e5e18" stroke-width="1.0" stroke-linejoin="round" />
<polygon points="882.5,813.4 883.4,813.8 884,814.2 884.4,814.7 884.5,815.2 884.3,815.8 883.8,816.3 883,816.7 882,817.1 880.8,817.4 879.5,817.6 878.1,817.7 876.6,817.7 875.2,817.6 874,817.4 872.8,817.1 871.9,816.7 871.3,816.2 870.9,815.7 870.8,815.2 871,814.7 871.5,814.2 872.3,813.7 873.3,813.3 874.5,813 875.8,812.8 877.2,812.7 878.7,812.7 880.1,812.8 881.3,813" fill="#d8c82a" stroke="#8a7a20" stroke-width="0.8" stroke-linejoin="round" />
<polygon points="831.7,904.1 854.9,912.2 854.9,947 831.7,938.9" fill="#c2a626" stroke="#7a6818" stroke-width="1.0" stroke-linejoin="round" />
<polygon points="854.9,912.2 900.7,894.4 900.7,929.2 854.9,947" fill="#d4ba2a" stroke="#7a6818" stroke-width="1.0" stroke-linejoin="round" />
<polygon points="831.7,904.1 877.5,886.3 900.7,894.4 854.9,912.2" fill="#f2e222" stroke="#7a6818" stroke-width="1.0" stroke-linejoin="round" />
<polygon points="883.8,918.4 883.6,916.9 883.2,915.5 882.6,914.4 881.8,913.5 880.8,913 879.6,912.8 878.4,913 877.2,913.4 876,914.2 874.8,915.3 873.8,916.6 873,918.1 872.4,919.7 872,921.4 871.8,923 872,924.5 872.4,925.9 873,927 873.8,927.9 874.8,928.4 876,928.6 877.2,928.4 878.4,928 879.6,927.2 880.8,926.1 881.8,924.8 882.6,923.3 883.2,921.7 883.6,920" fill="#c8ae28" stroke="#7a6818" stroke-width="0.8" stroke-linejoin="round" />
<polygon points="881.5,920.1 881.4,919.4 881.2,918.7 880.9,918.2 880.5,917.7 880,917.5 879.4,917.4 878.8,917.4 878.2,917.7 877.6,918.1 877,918.6 876.5,919.3 876.1,920 875.8,920.8 875.6,921.7 875.5,922.5 875.6,923.2 875.8,923.9 876.1,924.5 876.5,924.9 877,925.1 877.6,925.2 878.2,925.2 878.8,924.9 879.4,924.5 880,924 880.5,923.3 880.9,922.6 881.2,921.8 881.4,921" fill="#ecd630" />
<line x1="873.2" y1="922.5" x2="882.4" y2="918.9" stroke="#9a8420" stroke-width="1.6" stroke-linecap="butt" />
<line x1="877.8" y1="926.5" x2="877.8" y2="914.9" stroke="#9a8420" stroke-width="1.6" stroke-linecap="butt" />
<polygon points="844.7,899.9 845,899.1 845.7,898.4 846.9,897.7 848.3,897.1 850.1,896.7 852.1,896.4 854.2,896.2 856.3,896.2 858.3,896.4 860.2,896.7 861.9,897.2 863.2,897.8 864.2,898.4 864.7,899.2 864.8,900 864.8,903.7 864.5,904.5 863.8,905.2 862.6,905.9 861.2,906.5 859.4,906.9 857.4,907.2 855.3,907.4 853.2,907.4 851.2,907.2 849.3,906.9 847.6,906.5 846.3,905.9 845.3,905.2 844.8,904.5 844.7,903.7" fill="#c8b02a" stroke="#6e5e18" stroke-width="1.0" stroke-linejoin="round" />
<polygon points="861.8,897.2 863.2,897.8 864.2,898.4 864.7,899.2 864.8,899.9 864.5,900.7 863.8,901.5 862.6,902.1 861.2,902.7 859.4,903.2 857.4,903.5 855.3,903.6 853.2,903.6 851.2,903.5 849.3,903.2 847.7,902.7 846.3,902.1 845.3,901.4 844.8,900.7 844.7,899.9 845,899.1 845.7,898.4 846.9,897.7 848.3,897.1 850.1,896.7 852.1,896.4 854.2,896.2 856.3,896.2 858.3,896.4 860.2,896.7" fill="#ecdc26" stroke="#6e5e18" stroke-width="1.0" stroke-linejoin="round" />
<polygon points="859.6,898.1 860.5,898.5 861.1,898.9 861.5,899.4 861.6,899.9 861.4,900.5 860.9,901 860.1,901.4 859.1,901.8 857.9,902.1 856.6,902.3 855.2,902.4 853.7,902.4 852.3,902.3 851.1,902.1 849.9,901.8 849,901.4 848.4,900.9 848,900.4 847.9,899.9 848.1,899.4 848.6,898.9 849.4,898.4 850.4,898 851.6,897.7 852.9,897.5 854.3,897.4 855.8,897.4 857.2,897.5 858.4,897.7" fill="#d8c82a" stroke="#8a7a20" stroke-width="0.8" stroke-linejoin="round" />
<polygon points="867.6,891 867.9,890.2 868.6,889.5 869.8,888.8 871.2,888.2 873,887.8 875,887.5 877.1,887.3 879.2,887.3 881.2,887.5 883.1,887.8 884.8,888.3 886.1,888.9 887.1,889.5 887.6,890.3 887.7,891 887.7,894.8 887.4,895.6 886.7,896.3 885.5,897 884.1,897.6 882.3,898 880.3,898.4 878.2,898.5 876.1,898.5 874.1,898.3 872.2,898 870.5,897.6 869.2,897 868.2,896.3 867.7,895.6 867.6,894.8" fill="#c8b02a" stroke="#6e5e18" stroke-width="1.0" stroke-linejoin="round" />
<polygon points="884.7,888.3 886.1,888.9 887.1,889.5 887.6,890.3 887.7,891 887.4,891.8 886.7,892.6 885.5,893.2 884.1,893.8 882.3,894.3 880.3,894.6 878.2,894.7 876.1,894.7 874.1,894.6 872.2,894.3 870.6,893.8 869.2,893.2 868.2,892.5 867.7,891.8 867.6,891 867.9,890.2 868.6,889.5 869.8,888.8 871.2,888.2 873,887.8 875,887.5 877.1,887.3 879.2,887.3 881.2,887.5 883.1,887.8" fill="#ecdc26" stroke="#6e5e18" stroke-width="1.0" stroke-linejoin="round" />
<polygon points="882.5,889.2 883.4,889.6 884,890 884.4,890.5 884.5,891 884.3,891.6 883.8,892.1 883,892.5 882,892.9 880.8,893.2 879.5,893.4 878.1,893.5 876.6,893.5 875.2,893.4 874,893.2 872.8,892.9 871.9,892.5 871.3,892 870.9,891.5 870.8,891 871,890.5 871.5,890 872.3,889.5 873.3,889.1 874.5,888.8 875.8,888.6 877.2,888.5 878.7,888.5 880.1,888.6 881.3,888.8" fill="#d8c82a" stroke="#8a7a20" stroke-width="0.8" stroke-linejoin="round" />
<polygon points="831.7,1007.6 831.9,1005.8 832.3,1004.2 833.1,1002.9 834,1001.9 835.2,1001.2 926.8,965.6 928.1,965.4 929.6,965.5 931,966 932.5,966.9 933.8,968.1 935,969.6 935.9,971.2 936.7,973.1 937.1,975 937.3,976.8 937.1,978.6 936.7,980.2 935.9,981.5 935,982.5 933.8,983.1 842.2,1018.8 840.9,1019 839.4,1018.9 838,1018.4 836.5,1017.5 835.2,1016.3 834,1014.8 833.1,1013.1 832.3,1011.3 831.9,1009.4" fill="url(#g27)" stroke="#030303" stroke-width="0.6" stroke-linejoin="round" />
<line x1="837.1" y1="1005.8" x2="928.7" y2="970.2" stroke="#3c3c3c" stroke-width="1.4" stroke-linecap="butt" />
<line x1="838.2" y1="1008.7" x2="929.8" y2="973.1" stroke="#030303" stroke-width="1.6" stroke-linecap="butt" />
<line x1="839.7" y1="1012.5" x2="931.3" y2="976.9" stroke="#030303" stroke-width="1.6" stroke-linecap="butt" />
<line x1="838.9" y1="1010.4" x2="930.5" y2="974.8" stroke="#3c3c3c" stroke-width="1.0" stroke-linecap="butt" />
<polygon points="845.7,1012.4 845.5,1010.6 845.1,1008.7 844.3,1006.9 843.4,1005.2 842.2,1003.7 840.9,1002.5 839.4,1001.6 838,1001.1 836.5,1001 835.2,1001.3 834,1001.9 833.1,1002.9 832.3,1004.2 831.9,1005.8 831.7,1007.6 831.9,1009.4 832.3,1011.3 833.1,1013.1 834,1014.8 835.2,1016.3 836.5,1017.5 838,1018.4 839.4,1018.9 840.9,1019 842.2,1018.7 843.4,1018.1 844.3,1017.1 845.1,1015.8 845.5,1014.2" fill="#1c1c1c" stroke="#030303" stroke-width="0.8" stroke-linejoin="round" />
<line x1="832.4" y1="1007.8" x2="845" y2="1012.2" stroke="#030303" stroke-width="2.0" stroke-linecap="butt" />
<line x1="838.7" y1="1017.8" x2="838.7" y2="1002.2" stroke="#030303" stroke-width="2.0" stroke-linecap="butt" />
<polygon points="831.7,1072.8 854.9,1080.9 854.9,1115.7 831.7,1107.6" fill="#c2a626" stroke="#7a6818" stroke-width="1.0" stroke-linejoin="round" />
<polygon points="854.9,1080.9 992.3,1027.5 992.3,1062.3 854.9,1115.7" fill="#d4ba2a" stroke="#7a6818" stroke-width="1.0" stroke-linejoin="round" />
<polygon points="831.7,1072.8 969.1,1019.4 992.3,1027.5 854.9,1080.9" fill="#f2e222" stroke="#7a6818" stroke-width="1.0" stroke-linejoin="round" />
<polygon points="886.5,1086 886.3,1083.8 885.7,1081.8 884.8,1080.2 883.6,1078.9 882.2,1078.2 880.5,1077.9 878.7,1078.1 876.9,1078.8 875.1,1080 873.4,1081.5 872,1083.5 870.8,1085.7 869.9,1088 869.3,1090.4 869.1,1092.8 869.3,1095 869.9,1097 870.8,1098.6 872,1099.9 873.4,1100.6 875.1,1100.9 876.9,1100.7 878.7,1100 880.5,1098.8 882.2,1097.3 883.6,1095.3 884.8,1093.1 885.7,1090.8 886.3,1088.4" fill="#d4ba2a" stroke="#7a6818" stroke-width="0.8" stroke-linejoin="round" />
<polygon points="884,1087 883.8,1085.4 883.4,1084 882.8,1082.9 881.9,1082 880.9,1081.4 879.7,1081.2 878.4,1081.4 877.2,1081.9 875.9,1082.7 874.7,1083.8 873.7,1085.2 872.8,1086.7 872.2,1088.4 871.8,1090.1 871.6,1091.8 871.8,1093.4 872.2,1094.8 872.8,1095.9 873.7,1096.8 874.7,1097.4 875.9,1097.6 877.2,1097.4 878.4,1096.9 879.7,1096.1 880.9,1095 881.9,1093.6 882.8,1092.1 883.4,1090.4 883.8,1088.7" fill="#a08a20" stroke="#7a6818" stroke-width="0.7" stroke-linejoin="round" />
<polygon points="883.5,1088.6 883.4,1087.5 883.1,1086.4 882.7,1085.6 882,1084.9 881.2,1084.5 880.4,1084.3 879.4,1084.5 878.5,1084.8 877.5,1085.4 876.7,1086.3 875.9,1087.3 875.2,1088.4 874.8,1089.7 874.5,1090.9 874.4,1092.2 874.5,1093.4 874.8,1094.4 875.2,1095.3 875.9,1095.9 876.7,1096.3 877.5,1096.5 878.5,1096.4 879.4,1096 880.4,1095.4 881.2,1094.5 882,1093.5 882.7,1092.4 883.1,1091.1 883.4,1089.9" fill="#f2e030" />
<polygon points="909.4,1077.1 909.2,1074.9 908.6,1072.9 907.7,1071.3 906.5,1070 905.1,1069.3 903.4,1069 901.6,1069.2 899.8,1069.9 898,1071.1 896.3,1072.6 894.9,1074.6 893.7,1076.8 892.8,1079.1 892.2,1081.5 892,1083.9 892.2,1086.1 892.8,1088.1 893.7,1089.7 894.9,1091 896.3,1091.7 898,1092 899.8,1091.8 901.6,1091.1 903.4,1089.9 905.1,1088.4 906.5,1086.4 907.7,1084.2 908.6,1081.9 909.2,1079.5" fill="#d4ba2a" stroke="#7a6818" stroke-width="0.8" stroke-linejoin="round" />
<polygon points="906.9,1078.1 906.7,1076.5 906.3,1075.1 905.7,1074 904.8,1073.1 903.8,1072.5 902.6,1072.3 901.3,1072.5 900.1,1073 898.8,1073.8 897.6,1074.9 896.6,1076.3 895.7,1077.8 895.1,1079.5 894.7,1081.2 894.5,1082.9 894.7,1084.5 895.1,1085.9 895.7,1087 896.6,1087.9 897.6,1088.5 898.8,1088.7 900.1,1088.5 901.3,1088 902.6,1087.2 903.8,1086.1 904.8,1084.7 905.7,1083.2 906.3,1081.5 906.7,1079.8" fill="#a08a20" stroke="#7a6818" stroke-width="0.7" stroke-linejoin="round" />
<polygon points="906.4,1079.7 906.3,1078.6 906,1077.5 905.6,1076.7 904.9,1076 904.1,1075.6 903.3,1075.4 902.3,1075.6 901.4,1075.9 900.4,1076.5 899.6,1077.4 898.8,1078.4 898.1,1079.5 897.7,1080.8 897.4,1082 897.3,1083.3 897.4,1084.5 897.7,1085.5 898.1,1086.4 898.8,1087 899.6,1087.4 900.4,1087.6 901.4,1087.5 902.3,1087.1 903.3,1086.5 904.1,1085.6 904.9,1084.6 905.6,1083.5 906,1082.2 906.3,1081" fill="#f2e030" />
<polygon points="932.3,1068.2 932.1,1066 931.5,1064 930.6,1062.4 929.4,1061.1 928,1060.4 926.3,1060.1 924.5,1060.3 922.7,1061 920.9,1062.2 919.2,1063.7 917.8,1065.7 916.6,1067.9 915.7,1070.2 915.1,1072.6 914.9,1075 915.1,1077.2 915.7,1079.2 916.6,1080.8 917.8,1082.1 919.2,1082.8 920.9,1083.1 922.7,1082.9 924.5,1082.2 926.3,1081 928,1079.5 929.4,1077.5 930.6,1075.3 931.5,1073 932.1,1070.6" fill="#d4ba2a" stroke="#7a6818" stroke-width="0.8" stroke-linejoin="round" />
<polygon points="929.8,1069.2 929.6,1067.6 929.2,1066.2 928.6,1065.1 927.7,1064.2 926.7,1063.6 925.5,1063.4 924.2,1063.6 923,1064.1 921.7,1064.9 920.5,1066 919.5,1067.4 918.6,1068.9 918,1070.6 917.6,1072.3 917.4,1074 917.6,1075.6 918,1077 918.6,1078.1 919.5,1079 920.5,1079.6 921.7,1079.8 923,1079.6 924.2,1079.1 925.5,1078.3 926.7,1077.2 927.7,1075.8 928.6,1074.3 929.2,1072.6 929.6,1070.9" fill="#a08a20" stroke="#7a6818" stroke-width="0.7" stroke-linejoin="round" />
<polygon points="929.3,1070.8 929.2,1069.7 928.9,1068.6 928.5,1067.8 927.8,1067.1 927,1066.7 926.2,1066.5 925.2,1066.7 924.3,1067 923.3,1067.6 922.5,1068.5 921.7,1069.5 921,1070.6 920.6,1071.9 920.3,1073.1 920.2,1074.4 920.3,1075.6 920.6,1076.6 921,1077.5 921.7,1078.1 922.5,1078.5 923.3,1078.7 924.3,1078.6 925.2,1078.2 926.2,1077.6 927,1076.7 927.8,1075.7 928.5,1074.6 928.9,1073.3 929.2,1072.1" fill="#f2e030" />
<polygon points="955.2,1059.3 955,1057.1 954.4,1055.1 953.5,1053.5 952.3,1052.2 950.9,1051.5 949.2,1051.2 947.4,1051.4 945.6,1052.1 943.8,1053.3 942.1,1054.8 940.7,1056.8 939.5,1059 938.6,1061.3 938,1063.7 937.8,1066.1 938,1068.3 938.6,1070.3 939.5,1071.9 940.7,1073.2 942.1,1073.9 943.8,1074.2 945.6,1074 947.4,1073.3 949.2,1072.1 950.9,1070.6 952.3,1068.6 953.5,1066.4 954.4,1064.1 955,1061.7" fill="#d4ba2a" stroke="#7a6818" stroke-width="0.8" stroke-linejoin="round" />
<polygon points="952.7,1060.3 952.5,1058.7 952.1,1057.3 951.5,1056.2 950.6,1055.3 949.6,1054.7 948.4,1054.5 947.1,1054.7 945.9,1055.2 944.6,1056 943.4,1057.1 942.4,1058.5 941.5,1060 940.9,1061.7 940.5,1063.4 940.3,1065.1 940.5,1066.7 940.9,1068.1 941.5,1069.2 942.4,1070.1 943.4,1070.7 944.6,1070.9 945.9,1070.7 947.1,1070.2 948.4,1069.4 949.6,1068.3 950.6,1066.9 951.5,1065.4 952.1,1063.7 952.5,1062" fill="#a08a20" stroke="#7a6818" stroke-width="0.7" stroke-linejoin="round" />
<polygon points="952.2,1061.9 952.1,1060.8 951.8,1059.7 951.4,1058.9 950.7,1058.2 949.9,1057.8 949.1,1057.6 948.1,1057.8 947.2,1058.1 946.2,1058.7 945.4,1059.6 944.6,1060.6 943.9,1061.7 943.5,1063 943.2,1064.2 943.1,1065.5 943.2,1066.7 943.5,1067.7 943.9,1068.6 944.6,1069.2 945.4,1069.6 946.2,1069.8 947.2,1069.7 948.1,1069.3 949.1,1068.7 949.9,1067.8 950.7,1066.8 951.4,1065.7 951.8,1064.4 952.1,1063.2" fill="#f2e030" />
<polygon points="978.1,1050.4 977.9,1048.2 977.3,1046.2 976.4,1044.6 975.2,1043.3 973.8,1042.6 972.1,1042.3 970.3,1042.5 968.5,1043.2 966.7,1044.4 965,1045.9 963.6,1047.9 962.4,1050.1 961.5,1052.4 960.9,1054.8 960.7,1057.2 960.9,1059.4 961.5,1061.4 962.4,1063 963.6,1064.3 965,1065 966.7,1065.3 968.5,1065.1 970.3,1064.4 972.1,1063.2 973.8,1061.7 975.2,1059.7 976.4,1057.5 977.3,1055.2 977.9,1052.8" fill="#d4ba2a" stroke="#7a6818" stroke-width="0.8" stroke-linejoin="round" />
<polygon points="975.6,1051.4 975.4,1049.8 975,1048.4 974.4,1047.3 973.5,1046.4 972.5,1045.8 971.3,1045.6 970,1045.8 968.8,1046.3 967.5,1047.1 966.3,1048.2 965.3,1049.6 964.4,1051.1 963.8,1052.8 963.4,1054.5 963.2,1056.2 963.4,1057.8 963.8,1059.2 964.4,1060.3 965.3,1061.2 966.3,1061.8 967.5,1062 968.8,1061.8 970,1061.3 971.3,1060.5 972.5,1059.4 973.5,1058 974.4,1056.5 975,1054.8 975.4,1053.1" fill="#a08a20" stroke="#7a6818" stroke-width="0.7" stroke-linejoin="round" />
<polygon points="975.1,1053 975,1051.9 974.7,1050.8 974.3,1050 973.6,1049.3 972.8,1048.9 972,1048.7 971,1048.9 970.1,1049.2 969.1,1049.8 968.3,1050.7 967.5,1051.7 966.8,1052.8 966.4,1054.1 966.1,1055.3 966,1056.6 966.1,1057.8 966.4,1058.8 966.8,1059.7 967.5,1060.3 968.3,1060.7 969.1,1060.9 970.1,1060.8 971,1060.4 972,1059.8 972.8,1058.9 973.6,1057.9 974.3,1056.8 974.7,1055.5 975,1054.3" fill="#f2e030" />
<polygon points="844.7,1068.6 845,1067.8 845.7,1067.1 846.9,1066.4 848.3,1065.8 850.1,1065.4 852.1,1065.1 854.2,1064.9 856.3,1064.9 858.3,1065.1 860.2,1065.4 861.9,1065.9 863.2,1066.5 864.2,1067.1 864.7,1067.9 864.8,1068.7 864.8,1072.4 864.5,1073.2 863.8,1073.9 862.6,1074.6 861.2,1075.2 859.4,1075.6 857.4,1076 855.3,1076.1 853.2,1076.1 851.2,1075.9 849.3,1075.6 847.6,1075.2 846.3,1074.6 845.3,1073.9 844.8,1073.2 844.7,1072.4" fill="#c8b02a" stroke="#6e5e18" stroke-width="1.0" stroke-linejoin="round" />
<polygon points="861.8,1065.9 863.2,1066.5 864.2,1067.1 864.7,1067.9 864.8,1068.6 864.5,1069.4 863.8,1070.2 862.6,1070.8 861.2,1071.4 859.4,1071.9 857.4,1072.2 855.3,1072.3 853.2,1072.3 851.2,1072.2 849.3,1071.9 847.7,1071.4 846.3,1070.8 845.3,1070.1 844.8,1069.4 844.7,1068.6 845,1067.8 845.7,1067.1 846.9,1066.4 848.3,1065.8 850.1,1065.4 852.1,1065.1 854.2,1064.9 856.3,1064.9 858.3,1065.1 860.2,1065.4" fill="#ecdc26" stroke="#6e5e18" stroke-width="1.0" stroke-linejoin="round" />
<polygon points="859.6,1066.8 860.5,1067.2 861.1,1067.6 861.5,1068.1 861.6,1068.6 861.4,1069.2 860.9,1069.7 860.1,1070.1 859.1,1070.5 857.9,1070.8 856.6,1071 855.2,1071.1 853.7,1071.1 852.3,1071 851.1,1070.8 849.9,1070.5 849,1070.1 848.4,1069.6 848,1069.1 847.9,1068.6 848.1,1068.1 848.6,1067.6 849.4,1067.1 850.4,1066.7 851.6,1066.4 852.9,1066.2 854.3,1066.1 855.8,1066.1 857.2,1066.2 858.4,1066.4" fill="#d8c82a" stroke="#8a7a20" stroke-width="0.8" stroke-linejoin="round" />
<polygon points="867.6,1059.7 867.9,1058.9 868.6,1058.2 869.8,1057.5 871.2,1056.9 873,1056.5 875,1056.2 877.1,1056 879.2,1056 881.2,1056.2 883.1,1056.5 884.8,1057 886.1,1057.5 887.1,1058.2 887.6,1059 887.7,1059.8 887.7,1063.5 887.4,1064.3 886.7,1065 885.5,1065.7 884.1,1066.3 882.3,1066.7 880.3,1067 878.2,1067.2 876.1,1067.2 874.1,1067 872.2,1066.7 870.5,1066.3 869.2,1065.7 868.2,1065 867.7,1064.3 867.6,1063.5" fill="#c8b02a" stroke="#6e5e18" stroke-width="1.0" stroke-linejoin="round" />
<polygon points="884.7,1057 886.1,1057.6 887.1,1058.2 887.6,1059 887.7,1059.7 887.4,1060.5 886.7,1061.3 885.5,1061.9 884.1,1062.5 882.3,1063 880.3,1063.3 878.2,1063.4 876.1,1063.4 874.1,1063.3 872.2,1063 870.6,1062.5 869.2,1061.9 868.2,1061.2 867.7,1060.5 867.6,1059.7 867.9,1058.9 868.6,1058.2 869.8,1057.5 871.2,1056.9 873,1056.5 875,1056.2 877.1,1056 879.2,1056 881.2,1056.2 883.1,1056.5" fill="#ecdc26" stroke="#6e5e18" stroke-width="1.0" stroke-linejoin="round" />
<polygon points="882.5,1057.9 883.4,1058.3 884,1058.7 884.4,1059.2 884.5,1059.7 884.3,1060.3 883.8,1060.8 883,1061.2 882,1061.6 880.8,1061.9 879.5,1062.1 878.1,1062.2 876.6,1062.2 875.2,1062.1 874,1061.9 872.8,1061.6 871.9,1061.2 871.3,1060.7 870.9,1060.2 870.8,1059.7 871,1059.2 871.5,1058.7 872.3,1058.2 873.3,1057.8 874.5,1057.5 875.8,1057.3 877.2,1057.2 878.7,1057.2 880.1,1057.3 881.3,1057.5" fill="#d8c82a" stroke="#8a7a20" stroke-width="0.8" stroke-linejoin="round" />
<polygon points="890.5,1050.8 890.8,1050 891.5,1049.3 892.7,1048.6 894.1,1048 895.9,1047.6 897.9,1047.3 900,1047.1 902.1,1047.1 904.1,1047.3 906,1047.6 907.6,1048.1 909,1048.7 910,1049.3 910.5,1050.1 910.6,1050.8 910.6,1054.6 910.3,1055.4 909.6,1056.1 908.4,1056.8 907,1057.4 905.2,1057.8 903.2,1058.2 901.1,1058.3 899,1058.3 897,1058.1 895.1,1057.8 893.5,1057.4 892.1,1056.8 891.1,1056.1 890.6,1055.4 890.5,1054.6" fill="#c8b02a" stroke="#6e5e18" stroke-width="1.0" stroke-linejoin="round" />
<polygon points="907.6,1048.1 909,1048.7 910,1049.3 910.5,1050.1 910.6,1050.8 910.3,1051.6 909.6,1052.4 908.4,1053 907,1053.6 905.2,1054.1 903.2,1054.4 901.1,1054.5 899,1054.5 897,1054.4 895.1,1054.1 893.5,1053.6 892.1,1053 891.1,1052.3 890.6,1051.6 890.5,1050.8 890.8,1050 891.5,1049.3 892.7,1048.6 894.1,1048 895.9,1047.6 897.9,1047.3 900,1047.1 902.1,1047.1 904.1,1047.3 906,1047.6" fill="#ecdc26" stroke="#6e5e18" stroke-width="1.0" stroke-linejoin="round" />
<polygon points="905.4,1049 906.3,1049.4 906.9,1049.8 907.3,1050.3 907.4,1050.8 907.2,1051.4 906.7,1051.9 905.9,1052.3 904.9,1052.7 903.7,1053 902.4,1053.2 901,1053.3 899.5,1053.3 898.1,1053.2 896.9,1053 895.7,1052.7 894.8,1052.3 894.2,1051.8 893.8,1051.3 893.7,1050.8 893.9,1050.3 894.4,1049.8 895.2,1049.3 896.2,1048.9 897.4,1048.6 898.7,1048.4 900.1,1048.3 901.6,1048.3 903,1048.4 904.2,1048.6" fill="#d8c82a" stroke="#8a7a20" stroke-width="0.8" stroke-linejoin="round" />
<polygon points="913.4,1041.9 913.7,1041.1 914.4,1040.4 915.6,1039.7 917,1039.1 918.8,1038.7 920.8,1038.4 922.9,1038.2 925,1038.2 927,1038.4 928.9,1038.7 930.5,1039.2 931.9,1039.8 932.9,1040.4 933.4,1041.2 933.5,1042 933.5,1045.7 933.2,1046.5 932.5,1047.2 931.3,1047.9 929.9,1048.5 928.1,1048.9 926.1,1049.2 924,1049.4 921.9,1049.4 919.9,1049.2 918,1048.9 916.4,1048.5 915,1047.9 914,1047.2 913.5,1046.5 913.4,1045.7" fill="#c8b02a" stroke="#6e5e18" stroke-width="1.0" stroke-linejoin="round" />
<polygon points="930.5,1039.2 931.9,1039.8 932.9,1040.4 933.4,1041.2 933.5,1041.9 933.2,1042.7 932.5,1043.5 931.3,1044.1 929.9,1044.7 928.1,1045.2 926.1,1045.5 924,1045.6 921.9,1045.6 919.9,1045.5 918,1045.2 916.4,1044.7 915,1044.1 914,1043.4 913.5,1042.7 913.4,1041.9 913.7,1041.1 914.4,1040.4 915.6,1039.7 917,1039.1 918.8,1038.7 920.8,1038.4 922.9,1038.2 925,1038.2 927,1038.4 928.9,1038.7" fill="#ecdc26" stroke="#6e5e18" stroke-width="1.0" stroke-linejoin="round" />
<polygon points="928.3,1040.1 929.2,1040.5 929.8,1040.9 930.2,1041.4 930.3,1041.9 930.1,1042.5 929.6,1043 928.8,1043.4 927.8,1043.8 926.6,1044.1 925.3,1044.3 923.9,1044.4 922.4,1044.4 921,1044.3 919.8,1044.1 918.6,1043.8 917.7,1043.4 917.1,1042.9 916.7,1042.4 916.6,1041.9 916.8,1041.4 917.3,1040.9 918.1,1040.4 919.1,1040 920.3,1039.7 921.6,1039.5 923,1039.4 924.5,1039.4 925.9,1039.5 927.1,1039.7" fill="#d8c82a" stroke="#8a7a20" stroke-width="0.8" stroke-linejoin="round" />
<polygon points="936.3,1033 936.6,1032.2 937.3,1031.5 938.5,1030.8 939.9,1030.2 941.7,1029.8 943.7,1029.5 945.8,1029.3 947.9,1029.3 949.9,1029.5 951.8,1029.8 953.5,1030.3 954.8,1030.8 955.8,1031.5 956.3,1032.3 956.4,1033 956.4,1036.8 956.1,1037.6 955.4,1038.3 954.2,1039 952.8,1039.6 951,1040 949,1040.3 946.9,1040.5 944.8,1040.5 942.8,1040.3 940.9,1040 939.2,1039.6 937.9,1039 936.9,1038.3 936.4,1037.6 936.3,1036.8" fill="#c8b02a" stroke="#6e5e18" stroke-width="1.0" stroke-linejoin="round" />
<polygon points="953.4,1030.3 954.8,1030.9 955.8,1031.5 956.3,1032.3 956.4,1033 956.1,1033.8 955.4,1034.6 954.2,1035.2 952.8,1035.8 951,1036.3 949,1036.6 946.9,1036.7 944.8,1036.7 942.8,1036.6 940.9,1036.3 939.3,1035.8 937.9,1035.2 936.9,1034.5 936.4,1033.8 936.3,1033 936.6,1032.2 937.3,1031.5 938.5,1030.8 939.9,1030.2 941.7,1029.8 943.7,1029.5 945.8,1029.3 947.9,1029.3 949.9,1029.5 951.8,1029.8" fill="#ecdc26" stroke="#6e5e18" stroke-width="1.0" stroke-linejoin="round" />
<polygon points="951.2,1031.2 952.1,1031.6 952.7,1032 953.1,1032.5 953.2,1033 953,1033.6 952.5,1034.1 951.7,1034.5 950.7,1034.9 949.5,1035.2 948.2,1035.4 946.8,1035.5 945.3,1035.5 943.9,1035.4 942.7,1035.2 941.5,1034.9 940.6,1034.5 940,1034 939.6,1033.5 939.5,1033 939.7,1032.5 940.2,1032 941,1031.5 942,1031.1 943.2,1030.8 944.5,1030.6 945.9,1030.5 947.4,1030.5 948.8,1030.6 950,1030.8" fill="#d8c82a" stroke="#8a7a20" stroke-width="0.8" stroke-linejoin="round" />
<polygon points="959.2,1024.1 959.5,1023.3 960.2,1022.6 961.4,1021.9 962.8,1021.3 964.6,1020.9 966.6,1020.6 968.7,1020.4 970.8,1020.4 972.8,1020.6 974.7,1020.9 976.4,1021.4 977.7,1022 978.7,1022.6 979.2,1023.4 979.3,1024.2 979.3,1027.9 979,1028.7 978.3,1029.4 977.1,1030.1 975.7,1030.7 973.9,1031.1 971.9,1031.5 969.8,1031.6 967.7,1031.6 965.7,1031.4 963.8,1031.1 962.1,1030.7 960.8,1030.1 959.8,1029.4 959.3,1028.7 959.2,1027.9" fill="#c8b02a" stroke="#6e5e18" stroke-width="1.0" stroke-linejoin="round" />
<polygon points="976.3,1021.4 977.7,1022 978.7,1022.6 979.2,1023.4 979.3,1024.1 979,1024.9 978.3,1025.7 977.1,1026.3 975.7,1026.9 973.9,1027.4 971.9,1027.7 969.8,1027.8 967.7,1027.8 965.7,1027.7 963.8,1027.4 962.2,1026.9 960.8,1026.3 959.8,1025.6 959.3,1024.9 959.2,1024.1 959.5,1023.3 960.2,1022.6 961.4,1021.9 962.8,1021.3 964.6,1020.9 966.6,1020.6 968.7,1020.4 970.8,1020.4 972.8,1020.6 974.7,1020.9" fill="#ecdc26" stroke="#6e5e18" stroke-width="1.0" stroke-linejoin="round" />
<polygon points="974.1,1022.3 975,1022.7 975.6,1023.1 976,1023.6 976.1,1024.1 975.9,1024.7 975.4,1025.2 974.6,1025.6 973.6,1026 972.4,1026.3 971.1,1026.5 969.7,1026.6 968.2,1026.6 966.8,1026.5 965.6,1026.3 964.4,1026 963.5,1025.6 962.9,1025.1 962.5,1024.6 962.4,1024.1 962.6,1023.6 963.1,1023.1 963.9,1022.6 964.9,1022.2 966.1,1021.9 967.4,1021.7 968.8,1021.6 970.3,1021.6 971.7,1021.7 972.9,1021.9" fill="#d8c82a" stroke="#8a7a20" stroke-width="0.8" stroke-linejoin="round" />
<polygon points="449.8,64.6 450,62.7 450.5,60.5 451.3,58.2 452.4,55.8 453.7,53.4 455.2,51.2 456.8,49.2 458.5,47.5 460.1,46.2 461.6,45.4 462.9,45 464,45.2 539.2,89.2 540,89.9 540.6,91 540.7,92.5 540.6,94.4 540,96.6 539.2,98.9 538.1,101.3 536.8,103.7 535.3,105.9 533.7,107.9 532.1,109.6 530.5,110.9 529,111.7 527.7,112.1 526.6,111.9 451.3,67.9 450.5,67.3 450,66.1" fill="url(#g28)" stroke="#0c5418" stroke-width="0.6" stroke-linejoin="round" />
<line x1="460.7" y1="51.4" x2="535.9" y2="95.4" stroke="#4cc050" stroke-width="1.4" stroke-linecap="butt" />
<line x1="458.6" y1="55" x2="533.8" y2="99" stroke="#0c5418" stroke-width="1.6" stroke-linecap="butt" />
<line x1="455.8" y1="59.7" x2="531.1" y2="103.7" stroke="#0c5418" stroke-width="1.6" stroke-linecap="butt" />
<line x1="457.4" y1="57.1" x2="532.6" y2="101.1" stroke="#4cc050" stroke-width="1.0" stroke-linecap="butt" />
<polygon points="540.7,92.5 540.6,91 540.1,89.9 539.2,89.2 538.1,89.1 536.8,89.4 535.3,90.2 533.7,91.5 532.1,93.2 530.5,95.2 529,97.4 527.7,99.8 526.6,102.2 525.7,104.6 525.2,106.7 525.1,108.6 525.2,110.1 525.7,111.3 526.6,111.9 527.7,112.1 529,111.7 530.5,110.9 532.1,109.6 533.7,107.9 535.3,105.9 536.8,103.7 538.1,101.3 539.2,98.9 540.1,96.6 540.6,94.4" fill="#28963a" stroke="#0c5418" stroke-width="0.8" stroke-linejoin="round" />
<line x1="525.9" y1="107.8" x2="539.9" y2="93.3" stroke="#0c5418" stroke-width="2.0" stroke-linecap="butt" />
<line x1="532.9" y1="108" x2="532.9" y2="93.1" stroke="#0c5418" stroke-width="2.0" stroke-linecap="butt" />
<polygon points="368.2,201.5 402.4,221.5 402.4,254.5 368.2,234.5" fill="#b09628" stroke="#6c5c1a" stroke-width="1.0" stroke-linejoin="round" />
<polygon points="402.4,221.5 559,60.7 559,93.7 402.4,254.5" fill="#c4ab2e" stroke="#6c5c1a" stroke-width="1.0" stroke-linejoin="round" />
<polygon points="368.2,201.5 524.8,40.7 559,60.7 402.4,221.5" fill="#f0e11e" stroke="#6c5c1a" stroke-width="1.0" stroke-linejoin="round" />
<polygon points="438.4,197.6 438.2,195.6 437.6,194.2 436.5,193.4 435.1,193.2 433.5,193.6 431.6,194.7 429.5,196.3 427.5,198.4 425.4,201 423.5,203.8 421.9,206.8 420.5,209.9 419.4,212.8 418.8,215.6 418.6,217.9 418.8,219.9 419.4,221.3 420.5,222.1 421.9,222.3 423.5,221.9 425.4,220.8 427.5,219.2 429.5,217.1 431.6,214.6 433.5,211.7 435.1,208.7 436.5,205.7 437.6,202.7 438.2,200" fill="#c2aa2c" stroke="#6e5e1c" stroke-width="0.8" stroke-linejoin="round" />
<polygon points="435.5,200.5 435.4,199.1 434.9,198.1 434.2,197.5 433.2,197.4 432,197.7 430.7,198.5 429.2,199.6 427.8,201.1 426.3,202.9 425,205 423.8,207.1 422.8,209.3 422.1,211.4 421.6,213.3 421.5,215 421.6,216.4 422.1,217.4 422.8,218 423.8,218.1 425,217.8 426.3,217.1 427.8,215.9 429.2,214.4 430.7,212.6 432,210.6 433.2,208.4 434.2,206.3 434.9,204.2 435.4,202.2" fill="#a08a20" stroke="#6e5e1c" stroke-width="0.7" stroke-linejoin="round" />
<polygon points="435,202.4 434.9,201.4 434.6,200.7 434,200.2 433.3,200.1 432.4,200.4 431.4,200.9 430.4,201.8 429.3,202.9 428.2,204.2 427.2,205.7 426.3,207.3 425.6,208.9 425,210.5 424.7,211.9 424.6,213.2 424.7,214.2 425,214.9 425.6,215.4 426.3,215.5 427.2,215.2 428.2,214.7 429.3,213.8 430.4,212.7 431.4,211.4 432.4,209.9 433.3,208.3 434,206.7 434.6,205.1 434.9,203.7" fill="#e0cc2a" />
<polygon points="464.5,170.8 464.3,168.8 463.7,167.4 462.6,166.6 461.2,166.4 459.6,166.8 457.7,167.9 455.6,169.5 453.6,171.6 451.5,174.2 449.6,177 448,180 446.6,183.1 445.5,186 444.9,188.8 444.7,191.1 444.9,193.1 445.5,194.5 446.6,195.3 448,195.5 449.6,195.1 451.5,194 453.6,192.4 455.6,190.3 457.7,187.8 459.6,184.9 461.2,181.9 462.6,178.9 463.7,175.9 464.3,173.2" fill="#c2aa2c" stroke="#6e5e1c" stroke-width="0.8" stroke-linejoin="round" />
<polygon points="461.6,173.7 461.5,172.3 461,171.3 460.3,170.7 459.3,170.6 458.1,170.9 456.8,171.7 455.3,172.8 453.9,174.3 452.4,176.1 451.1,178.2 449.9,180.3 448.9,182.5 448.2,184.6 447.7,186.5 447.6,188.2 447.7,189.6 448.2,190.6 448.9,191.2 449.9,191.3 451.1,191 452.4,190.3 453.9,189.1 455.3,187.6 456.8,185.8 458.1,183.8 459.3,181.6 460.3,179.5 461,177.4 461.5,175.4" fill="#a08a20" stroke="#6e5e1c" stroke-width="0.7" stroke-linejoin="round" />
<polygon points="461.1,175.6 461,174.6 460.7,173.9 460.1,173.4 459.4,173.3 458.5,173.6 457.5,174.1 456.5,175 455.4,176.1 454.3,177.4 453.3,178.9 452.4,180.5 451.7,182.1 451.1,183.7 450.8,185.1 450.7,186.4 450.8,187.4 451.1,188.1 451.7,188.6 452.4,188.7 453.3,188.4 454.3,187.9 455.4,187 456.5,185.9 457.5,184.6 458.5,183.1 459.4,181.5 460.1,179.9 460.7,178.3 461,176.9" fill="#e0cc2a" />
<polygon points="490.6,144 490.4,142 489.8,140.6 488.7,139.8 487.3,139.6 485.7,140 483.8,141.1 481.7,142.7 479.7,144.8 477.6,147.4 475.7,150.2 474.1,153.2 472.7,156.3 471.6,159.2 471,162 470.8,164.3 471,166.3 471.6,167.7 472.7,168.5 474.1,168.7 475.7,168.3 477.6,167.2 479.7,165.6 481.7,163.5 483.8,161 485.7,158.1 487.3,155.1 488.7,152.1 489.8,149.1 490.4,146.4" fill="#c2aa2c" stroke="#6e5e1c" stroke-width="0.8" stroke-linejoin="round" />
<polygon points="487.7,146.9 487.6,145.5 487.1,144.5 486.4,143.9 485.4,143.8 484.2,144.1 482.9,144.9 481.4,146 480,147.5 478.5,149.3 477.2,151.4 476,153.5 475,155.7 474.3,157.8 473.8,159.7 473.7,161.4 473.8,162.8 474.3,163.8 475,164.4 476,164.5 477.2,164.2 478.5,163.5 480,162.3 481.4,160.8 482.9,159 484.2,157 485.4,154.8 486.4,152.7 487.1,150.6 487.6,148.6" fill="#a08a20" stroke="#6e5e1c" stroke-width="0.7" stroke-linejoin="round" />
<polygon points="487.2,148.8 487.1,147.8 486.8,147.1 486.2,146.6 485.5,146.5 484.6,146.8 483.6,147.3 482.6,148.2 481.5,149.3 480.4,150.6 479.4,152.1 478.5,153.7 477.8,155.3 477.2,156.9 476.9,158.3 476.8,159.6 476.9,160.6 477.2,161.3 477.8,161.8 478.5,161.9 479.4,161.6 480.4,161.1 481.5,160.2 482.6,159.1 483.6,157.8 484.6,156.3 485.5,154.7 486.2,153.1 486.8,151.5 487.1,150.1" fill="#e0cc2a" />
<polygon points="516.7,117.2 516.5,115.2 515.9,113.8 514.8,113 513.4,112.8 511.8,113.2 509.9,114.3 507.8,115.9 505.8,118 503.7,120.6 501.8,123.4 500.2,126.4 498.8,129.5 497.7,132.4 497.1,135.2 496.9,137.5 497.1,139.5 497.7,140.9 498.8,141.7 500.2,141.9 501.8,141.5 503.7,140.4 505.8,138.8 507.8,136.7 509.9,134.2 511.8,131.3 513.4,128.3 514.8,125.3 515.9,122.3 516.5,119.6" fill="#c2aa2c" stroke="#6e5e1c" stroke-width="0.8" stroke-linejoin="round" />
<polygon points="513.8,120.1 513.7,118.7 513.2,117.7 512.5,117.1 511.5,117 510.3,117.3 509,118.1 507.5,119.2 506.1,120.7 504.6,122.5 503.3,124.6 502.1,126.7 501.1,128.9 500.4,131 499.9,132.9 499.8,134.6 499.9,136 500.4,137 501.1,137.6 502.1,137.7 503.3,137.4 504.6,136.7 506.1,135.5 507.5,134 509,132.2 510.3,130.2 511.5,128 512.5,125.9 513.2,123.8 513.7,121.8" fill="#a08a20" stroke="#6e5e1c" stroke-width="0.7" stroke-linejoin="round" />
<polygon points="513.3,122 513.2,121 512.9,120.3 512.3,119.8 511.6,119.7 510.7,120 509.7,120.5 508.7,121.4 507.6,122.5 506.5,123.8 505.5,125.3 504.6,126.9 503.9,128.5 503.3,130.1 503,131.5 502.9,132.8 503,133.8 503.3,134.5 503.9,135 504.6,135.1 505.5,134.8 506.5,134.3 507.6,133.4 508.7,132.3 509.7,131 510.7,129.5 511.6,127.9 512.3,126.3 512.9,124.7 513.2,123.3" fill="#e0cc2a" />
<polygon points="542.8,90.4 542.6,88.4 542,87 540.9,86.2 539.5,86 537.9,86.4 536,87.5 533.9,89.1 531.9,91.2 529.8,93.8 527.9,96.6 526.3,99.6 524.9,102.7 523.8,105.6 523.2,108.4 523,110.7 523.2,112.7 523.8,114.1 524.9,114.9 526.3,115.1 527.9,114.7 529.8,113.6 531.9,112 533.9,109.9 536,107.4 537.9,104.5 539.5,101.5 540.9,98.5 542,95.5 542.6,92.8" fill="#c2aa2c" stroke="#6e5e1c" stroke-width="0.8" stroke-linejoin="round" />
<polygon points="539.9,93.3 539.8,91.9 539.3,90.9 538.6,90.3 537.6,90.2 536.4,90.5 535.1,91.3 533.6,92.4 532.2,93.9 530.7,95.7 529.4,97.8 528.2,99.9 527.2,102.1 526.5,104.2 526,106.1 525.9,107.8 526,109.2 526.5,110.2 527.2,110.8 528.2,110.9 529.4,110.6 530.7,109.9 532.2,108.7 533.6,107.2 535.1,105.4 536.4,103.4 537.6,101.2 538.6,99.1 539.3,97 539.8,95" fill="#a08a20" stroke="#6e5e1c" stroke-width="0.7" stroke-linejoin="round" />
<polygon points="539.4,95.2 539.3,94.2 539,93.5 538.4,93 537.7,92.9 536.8,93.2 535.8,93.7 534.8,94.6 533.7,95.7 532.6,97 531.6,98.5 530.7,100.1 530,101.7 529.4,103.3 529.1,104.7 529,106 529.1,107 529.4,107.7 530,108.2 530.7,108.3 531.6,108 532.6,107.5 533.7,106.6 534.8,105.5 535.8,104.2 536.8,102.7 537.7,101.1 538.4,99.5 539,97.9 539.3,96.5" fill="#e0cc2a" />
<polygon points="385.1,195.5 385.1,193.3 385.8,191.2 387,189.2 388.6,187.5 390.8,186.1 393.2,185 395.9,184.4 398.7,184.2 401.4,184.4 404.1,185.1 406.4,186.2 408.5,187.7 410.1,189.5 411.1,191.4 411.6,193.6 411.6,197.2 411.6,199.3 410.9,201.4 409.7,203.4 408.1,205.1 405.9,206.6 403.5,207.6 400.8,208.3 398,208.5 395.3,208.2 392.6,207.5 390.3,206.4 388.2,204.9 386.6,203.2 385.6,201.2 385.1,199.1" fill="#b8a42a" stroke="#6e5e18" stroke-width="1.0" stroke-linejoin="round" />
<polygon points="406.4,186.2 408.5,187.7 410.1,189.5 411.1,191.4 411.6,193.6 411.6,195.7 410.9,197.9 409.7,199.8 408,201.6 405.9,203 403.5,204 400.8,204.7 398,204.9 395.3,204.6 392.6,203.9 390.3,202.8 388.2,201.4 386.6,199.6 385.6,197.6 385.1,195.5 385.1,193.3 385.8,191.2 387,189.2 388.7,187.5 390.8,186.1 393.2,185 395.9,184.4 398.7,184.2 401.4,184.4 404.1,185.1" fill="#e6d826" stroke="#6e5e18" stroke-width="1.0" stroke-linejoin="round" />
<polygon points="403.8,188.9 405.2,189.9 406.3,191.1 407,192.4 407.4,193.9 407.3,195.3 406.9,196.8 406.1,198.1 404.9,199.3 403.5,200.3 401.8,201 400,201.4 398.1,201.5 396.3,201.4 394.5,200.9 392.9,200.2 391.5,199.2 390.4,198 389.7,196.6 389.3,195.2 389.4,193.7 389.8,192.3 390.6,190.9 391.8,189.8 393.2,188.8 394.9,188.1 396.7,187.6 398.6,187.5 400.4,187.7 402.2,188.1" fill="#d8c82a" stroke="#8a7a20" stroke-width="0.8" stroke-linejoin="round" />
<polygon points="411.2,168.7 411.2,166.5 411.9,164.4 413.1,162.4 414.8,160.7 416.9,159.3 419.3,158.2 422,157.6 424.8,157.4 427.5,157.6 430.2,158.3 432.5,159.4 434.6,160.9 436.1,162.7 437.2,164.7 437.7,166.8 437.7,170.3 437.7,172.5 437,174.6 435.8,176.6 434.1,178.3 432,179.8 429.6,180.8 426.9,181.5 424.1,181.7 421.4,181.4 418.7,180.7 416.4,179.6 414.3,178.1 412.8,176.4 411.7,174.4 411.2,172.2" fill="#b8a42a" stroke="#6e5e18" stroke-width="1.0" stroke-linejoin="round" />
<polygon points="432.5,159.4 434.6,160.9 436.2,162.7 437.2,164.6 437.7,166.8 437.7,168.9 437,171.1 435.8,173 434.1,174.8 432,176.2 429.6,177.2 426.9,177.9 424.1,178.1 421.4,177.8 418.7,177.1 416.4,176 414.3,174.6 412.7,172.8 411.7,170.8 411.2,168.7 411.2,166.5 411.9,164.4 413.1,162.4 414.8,160.7 416.9,159.3 419.3,158.2 422,157.6 424.8,157.4 427.5,157.6 430.2,158.3" fill="#e6d826" stroke="#6e5e18" stroke-width="1.0" stroke-linejoin="round" />
<polygon points="429.9,162.1 431.3,163.1 432.4,164.3 433.1,165.6 433.5,167.1 433.4,168.5 433,170 432.2,171.3 431,172.5 429.6,173.5 427.9,174.2 426.1,174.6 424.2,174.7 422.4,174.6 420.6,174.1 419,173.4 417.6,172.4 416.5,171.2 415.8,169.8 415.4,168.4 415.5,166.9 415.9,165.5 416.7,164.1 417.9,163 419.3,162 421,161.3 422.8,160.8 424.7,160.7 426.5,160.9 428.3,161.3" fill="#d8c82a" stroke="#8a7a20" stroke-width="0.8" stroke-linejoin="round" />
<polygon points="437.3,141.9 437.3,139.7 438,137.6 439.2,135.6 440.9,133.9 443,132.5 445.4,131.4 448.1,130.8 450.9,130.6 453.6,130.8 456.3,131.5 458.6,132.6 460.7,134.1 462.2,135.9 463.3,137.8 463.8,140 463.8,143.6 463.8,145.7 463.1,147.8 461.9,149.8 460.2,151.5 458.1,153 455.7,154 453,154.7 450.2,154.9 447.5,154.6 444.8,153.9 442.5,152.8 440.4,151.3 438.9,149.6 437.8,147.6 437.3,145.4" fill="#b8a42a" stroke="#6e5e18" stroke-width="1.0" stroke-linejoin="round" />
<polygon points="458.6,132.6 460.7,134.1 462.3,135.9 463.3,137.8 463.8,140 463.8,142.1 463.1,144.3 461.9,146.2 460.2,148 458.1,149.4 455.7,150.4 453,151.1 450.2,151.3 447.5,151 444.8,150.3 442.5,149.2 440.4,147.8 438.8,146 437.8,144 437.3,141.9 437.3,139.7 438,137.6 439.2,135.6 440.9,133.9 443,132.5 445.4,131.4 448.1,130.8 450.9,130.6 453.6,130.8 456.3,131.5" fill="#e6d826" stroke="#6e5e18" stroke-width="1.0" stroke-linejoin="round" />
<polygon points="456,135.3 457.4,136.3 458.5,137.5 459.2,138.8 459.6,140.3 459.5,141.7 459.1,143.2 458.3,144.5 457.1,145.7 455.7,146.7 454,147.4 452.2,147.8 450.3,147.9 448.5,147.8 446.7,147.3 445.1,146.6 443.7,145.6 442.6,144.4 441.9,143 441.5,141.6 441.6,140.1 442,138.7 442.8,137.3 444,136.2 445.4,135.2 447.1,134.5 448.9,134 450.8,133.9 452.6,134.1 454.4,134.5" fill="#d8c82a" stroke="#8a7a20" stroke-width="0.8" stroke-linejoin="round" />
<polygon points="463.4,115.1 463.4,112.9 464.1,110.8 465.3,108.8 466.9,107.1 469.1,105.7 471.5,104.6 474.2,104 477,103.8 479.7,104 482.4,104.7 484.7,105.8 486.8,107.3 488.4,109.1 489.4,111 489.9,113.2 489.9,116.8 489.9,118.9 489.2,121 488,123 486.4,124.7 484.2,126.2 481.8,127.2 479.1,127.9 476.3,128.1 473.6,127.8 470.9,127.1 468.6,126 466.5,124.5 464.9,122.8 463.9,120.8 463.4,118.7" fill="#b8a42a" stroke="#6e5e18" stroke-width="1.0" stroke-linejoin="round" />
<polygon points="484.7,105.8 486.8,107.3 488.4,109.1 489.4,111 489.9,113.2 489.9,115.3 489.2,117.5 488,119.4 486.3,121.2 484.2,122.6 481.8,123.6 479.1,124.3 476.3,124.5 473.6,124.2 470.9,123.5 468.6,122.4 466.5,121 464.9,119.2 463.9,117.2 463.4,115.1 463.4,112.9 464.1,110.8 465.3,108.8 467,107.1 469.1,105.7 471.5,104.6 474.2,104 477,103.8 479.7,104 482.4,104.7" fill="#e6d826" stroke="#6e5e18" stroke-width="1.0" stroke-linejoin="round" />
<polygon points="482.1,108.5 483.5,109.5 484.6,110.7 485.3,112 485.7,113.5 485.6,114.9 485.2,116.4 484.4,117.7 483.2,118.9 481.8,119.9 480.1,120.6 478.3,121 476.4,121.1 474.6,121 472.8,120.5 471.2,119.8 469.8,118.8 468.7,117.6 468,116.2 467.6,114.8 467.7,113.3 468.1,111.9 468.9,110.5 470.1,109.4 471.5,108.4 473.2,107.7 475,107.2 476.9,107.1 478.7,107.3 480.5,107.7" fill="#d8c82a" stroke="#8a7a20" stroke-width="0.8" stroke-linejoin="round" />
<polygon points="489.5,88.3 489.5,86.1 490.2,84 491.4,82 493.1,80.3 495.2,78.9 497.6,77.8 500.3,77.2 503.1,77 505.8,77.2 508.5,77.9 510.8,79 512.9,80.5 514.5,82.3 515.5,84.2 516,86.4 516,90 516,92.1 515.3,94.2 514.1,96.2 512.5,97.9 510.3,99.4 507.9,100.4 505.2,101.1 502.4,101.3 499.7,101 497,100.3 494.7,99.2 492.6,97.7 491.1,96 490,94 489.5,91.8" fill="#b8a42a" stroke="#6e5e18" stroke-width="1.0" stroke-linejoin="round" />
<polygon points="510.8,79 512.9,80.5 514.5,82.3 515.5,84.2 516,86.4 516,88.5 515.3,90.7 514.1,92.6 512.4,94.4 510.3,95.8 507.9,96.8 505.2,97.5 502.4,97.7 499.7,97.4 497,96.7 494.7,95.6 492.6,94.2 491,92.4 490,90.4 489.5,88.3 489.5,86.1 490.2,84 491.4,82 493.1,80.3 495.2,78.9 497.6,77.8 500.3,77.2 503.1,77 505.8,77.2 508.5,77.9" fill="#e6d826" stroke="#6e5e18" stroke-width="1.0" stroke-linejoin="round" />
<polygon points="508.2,81.7 509.6,82.7 510.7,83.9 511.4,85.2 511.8,86.7 511.7,88.1 511.3,89.6 510.5,90.9 509.3,92.1 507.9,93.1 506.2,93.8 504.4,94.2 502.5,94.3 500.7,94.2 498.9,93.7 497.3,93 495.9,92 494.8,90.8 494.1,89.4 493.7,88 493.8,86.5 494.2,85.1 495,83.7 496.2,82.6 497.6,81.6 499.3,80.9 501.1,80.4 503,80.3 504.8,80.5 506.6,80.9" fill="#d8c82a" stroke="#8a7a20" stroke-width="0.8" stroke-linejoin="round" />
<polygon points="515.6,61.5 515.6,59.3 516.3,57.2 517.5,55.2 519.1,53.5 521.3,52.1 523.7,51 526.4,50.4 529.2,50.2 531.9,50.4 534.6,51.1 536.9,52.2 539,53.7 540.5,55.5 541.6,57.5 542.1,59.6 542.1,63.1 542.1,65.3 541.4,67.4 540.2,69.4 538.5,71.1 536.4,72.6 534,73.6 531.3,74.3 528.5,74.5 525.8,74.2 523.1,73.5 520.8,72.4 518.7,70.9 517.1,69.2 516.1,67.2 515.6,65" fill="#b8a42a" stroke="#6e5e18" stroke-width="1.0" stroke-linejoin="round" />
<polygon points="536.9,52.2 539,53.7 540.6,55.5 541.6,57.4 542.1,59.6 542.1,61.7 541.4,63.9 540.2,65.8 538.5,67.6 536.4,69 534,70 531.3,70.7 528.5,70.9 525.8,70.6 523.1,69.9 520.8,68.8 518.7,67.4 517.1,65.6 516.1,63.6 515.6,61.5 515.6,59.3 516.3,57.2 517.5,55.2 519.2,53.5 521.3,52.1 523.7,51 526.4,50.4 529.2,50.2 531.9,50.4 534.6,51.1" fill="#e6d826" stroke="#6e5e18" stroke-width="1.0" stroke-linejoin="round" />
<polygon points="534.3,54.9 535.7,55.9 536.8,57.1 537.5,58.4 537.9,59.9 537.8,61.3 537.4,62.8 536.6,64.1 535.4,65.3 534,66.3 532.3,67 530.5,67.4 528.6,67.5 526.8,67.4 525,66.9 523.4,66.2 522,65.2 520.9,64 520.2,62.6 519.8,61.2 519.9,59.7 520.3,58.3 521.1,56.9 522.3,55.8 523.7,54.8 525.4,54.1 527.2,53.6 529.1,53.5 530.9,53.7 532.7,54.1" fill="#d8c82a" stroke="#8a7a20" stroke-width="0.8" stroke-linejoin="round" />
<polygon points="420.7,215.8 420.8,213.9 421.4,211.8 422.2,209.4 423.3,207 424.6,204.6 426.1,202.4 427.7,200.4 429.3,198.7 430.9,197.4 432.4,196.6 433.7,196.2 434.8,196.4 474.2,219.4 475,220.1 475.5,221.2 475.7,222.7 475.5,224.6 475,226.8 474.2,229.1 473.1,231.5 471.8,233.9 470.2,236.1 468.6,238.1 467,239.8 465.4,241.1 463.9,241.9 462.6,242.3 461.5,242.1 422.2,219.1 421.4,218.5 420.8,217.3" fill="url(#g29)" stroke="#4e4c54" stroke-width="0.6" stroke-linejoin="round" />
<polygon points="418.6,217.9 418.8,215.6 419.4,212.8 420.5,209.9 421.9,206.8 423.5,203.8 425.4,201 427.5,198.4 429.5,196.3 431.6,194.7 433.5,193.6 435.1,193.2 436.5,193.4 440.6,195.8 441.7,196.6 442.3,198 442.5,200 442.3,202.4 441.7,205.1 440.6,208.1 439.2,211.1 437.6,214.1 435.7,216.9 433.6,219.5 431.6,221.6 429.5,223.2 427.6,224.3 426,224.7 424.6,224.5 420.5,222.1 419.4,221.3 418.8,219.9" fill="url(#g30)" stroke="#4e4c54" stroke-width="0.7" stroke-linejoin="round" />
<polygon points="442.5,200 442.3,198 441.7,196.6 440.6,195.8 439.2,195.6 437.6,196 435.7,197.1 433.6,198.7 431.6,200.8 429.5,203.4 427.6,206.2 426,209.2 424.6,212.3 423.5,215.2 422.9,218 422.7,220.3 422.9,222.3 423.5,223.7 424.6,224.5 426,224.7 427.6,224.3 429.5,223.2 431.6,221.6 433.6,219.5 435.7,217 437.6,214.1 439.2,211.1 440.6,208.1 441.7,205.1 442.3,202.4" fill="#aeaeb6" stroke="#4e4c54" stroke-width="0.7" stroke-linejoin="round" />
<polygon points="475.7,222.7 475.5,221.2 475,220.1 474.2,219.4 473.1,219.3 471.7,219.6 470.2,220.4 468.6,221.7 467,223.4 465.4,225.4 463.9,227.6 462.6,230 461.5,232.4 460.7,234.8 460.2,236.9 460,238.8 460.2,240.3 460.7,241.5 461.5,242.1 462.6,242.3 463.9,241.9 465.4,241.1 467,239.8 468.6,238.1 470.2,236.1 471.7,233.9 473.1,231.5 474.2,229.1 475,226.8 475.5,224.6" fill="#a8a8b0" stroke="#4e4c54" stroke-width="0.7" stroke-linejoin="round" />
<polygon points="472.3,226.2 472.2,225.3 471.9,224.7 471.4,224.3 470.8,224.2 470,224.4 469.2,224.9 468.3,225.6 467.4,226.6 466.5,227.7 465.6,229 464.9,230.3 464.2,231.7 463.8,233 463.5,234.2 463.4,235.3 463.5,236.2 463.8,236.8 464.2,237.2 464.9,237.3 465.6,237.1 466.5,236.6 467.4,235.9 468.3,234.9 469.2,233.8 470,232.5 470.8,231.2 471.4,229.8 471.9,228.5 472.2,227.3" fill="#56525a" />
<polygon points="521.1,112.6 521.4,109.8 522.2,106.5 523.4,103 525,99.4 527,95.9 529.3,92.5 531.7,89.5 534.1,87 536.5,85.1 538.8,83.8 540.8,83.3 542.4,83.5 546.5,85.9 547.7,86.9 548.5,88.6 548.8,90.9 548.5,93.7 547.7,97 546.5,100.5 544.9,104.1 542.9,107.7 540.6,111 538.2,114 535.8,116.5 533.4,118.5 531.1,119.7 529.1,120.2 527.5,120 523.4,117.6 522.2,116.6 521.4,114.9" fill="url(#g31)" stroke="#4e4c54" stroke-width="0.7" stroke-linejoin="round" />
<polygon points="548.7,90.9 548.5,88.6 547.7,86.9 546.5,85.9 544.9,85.7 542.9,86.2 540.6,87.5 538.2,89.4 535.8,91.9 533.4,94.9 531.1,98.3 529.1,101.8 527.5,105.4 526.3,108.9 525.5,112.2 525.3,115 525.5,117.3 526.3,119 527.5,120 529.1,120.2 531.1,119.7 533.4,118.5 535.8,116.5 538.2,114 540.6,111 542.9,107.6 544.9,104.1 546.5,100.5 547.7,97 548.5,93.7" fill="#aeaeb6" stroke="#4e4c54" stroke-width="0.7" stroke-linejoin="round" />
<polygon points="527.6,112.6 527.8,110.3 528.4,107.8 529.4,105 530.7,102.1 532.3,99.2 534.1,96.5 536,94.1 538,92.1 539.9,90.6 541.7,89.6 543.3,89.2 544.6,89.3 564.4,100.9 565.4,101.7 566,103.1 566.2,104.9 566,107.2 565.4,109.8 564.4,112.6 563.1,115.5 561.5,118.3 559.7,121 557.8,123.4 555.9,125.4 553.9,127 552.1,128 550.5,128.4 549.2,128.2 529.4,116.6 528.4,115.8 527.8,114.5" fill="url(#g32)" stroke="#4e4c54" stroke-width="0.6" stroke-linejoin="round" />
<polygon points="545.9,125.8 546.1,123.2 546.8,120.2 548,116.9 549.5,113.5 551.4,110.2 553.5,107.1 555.7,104.2 558,101.9 560.2,100.1 562.3,98.9 564.2,98.5 565.7,98.7 576,104.7 577.1,105.6 577.8,107.2 578.1,109.3 577.8,112 577.1,115 576,118.2 574.4,121.6 572.6,124.9 570.5,128.1 568.2,130.9 566,133.2 563.7,135 561.6,136.2 559.8,136.7 558.2,136.5 548,130.5 546.8,129.5 546.1,128" fill="url(#g33)" stroke="#4a4650" stroke-width="0.7" stroke-linejoin="round" />
<polygon points="578.1,109.3 577.8,107.2 577.1,105.6 576,104.7 574.4,104.4 572.6,104.9 570.5,106.1 568.2,107.9 566,110.3 563.7,113.1 561.6,116.2 559.8,119.5 558.2,122.9 557.1,126.1 556.4,129.2 556.1,131.8 556.4,134 557.1,135.5 558.2,136.5 559.8,136.7 561.6,136.2 563.7,135 566,133.2 568.2,130.9 570.5,128.1 572.6,124.9 574.4,121.6 576,118.2 577.1,115 577.8,112" fill="#9a96a0" stroke="#4a4650" stroke-width="0.7" stroke-linejoin="round" />
<polygon points="557.6,127.6 557.7,125.7 558.2,123.5 559.1,121.2 560.1,118.8 561.5,116.4 563,114.2 564.6,112.2 566.2,110.5 567.8,109.2 569.3,108.4 570.6,108 571.7,108.2 670.9,166.2 671.7,166.9 672.2,168 672.4,169.5 672.2,171.4 671.7,173.6 670.9,175.9 669.8,178.3 668.5,180.7 667,182.9 665.4,184.9 663.8,186.6 662.1,187.9 660.6,188.7 659.3,189.1 658.2,188.9 559.1,130.9 558.2,130.3 557.7,129.1" fill="url(#g34)" stroke="#0c5418" stroke-width="0.6" stroke-linejoin="round" />
<line x1="568.4" y1="114.4" x2="667.6" y2="172.4" stroke="#4cc050" stroke-width="1.4" stroke-linecap="butt" />
<line x1="566.3" y1="118" x2="665.5" y2="176" stroke="#0c5418" stroke-width="1.6" stroke-linecap="butt" />
<line x1="563.6" y1="122.7" x2="662.8" y2="180.7" stroke="#0c5418" stroke-width="1.6" stroke-linecap="butt" />
<line x1="565.1" y1="120.1" x2="664.3" y2="178.1" stroke="#4cc050" stroke-width="1.0" stroke-linecap="butt" />
<polygon points="672.4,169.5 672.2,168 671.7,166.9 670.9,166.2 669.8,166.1 668.5,166.4 667,167.2 665.4,168.5 663.8,170.2 662.2,172.2 660.7,174.4 659.3,176.8 658.2,179.2 657.4,181.6 656.9,183.7 656.7,185.6 656.9,187.1 657.4,188.3 658.2,188.9 659.3,189.1 660.7,188.7 662.2,187.9 663.8,186.6 665.4,184.9 667,182.9 668.5,180.7 669.8,178.3 670.9,175.9 671.7,173.6 672.2,171.4" fill="#28963a" stroke="#0c5418" stroke-width="0.8" stroke-linejoin="round" />
<line x1="657.5" y1="184.8" x2="671.6" y2="170.3" stroke="#0c5418" stroke-width="2.0" stroke-linecap="butt" />
<line x1="664.6" y1="185" x2="664.6" y2="170.1" stroke="#0c5418" stroke-width="2.0" stroke-linecap="butt" />
<polygon points="443.8,344.9 444,343 444.5,340.9 445.3,338.5 446.4,336.1 447.7,333.7 449.2,331.5 450.8,329.5 452.5,327.8 454.1,326.5 455.6,325.7 456.9,325.4 458,325.5 499,349.5 499.9,350.2 500.4,351.3 500.5,352.8 500.4,354.7 499.9,356.9 499,359.2 497.9,361.6 496.6,364 495.1,366.2 493.5,368.2 491.9,369.9 490.3,371.2 488.8,372 487.5,372.4 486.4,372.2 445.3,348.2 444.5,347.6 444,346.4" fill="url(#g35)" stroke="#0c5418" stroke-width="0.6" stroke-linejoin="round" />
<line x1="454.7" y1="331.7" x2="495.7" y2="355.7" stroke="#4cc050" stroke-width="1.4" stroke-linecap="butt" />
<line x1="452.6" y1="335.3" x2="493.6" y2="359.3" stroke="#0c5418" stroke-width="1.6" stroke-linecap="butt" />
<line x1="449.8" y1="340" x2="490.9" y2="364" stroke="#0c5418" stroke-width="1.6" stroke-linecap="butt" />
<line x1="451.4" y1="337.4" x2="492.4" y2="361.4" stroke="#4cc050" stroke-width="1.0" stroke-linecap="butt" />
<polygon points="500.5,352.8 500.4,351.3 499.9,350.2 499,349.5 497.9,349.4 496.6,349.7 495.1,350.5 493.5,351.8 491.9,353.5 490.3,355.5 488.8,357.7 487.5,360.1 486.4,362.5 485.5,364.9 485,367 484.9,368.9 485,370.4 485.5,371.6 486.4,372.2 487.5,372.4 488.8,372 490.3,371.2 491.9,369.9 493.5,368.2 495.1,366.2 496.6,364 497.9,361.6 499,359.2 499.9,356.9 500.4,354.7" fill="#28963a" stroke="#0c5418" stroke-width="0.8" stroke-linejoin="round" />
<line x1="485.7" y1="368.1" x2="499.7" y2="353.6" stroke="#0c5418" stroke-width="2.0" stroke-linecap="butt" />
<line x1="492.7" y1="368.3" x2="492.7" y2="353.4" stroke="#0c5418" stroke-width="2.0" stroke-linecap="butt" />
<polygon points="362.2,481.8 396.4,501.8 396.4,534.8 362.2,514.8" fill="#b09628" stroke="#6c5c1a" stroke-width="1.0" stroke-linejoin="round" />
<polygon points="396.4,501.8 553,341 553,374 396.4,534.8" fill="#c4ab2e" stroke="#6c5c1a" stroke-width="1.0" stroke-linejoin="round" />
<polygon points="362.2,481.8 518.8,321 553,341 396.4,501.8" fill="#f0e11e" stroke="#6c5c1a" stroke-width="1.0" stroke-linejoin="round" />
<polygon points="432.4,477.9 432.2,475.9 431.6,474.5 430.5,473.7 429.1,473.5 427.5,473.9 425.6,475 423.5,476.6 421.5,478.7 419.4,481.3 417.5,484.1 415.9,487.1 414.5,490.2 413.4,493.1 412.8,495.9 412.6,498.2 412.8,500.2 413.4,501.6 414.5,502.4 415.9,502.6 417.5,502.2 419.4,501.1 421.5,499.5 423.5,497.4 425.6,494.9 427.5,492 429.1,489 430.5,486 431.6,483 432.2,480.3" fill="#c2aa2c" stroke="#6e5e1c" stroke-width="0.8" stroke-linejoin="round" />
<polygon points="429.5,480.8 429.4,479.4 428.9,478.4 428.2,477.8 427.2,477.7 426,478 424.7,478.8 423.2,479.9 421.8,481.4 420.3,483.2 419,485.3 417.8,487.4 416.8,489.6 416.1,491.7 415.6,493.6 415.5,495.3 415.6,496.7 416.1,497.7 416.8,498.3 417.8,498.4 419,498.1 420.3,497.4 421.8,496.2 423.2,494.7 424.7,492.9 426,490.9 427.2,488.7 428.2,486.6 428.9,484.5 429.4,482.5" fill="#a08a20" stroke="#6e5e1c" stroke-width="0.7" stroke-linejoin="round" />
<polygon points="429,482.7 428.9,481.7 428.6,481 428,480.5 427.3,480.4 426.4,480.7 425.4,481.2 424.4,482.1 423.3,483.2 422.2,484.5 421.2,486 420.3,487.6 419.6,489.2 419,490.8 418.7,492.2 418.6,493.5 418.7,494.5 419,495.2 419.6,495.7 420.3,495.8 421.2,495.5 422.2,495 423.3,494.1 424.4,493 425.4,491.7 426.4,490.2 427.3,488.6 428,487 428.6,485.4 428.9,484" fill="#e0cc2a" />
<polygon points="458.5,451.1 458.3,449.1 457.7,447.7 456.6,446.9 455.2,446.7 453.6,447.1 451.7,448.2 449.6,449.8 447.6,451.9 445.5,454.5 443.6,457.3 442,460.3 440.6,463.4 439.5,466.3 438.9,469.1 438.7,471.4 438.9,473.4 439.5,474.8 440.6,475.6 442,475.8 443.6,475.4 445.5,474.3 447.6,472.7 449.6,470.6 451.7,468.1 453.6,465.2 455.2,462.2 456.6,459.2 457.7,456.2 458.3,453.5" fill="#c2aa2c" stroke="#6e5e1c" stroke-width="0.8" stroke-linejoin="round" />
<polygon points="455.6,454 455.5,452.6 455,451.6 454.3,451 453.3,450.9 452.1,451.2 450.8,452 449.3,453.1 447.9,454.6 446.4,456.4 445.1,458.5 443.9,460.6 442.9,462.8 442.2,464.9 441.7,466.8 441.6,468.5 441.7,469.9 442.2,470.9 442.9,471.5 443.9,471.6 445.1,471.3 446.4,470.6 447.9,469.4 449.3,467.9 450.8,466.1 452.1,464.1 453.3,461.9 454.3,459.8 455,457.7 455.5,455.7" fill="#a08a20" stroke="#6e5e1c" stroke-width="0.7" stroke-linejoin="round" />
<polygon points="455.1,455.9 455,454.9 454.7,454.2 454.1,453.7 453.4,453.6 452.5,453.9 451.5,454.4 450.5,455.3 449.4,456.4 448.3,457.7 447.3,459.2 446.4,460.8 445.7,462.4 445.1,464 444.8,465.4 444.7,466.7 444.8,467.7 445.1,468.4 445.7,468.9 446.4,469 447.3,468.7 448.3,468.2 449.4,467.3 450.5,466.2 451.5,464.9 452.5,463.4 453.4,461.8 454.1,460.2 454.7,458.6 455,457.2" fill="#e0cc2a" />
<polygon points="484.6,424.3 484.4,422.3 483.8,420.9 482.7,420.1 481.3,419.9 479.7,420.3 477.8,421.4 475.7,423 473.7,425.1 471.6,427.7 469.7,430.5 468.1,433.5 466.7,436.6 465.6,439.5 465,442.3 464.8,444.6 465,446.6 465.6,448 466.7,448.8 468.1,449 469.7,448.6 471.6,447.5 473.7,445.9 475.7,443.8 477.8,441.3 479.7,438.4 481.3,435.4 482.7,432.4 483.8,429.4 484.4,426.7" fill="#c2aa2c" stroke="#6e5e1c" stroke-width="0.8" stroke-linejoin="round" />
<polygon points="481.7,427.2 481.6,425.8 481.1,424.8 480.4,424.2 479.4,424.1 478.2,424.4 476.9,425.2 475.4,426.3 474,427.8 472.5,429.6 471.2,431.7 470,433.8 469,436 468.3,438.1 467.8,440 467.7,441.7 467.8,443.1 468.3,444.1 469,444.7 470,444.8 471.2,444.5 472.5,443.8 474,442.6 475.4,441.1 476.9,439.3 478.2,437.3 479.4,435.1 480.4,433 481.1,430.9 481.6,428.9" fill="#a08a20" stroke="#6e5e1c" stroke-width="0.7" stroke-linejoin="round" />
<polygon points="481.2,429.1 481.1,428.1 480.8,427.4 480.2,426.9 479.5,426.8 478.6,427.1 477.6,427.6 476.6,428.5 475.5,429.6 474.4,430.9 473.4,432.4 472.5,434 471.8,435.6 471.2,437.2 470.9,438.6 470.8,439.9 470.9,440.9 471.2,441.6 471.8,442.1 472.5,442.2 473.4,441.9 474.4,441.4 475.5,440.5 476.6,439.4 477.6,438.1 478.6,436.6 479.5,435 480.2,433.4 480.8,431.8 481.1,430.4" fill="#e0cc2a" />
<polygon points="510.7,397.5 510.5,395.5 509.9,394.1 508.8,393.3 507.4,393.1 505.8,393.5 503.9,394.6 501.8,396.2 499.8,398.3 497.7,400.9 495.8,403.7 494.2,406.7 492.8,409.8 491.7,412.7 491.1,415.5 490.9,417.8 491.1,419.8 491.7,421.2 492.8,422 494.2,422.2 495.8,421.8 497.7,420.7 499.8,419.1 501.8,417 503.9,414.5 505.8,411.6 507.4,408.6 508.8,405.6 509.9,402.6 510.5,399.9" fill="#c2aa2c" stroke="#6e5e1c" stroke-width="0.8" stroke-linejoin="round" />
<polygon points="507.8,400.4 507.7,399 507.2,398 506.5,397.4 505.5,397.3 504.3,397.6 503,398.4 501.5,399.5 500.1,401 498.6,402.8 497.3,404.9 496.1,407 495.1,409.2 494.4,411.3 493.9,413.2 493.8,414.9 493.9,416.3 494.4,417.3 495.1,417.9 496.1,418 497.3,417.7 498.6,417 500.1,415.8 501.5,414.3 503,412.5 504.3,410.5 505.5,408.3 506.5,406.2 507.2,404.1 507.7,402.1" fill="#a08a20" stroke="#6e5e1c" stroke-width="0.7" stroke-linejoin="round" />
<polygon points="507.3,402.3 507.2,401.3 506.9,400.6 506.3,400.1 505.6,400 504.7,400.3 503.7,400.8 502.7,401.7 501.6,402.8 500.5,404.1 499.5,405.6 498.6,407.2 497.9,408.8 497.3,410.4 497,411.8 496.9,413.1 497,414.1 497.3,414.8 497.9,415.3 498.6,415.4 499.5,415.1 500.5,414.6 501.6,413.7 502.7,412.6 503.7,411.3 504.7,409.8 505.6,408.2 506.3,406.6 506.9,405 507.2,403.6" fill="#e0cc2a" />
<polygon points="536.8,370.7 536.6,368.7 536,367.3 534.9,366.5 533.5,366.3 531.9,366.7 530,367.8 527.9,369.4 525.9,371.5 523.8,374.1 521.9,376.9 520.3,379.9 518.9,383 517.8,385.9 517.2,388.7 517,391 517.2,393 517.8,394.4 518.9,395.2 520.3,395.4 521.9,395 523.8,393.9 525.9,392.3 527.9,390.2 530,387.7 531.9,384.8 533.5,381.8 534.9,378.8 536,375.8 536.6,373.1" fill="#c2aa2c" stroke="#6e5e1c" stroke-width="0.8" stroke-linejoin="round" />
<polygon points="533.9,373.6 533.8,372.2 533.3,371.2 532.6,370.6 531.6,370.5 530.4,370.8 529.1,371.6 527.6,372.7 526.2,374.2 524.7,376 523.4,378.1 522.2,380.2 521.2,382.4 520.5,384.5 520,386.4 519.9,388.1 520,389.5 520.5,390.5 521.2,391.1 522.2,391.2 523.4,390.9 524.7,390.2 526.2,389 527.6,387.5 529.1,385.7 530.4,383.7 531.6,381.5 532.6,379.4 533.3,377.3 533.8,375.3" fill="#a08a20" stroke="#6e5e1c" stroke-width="0.7" stroke-linejoin="round" />
<polygon points="533.4,375.5 533.3,374.5 533,373.8 532.4,373.3 531.7,373.2 530.8,373.5 529.8,374 528.8,374.9 527.7,376 526.6,377.3 525.6,378.8 524.7,380.4 524,382 523.4,383.6 523.1,385 523,386.3 523.1,387.3 523.4,388 524,388.5 524.7,388.6 525.6,388.3 526.6,387.8 527.7,386.9 528.8,385.8 529.8,384.5 530.8,383 531.7,381.4 532.4,379.8 533,378.2 533.3,376.8" fill="#e0cc2a" />
<polygon points="379.1,475.8 379.1,473.6 379.8,471.5 381,469.5 382.6,467.8 384.8,466.4 387.2,465.3 389.9,464.7 392.7,464.5 395.4,464.7 398.1,465.4 400.4,466.5 402.5,468 404.1,469.8 405.1,471.8 405.6,473.9 405.6,477.4 405.6,479.6 404.9,481.7 403.7,483.7 402.1,485.4 399.9,486.9 397.5,487.9 394.8,488.6 392,488.8 389.3,488.5 386.6,487.8 384.3,486.7 382.2,485.2 380.6,483.5 379.6,481.5 379.1,479.4" fill="#b8a42a" stroke="#6e5e18" stroke-width="1.0" stroke-linejoin="round" />
<polygon points="400.4,466.5 402.5,468 404.1,469.8 405.1,471.7 405.6,473.9 405.6,476 404.9,478.2 403.7,480.1 402,481.9 399.9,483.3 397.5,484.3 394.8,485 392,485.2 389.3,484.9 386.6,484.2 384.3,483.1 382.2,481.7 380.6,479.9 379.6,477.9 379.1,475.8 379.1,473.6 379.8,471.5 381,469.5 382.7,467.8 384.8,466.4 387.2,465.3 389.9,464.7 392.7,464.5 395.4,464.7 398.1,465.4" fill="#e6d826" stroke="#6e5e18" stroke-width="1.0" stroke-linejoin="round" />
<polygon points="397.8,469.2 399.2,470.2 400.3,471.4 401,472.7 401.4,474.2 401.3,475.6 400.9,477.1 400.1,478.4 398.9,479.6 397.5,480.6 395.8,481.3 394,481.7 392.1,481.8 390.3,481.7 388.5,481.2 386.9,480.5 385.5,479.5 384.4,478.3 383.7,476.9 383.3,475.5 383.4,474 383.8,472.6 384.6,471.2 385.8,470.1 387.2,469.1 388.9,468.4 390.7,467.9 392.6,467.8 394.4,468 396.2,468.4" fill="#d8c82a" stroke="#8a7a20" stroke-width="0.8" stroke-linejoin="round" />
<polygon points="405.2,449 405.2,446.8 405.9,444.7 407.1,442.7 408.8,441 410.9,439.6 413.3,438.5 416,437.9 418.8,437.7 421.5,437.9 424.2,438.6 426.5,439.7 428.6,441.2 430.1,443 431.2,444.9 431.7,447.1 431.7,450.6 431.7,452.8 431,454.9 429.8,456.9 428.1,458.6 426,460.1 423.6,461.1 420.9,461.8 418.1,462 415.4,461.7 412.7,461 410.4,459.9 408.3,458.4 406.8,456.7 405.7,454.7 405.2,452.6" fill="#b8a42a" stroke="#6e5e18" stroke-width="1.0" stroke-linejoin="round" />
<polygon points="426.5,439.7 428.6,441.2 430.2,443 431.2,444.9 431.7,447.1 431.7,449.2 431,451.4 429.8,453.3 428.1,455.1 426,456.5 423.6,457.5 420.9,458.2 418.1,458.4 415.4,458.1 412.7,457.4 410.4,456.3 408.3,454.9 406.7,453.1 405.7,451.1 405.2,449 405.2,446.8 405.9,444.7 407.1,442.7 408.8,441 410.9,439.6 413.3,438.5 416,437.9 418.8,437.7 421.5,437.9 424.2,438.6" fill="#e6d826" stroke="#6e5e18" stroke-width="1.0" stroke-linejoin="round" />
<polygon points="423.9,442.4 425.3,443.4 426.4,444.6 427.1,445.9 427.5,447.4 427.4,448.8 427,450.3 426.2,451.6 425,452.8 423.6,453.8 421.9,454.5 420.1,454.9 418.2,455 416.4,454.9 414.6,454.4 413,453.7 411.6,452.7 410.5,451.5 409.8,450.1 409.4,448.7 409.5,447.2 409.9,445.8 410.7,444.4 411.9,443.3 413.3,442.3 415,441.6 416.8,441.1 418.7,441 420.5,441.2 422.3,441.6" fill="#d8c82a" stroke="#8a7a20" stroke-width="0.8" stroke-linejoin="round" />
<polygon points="431.3,422.2 431.3,420 432,417.9 433.2,415.9 434.9,414.2 437,412.8 439.4,411.7 442.1,411.1 444.9,410.9 447.6,411.1 450.3,411.8 452.6,412.9 454.7,414.4 456.2,416.2 457.3,418.1 457.8,420.3 457.8,423.9 457.8,426 457.1,428.1 455.9,430.1 454.2,431.8 452.1,433.3 449.7,434.3 447,435 444.2,435.2 441.5,434.9 438.8,434.2 436.5,433.1 434.4,431.6 432.9,429.9 431.8,427.9 431.3,425.8" fill="#b8a42a" stroke="#6e5e18" stroke-width="1.0" stroke-linejoin="round" />
<polygon points="452.6,412.9 454.7,414.4 456.3,416.2 457.3,418.1 457.8,420.3 457.8,422.4 457.1,424.6 455.9,426.5 454.2,428.3 452.1,429.7 449.7,430.7 447,431.4 444.2,431.6 441.5,431.3 438.8,430.6 436.5,429.5 434.4,428.1 432.8,426.3 431.8,424.3 431.3,422.2 431.3,420 432,417.9 433.2,415.9 434.9,414.2 437,412.8 439.4,411.7 442.1,411.1 444.9,410.9 447.6,411.1 450.3,411.8" fill="#e6d826" stroke="#6e5e18" stroke-width="1.0" stroke-linejoin="round" />
<polygon points="450,415.6 451.4,416.6 452.5,417.8 453.2,419.1 453.6,420.6 453.5,422 453.1,423.5 452.3,424.8 451.1,426 449.7,427 448,427.7 446.2,428.1 444.3,428.2 442.5,428.1 440.7,427.6 439.1,426.9 437.7,425.9 436.6,424.7 435.9,423.3 435.5,421.9 435.6,420.4 436,419 436.8,417.6 438,416.5 439.4,415.5 441.1,414.8 442.9,414.3 444.8,414.2 446.6,414.4 448.4,414.8" fill="#d8c82a" stroke="#8a7a20" stroke-width="0.8" stroke-linejoin="round" />
<polygon points="457.4,395.4 457.4,393.2 458.1,391.1 459.3,389.1 460.9,387.4 463.1,386 465.5,384.9 468.2,384.3 471,384.1 473.7,384.3 476.4,385 478.7,386.1 480.8,387.6 482.4,389.4 483.4,391.4 483.9,393.5 483.9,397.1 483.9,399.2 483.2,401.3 482,403.3 480.4,405 478.2,406.5 475.8,407.5 473.1,408.2 470.3,408.4 467.6,408.1 464.9,407.4 462.6,406.3 460.5,404.8 458.9,403.1 457.9,401.1 457.4,398.9" fill="#b8a42a" stroke="#6e5e18" stroke-width="1.0" stroke-linejoin="round" />
<polygon points="478.7,386.1 480.8,387.6 482.4,389.4 483.4,391.3 483.9,393.5 483.9,395.6 483.2,397.8 482,399.7 480.3,401.5 478.2,402.9 475.8,403.9 473.1,404.6 470.3,404.8 467.6,404.5 464.9,403.8 462.6,402.7 460.5,401.3 458.9,399.5 457.9,397.5 457.4,395.4 457.4,393.2 458.1,391.1 459.3,389.1 461,387.4 463.1,386 465.5,384.9 468.2,384.3 471,384.1 473.7,384.3 476.4,385" fill="#e6d826" stroke="#6e5e18" stroke-width="1.0" stroke-linejoin="round" />
<polygon points="476.1,388.8 477.5,389.8 478.6,391 479.3,392.3 479.7,393.8 479.6,395.2 479.2,396.7 478.4,398 477.2,399.2 475.8,400.2 474.1,400.9 472.3,401.3 470.4,401.4 468.6,401.3 466.8,400.8 465.2,400.1 463.8,399.1 462.7,397.9 462,396.5 461.6,395.1 461.7,393.6 462.1,392.2 462.9,390.8 464.1,389.7 465.5,388.7 467.2,388 469,387.5 470.9,387.4 472.7,387.6 474.5,388" fill="#d8c82a" stroke="#8a7a20" stroke-width="0.8" stroke-linejoin="round" />
<polygon points="483.5,368.6 483.5,366.4 484.2,364.3 485.4,362.3 487.1,360.6 489.2,359.2 491.6,358.1 494.3,357.5 497.1,357.3 499.8,357.5 502.5,358.2 504.8,359.3 506.9,360.8 508.4,362.6 509.5,364.6 510,366.7 510,370.2 510,372.4 509.3,374.5 508.1,376.5 506.4,378.2 504.3,379.7 501.9,380.7 499.2,381.4 496.4,381.6 493.7,381.3 491,380.6 488.7,379.5 486.6,378 485.1,376.3 484,374.3 483.5,372.1" fill="#b8a42a" stroke="#6e5e18" stroke-width="1.0" stroke-linejoin="round" />
<polygon points="504.8,359.3 506.9,360.8 508.5,362.6 509.5,364.5 510,366.7 510,368.8 509.3,371 508.1,372.9 506.4,374.7 504.3,376.1 501.9,377.1 499.2,377.8 496.4,378 493.7,377.7 491,377 488.7,375.9 486.6,374.5 485,372.7 484,370.7 483.5,368.6 483.5,366.4 484.2,364.3 485.4,362.3 487.1,360.6 489.2,359.2 491.6,358.1 494.3,357.5 497.1,357.3 499.8,357.5 502.5,358.2" fill="#e6d826" stroke="#6e5e18" stroke-width="1.0" stroke-linejoin="round" />
<polygon points="502.2,362 503.6,363 504.7,364.2 505.4,365.5 505.8,367 505.7,368.4 505.3,369.9 504.5,371.2 503.3,372.4 501.9,373.4 500.2,374.1 498.4,374.5 496.5,374.6 494.7,374.5 492.9,374 491.3,373.3 489.9,372.3 488.8,371.1 488.1,369.7 487.7,368.3 487.8,366.8 488.2,365.4 489,364 490.2,362.9 491.6,361.9 493.3,361.2 495.1,360.7 497,360.6 498.8,360.8 500.6,361.2" fill="#d8c82a" stroke="#8a7a20" stroke-width="0.8" stroke-linejoin="round" />
<polygon points="509.6,341.8 509.6,339.6 510.3,337.5 511.5,335.5 513.1,333.8 515.3,332.4 517.7,331.3 520.4,330.7 523.2,330.5 525.9,330.7 528.6,331.4 530.9,332.5 533,334 534.5,335.8 535.6,337.8 536.1,339.9 536.1,343.4 536.1,345.6 535.4,347.7 534.2,349.7 532.5,351.4 530.4,352.9 528,353.9 525.3,354.6 522.5,354.8 519.8,354.5 517.1,353.8 514.8,352.7 512.7,351.2 511.1,349.5 510.1,347.5 509.6,345.4" fill="#b8a42a" stroke="#6e5e18" stroke-width="1.0" stroke-linejoin="round" />
<polygon points="530.9,332.5 533,334 534.6,335.8 535.6,337.7 536.1,339.9 536.1,342 535.4,344.2 534.2,346.1 532.5,347.9 530.4,349.3 528,350.3 525.3,351 522.5,351.2 519.8,350.9 517.1,350.2 514.8,349.1 512.7,347.7 511.1,345.9 510.1,343.9 509.6,341.8 509.6,339.6 510.3,337.5 511.5,335.5 513.2,333.8 515.3,332.4 517.7,331.3 520.4,330.7 523.2,330.5 525.9,330.7 528.6,331.4" fill="#e6d826" stroke="#6e5e18" stroke-width="1.0" stroke-linejoin="round" />
<polygon points="528.3,335.2 529.7,336.2 530.8,337.4 531.5,338.7 531.9,340.2 531.8,341.6 531.4,343.1 530.6,344.4 529.4,345.6 528,346.6 526.3,347.3 524.5,347.7 522.6,347.8 520.8,347.7 519,347.2 517.4,346.5 516,345.5 514.9,344.3 514.2,342.9 513.8,341.5 513.9,340 514.3,338.6 515.1,337.2 516.3,336.1 517.7,335.1 519.4,334.4 521.2,333.9 523.1,333.8 524.9,334 526.7,334.4" fill="#d8c82a" stroke="#8a7a20" stroke-width="0.8" stroke-linejoin="round" />
<polygon points="414.4,417.2 448.6,437.2 448.6,448.2 414.4,428.2" fill="#b09628" stroke="#6c5c1a" stroke-width="1.0" stroke-linejoin="round" />
<polygon points="448.6,437.2 500.8,383.6 500.8,394.6 448.6,448.2" fill="#c4ab2e" stroke="#6c5c1a" stroke-width="1.0" stroke-linejoin="round" />
<polygon points="414.4,417.2 466.6,363.6 500.8,383.6 448.6,437.2" fill="#f0e11e" stroke="#6c5c1a" stroke-width="1.0" stroke-linejoin="round" />
<polygon points="414.4,384.2 448.6,404.2 448.6,437.2 414.4,417.2" fill="#b09628" stroke="#6c5c1a" stroke-width="1.0" stroke-linejoin="round" />
<polygon points="448.6,404.2 500.8,350.6 500.8,383.6 448.6,437.2" fill="#c4ab2e" stroke="#6c5c1a" stroke-width="1.0" stroke-linejoin="round" />
<polygon points="414.4,384.2 466.6,330.6 500.8,350.6 448.6,404.2" fill="#f0e11e" stroke="#6c5c1a" stroke-width="1.0" stroke-linejoin="round" />
<polygon points="431.3,378.2 431.3,376 432,373.9 433.2,371.9 434.9,370.2 437,368.8 439.4,367.7 442.1,367.1 444.9,366.9 447.6,367.1 450.3,367.8 452.6,368.9 454.7,370.4 456.2,372.2 457.3,374.1 457.8,376.3 457.8,379.9 457.8,382 457.1,384.1 455.9,386.1 454.2,387.8 452.1,389.3 449.7,390.3 447,391 444.2,391.2 441.5,390.9 438.8,390.2 436.5,389.1 434.4,387.6 432.9,385.9 431.8,383.9 431.3,381.8" fill="#b8a42a" stroke="#6e5e18" stroke-width="1.0" stroke-linejoin="round" />
<polygon points="452.6,368.9 454.7,370.4 456.3,372.2 457.3,374.1 457.8,376.3 457.8,378.4 457.1,380.6 455.9,382.5 454.2,384.3 452.1,385.7 449.7,386.7 447,387.4 444.2,387.6 441.5,387.3 438.8,386.6 436.5,385.5 434.4,384.1 432.8,382.3 431.8,380.3 431.3,378.2 431.3,376 432,373.9 433.2,371.9 434.9,370.2 437,368.8 439.4,367.7 442.1,367.1 444.9,366.9 447.6,367.1 450.3,367.8" fill="#e6d826" stroke="#6e5e18" stroke-width="1.0" stroke-linejoin="round" />
<polygon points="450,371.6 451.4,372.6 452.5,373.8 453.2,375.1 453.6,376.6 453.5,378 453.1,379.5 452.3,380.8 451.1,382 449.7,383 448,383.7 446.2,384.1 444.3,384.2 442.5,384.1 440.7,383.6 439.1,382.9 437.7,381.9 436.6,380.7 435.9,379.3 435.5,377.9 435.6,376.4 436,375 436.8,373.6 438,372.5 439.4,371.5 441.1,370.8 442.9,370.3 444.8,370.2 446.6,370.4 448.4,370.8" fill="#d8c82a" stroke="#8a7a20" stroke-width="0.8" stroke-linejoin="round" />
<polygon points="457.4,351.4 457.4,349.2 458.1,347.1 459.3,345.1 460.9,343.4 463.1,342 465.5,340.9 468.2,340.3 471,340.1 473.7,340.3 476.4,341 478.7,342.1 480.8,343.6 482.4,345.4 483.4,347.4 483.9,349.5 483.9,353.1 483.9,355.2 483.2,357.3 482,359.3 480.4,361 478.2,362.5 475.8,363.5 473.1,364.2 470.3,364.4 467.6,364.1 464.9,363.4 462.6,362.3 460.5,360.8 458.9,359.1 457.9,357.1 457.4,354.9" fill="#b8a42a" stroke="#6e5e18" stroke-width="1.0" stroke-linejoin="round" />
<polygon points="478.7,342.1 480.8,343.6 482.4,345.4 483.4,347.3 483.9,349.5 483.9,351.6 483.2,353.8 482,355.7 480.3,357.5 478.2,358.9 475.8,359.9 473.1,360.6 470.3,360.8 467.6,360.5 464.9,359.8 462.6,358.7 460.5,357.3 458.9,355.5 457.9,353.5 457.4,351.4 457.4,349.2 458.1,347.1 459.3,345.1 461,343.4 463.1,342 465.5,340.9 468.2,340.3 471,340.1 473.7,340.3 476.4,341" fill="#e6d826" stroke="#6e5e18" stroke-width="1.0" stroke-linejoin="round" />
<polygon points="476.1,344.8 477.5,345.8 478.6,347 479.3,348.3 479.7,349.8 479.6,351.2 479.2,352.7 478.4,354 477.2,355.2 475.8,356.2 474.1,356.9 472.3,357.3 470.4,357.4 468.6,357.3 466.8,356.8 465.2,356.1 463.8,355.1 462.7,353.9 462,352.5 461.6,351.1 461.7,349.6 462.1,348.2 462.9,346.8 464.1,345.7 465.5,344.7 467.2,344 469,343.5 470.9,343.4 472.7,343.6 474.5,344" fill="#d8c82a" stroke="#8a7a20" stroke-width="0.8" stroke-linejoin="round" />
<polygon points="482.5,385.3 482.4,383.8 481.9,382.6 481,382 479.9,381.8 478.6,382.2 477.1,383 475.5,384.3 473.9,386 472.3,388 470.8,390.2 469.5,392.6 468.4,395 467.5,397.3 467,399.5 466.9,401.4 467,402.9 467.5,404.1 468.4,404.7 469.5,404.9 470.8,404.5 472.3,403.7 473.9,402.4 475.5,400.7 477.1,398.7 478.6,396.5 479.9,394.1 481,391.7 481.9,389.4 482.4,387.2" fill="#c4ab2e" stroke="#6c5c1a" stroke-width="0.8" stroke-linejoin="round" />
<line x1="468.4" y1="399.8" x2="481" y2="386.9" stroke="#8a7a20" stroke-width="3.0" stroke-linecap="butt" />
<line x1="474.7" y1="399.9" x2="474.7" y2="386.7" stroke="#8a7a20" stroke-width="3.0" stroke-linecap="butt" />
<polygon points="515.1,392.9 515.4,390.1 516.2,386.9 517.4,383.4 519,379.7 521,376.2 523.3,372.8 525.7,369.8 528.1,367.3 530.5,365.4 532.8,364.1 534.8,363.6 536.4,363.8 540.5,366.2 541.7,367.2 542.5,368.9 542.8,371.2 542.5,374 541.7,377.3 540.5,380.8 538.9,384.4 536.9,387.9 534.6,391.3 532.2,394.3 529.8,396.8 527.4,398.8 525.1,400 523.1,400.5 521.5,400.3 517.4,397.9 516.2,396.9 515.4,395.2" fill="url(#g36)" stroke="#4e4c54" stroke-width="0.7" stroke-linejoin="round" />
<polygon points="542.7,371.2 542.5,368.9 541.7,367.2 540.5,366.2 538.9,366 536.9,366.5 534.6,367.8 532.2,369.7 529.8,372.2 527.4,375.2 525.1,378.6 523.1,382.1 521.5,385.7 520.3,389.2 519.5,392.5 519.3,395.3 519.5,397.6 520.3,399.3 521.5,400.3 523.1,400.5 525.1,400 527.4,398.8 529.8,396.8 532.2,394.3 534.6,391.3 536.9,387.9 538.9,384.4 540.5,380.8 541.7,377.3 542.5,374" fill="#aeaeb6" stroke="#4e4c54" stroke-width="0.7" stroke-linejoin="round" />
<polygon points="521.6,392.9 521.8,390.6 522.4,388.1 523.4,385.2 524.7,382.4 526.3,379.5 528.1,376.8 530,374.4 532,372.4 533.9,370.9 535.7,369.9 537.3,369.4 538.6,369.6 558.4,381.2 559.4,382 560,383.4 560.2,385.2 560,387.5 559.4,390.1 558.4,392.9 557.1,395.8 555.5,398.6 553.7,401.3 551.8,403.7 549.9,405.7 547.9,407.3 546.1,408.3 544.5,408.7 543.2,408.5 523.4,396.9 522.4,396.1 521.8,394.8" fill="url(#g37)" stroke="#4e4c54" stroke-width="0.6" stroke-linejoin="round" />
<polygon points="539.9,406.1 540.1,403.5 540.8,400.4 542,397.2 543.5,393.8 545.4,390.5 547.5,387.4 549.7,384.6 552,382.2 554.2,380.4 556.3,379.2 558.2,378.8 559.7,379 570,385 571.1,385.9 571.8,387.4 572.1,389.6 571.8,392.2 571.1,395.3 570,398.6 568.4,401.9 566.6,405.2 564.5,408.4 562.2,411.2 560,413.5 557.7,415.3 555.6,416.5 553.8,417 552.2,416.8 542,410.8 540.8,409.8 540.1,408.3" fill="url(#g38)" stroke="#4a4650" stroke-width="0.7" stroke-linejoin="round" />
<polygon points="572.1,389.6 571.8,387.5 571.1,385.9 570,385 568.4,384.7 566.6,385.2 564.5,386.4 562.2,388.2 560,390.6 557.7,393.4 555.6,396.5 553.8,399.8 552.2,403.2 551.1,406.4 550.4,409.5 550.1,412.1 550.4,414.3 551.1,415.8 552.2,416.8 553.8,417 555.6,416.5 557.7,415.3 560,413.5 562.2,411.2 564.5,408.4 566.6,405.2 568.4,401.9 570,398.5 571.1,395.3 571.8,392.3" fill="#9a96a0" stroke="#4a4650" stroke-width="0.7" stroke-linejoin="round" />
<polygon points="551.6,407.9 551.7,406 552.2,403.9 553.1,401.5 554.1,399.1 555.5,396.7 557,394.5 558.6,392.5 560.2,390.8 561.8,389.5 563.3,388.7 564.6,388.4 565.7,388.5 591.4,403.5 592.2,404.2 592.7,405.3 592.9,406.8 592.7,408.7 592.2,410.9 591.4,413.2 590.3,415.6 589,418 587.5,420.2 585.9,422.2 584.2,423.9 582.6,425.2 581.1,426 579.8,426.4 578.7,426.2 553.1,411.2 552.2,410.6 551.7,409.4" fill="url(#g39)" stroke="#0c5418" stroke-width="0.6" stroke-linejoin="round" />
<line x1="562.4" y1="394.7" x2="588.1" y2="409.7" stroke="#4cc050" stroke-width="1.4" stroke-linecap="butt" />
<line x1="560.3" y1="398.3" x2="585.9" y2="413.3" stroke="#0c5418" stroke-width="1.6" stroke-linecap="butt" />
<line x1="557.6" y1="403" x2="583.2" y2="418" stroke="#0c5418" stroke-width="1.6" stroke-linecap="butt" />
<line x1="559.1" y1="400.4" x2="584.7" y2="415.4" stroke="#4cc050" stroke-width="1.0" stroke-linecap="butt" />
<polygon points="592.9,406.8 592.7,405.3 592.2,404.2 591.4,403.5 590.3,403.4 589,403.7 587.5,404.5 585.9,405.8 584.2,407.5 582.6,409.5 581.1,411.7 579.8,414.1 578.7,416.5 577.9,418.9 577.4,421 577.2,422.9 577.4,424.4 577.9,425.6 578.7,426.2 579.8,426.4 581.1,426 582.6,425.2 584.2,423.9 585.9,422.2 587.5,420.2 589,418 590.3,415.6 591.4,413.2 592.2,410.9 592.7,408.7" fill="#28963a" stroke="#0c5418" stroke-width="0.8" stroke-linejoin="round" />
<line x1="578" y1="422.1" x2="592.1" y2="407.6" stroke="#0c5418" stroke-width="2.0" stroke-linecap="butt" />
<line x1="585" y1="422.3" x2="585" y2="407.4" stroke="#0c5418" stroke-width="2.0" stroke-linecap="butt" />
<polygon points="556.5,440.3 557.1,434 558.8,426.8 561.5,419 565.2,411 569.6,403.1 574.6,395.6 579.9,388.9 585.4,383.3 590.7,379 595.7,376.2 600.1,375.1 603.8,375.6 606.5,377.8 674.4,444.8 675.2,446.5 675.5,448.8 675.2,451.6 674.4,454.9 673.2,458.4 671.6,462 669.6,465.6 667.3,468.9 664.9,471.9 662.5,474.4 660.1,476.4 657.8,477.6 655.8,478.1 654.2,477.9 561.5,451.3 558.8,449.1 557.1,445.4" fill="url(#g40)" stroke="#760a10" stroke-width="0.7" stroke-linejoin="round" />
<polygon points="675.4,448.8 675.2,446.5 674.4,444.8 673.2,443.8 671.6,443.6 669.6,444.1 667.3,445.4 664.9,447.3 662.5,449.8 660.1,452.8 657.8,456.2 655.8,459.7 654.2,463.3 653,466.8 652.2,470.1 652,472.9 652.2,475.2 653,476.9 654.2,477.9 655.8,478.1 657.8,477.6 660.1,476.4 662.5,474.4 664.9,471.9 667.3,468.9 669.6,465.5 671.6,462 673.2,458.4 674.4,454.9 675.2,451.6" fill="#de1c24" stroke="#760a10" stroke-width="0.8" stroke-linejoin="round" />
<polygon points="671.5,452.8 671.4,451.3 670.9,450.2 670,449.5 668.9,449.4 667.6,449.7 666.1,450.5 664.5,451.8 662.9,453.5 661.3,455.5 659.8,457.7 658.5,460.1 657.4,462.5 656.5,464.9 656,467 655.9,468.9 656,470.4 656.5,471.6 657.4,472.2 658.5,472.4 659.8,472 661.3,471.2 662.9,469.9 664.5,468.2 666.1,466.2 667.6,464 668.9,461.6 670,459.2 670.9,456.9 671.4,454.7" fill="#b81212" stroke="#760a10" stroke-width="0.8" stroke-linejoin="round" />
<polygon points="668.4,456 668.3,455.1 668,454.4 667.5,454.1 666.8,454 666,454.2 665.2,454.7 664.2,455.4 663.2,456.4 662.2,457.6 661.4,459 660.6,460.4 659.9,461.9 659.4,463.3 659.1,464.6 659,465.7 659.1,466.6 659.4,467.3 659.9,467.7 660.6,467.8 661.4,467.6 662.2,467.1 663.2,466.3 664.2,465.3 665.2,464.1 666,462.7 666.8,461.3 667.5,459.9 668,458.5 668.3,457.2" fill="#e83030" />
<polygon points="411.7,501.9 412,498.9 412.8,495.4 414.1,491.7 415.8,487.9 417.9,484.1 420.3,480.5 422.9,477.3 425.5,474.6 428.1,472.5 430.5,471.2 432.6,470.6 434.4,470.9 500,509.3 501.3,510.3 502.1,512.1 502.4,514.6 502.1,517.6 501.3,521.1 500,524.8 498.3,528.7 496.1,532.5 493.8,536 491.2,539.2 488.6,541.9 486,544 483.6,545.3 481.5,545.9 479.7,545.6 414.1,507.2 412.8,506.2 412,504.4" fill="url(#g41)" stroke="#760a10" stroke-width="0.7" stroke-linejoin="round" />
<polygon points="502.4,514.6 502.1,512.1 501.3,510.3 500,509.3 498.3,509 496.1,509.6 493.7,510.9 491.2,513 488.6,515.7 486,518.9 483.6,522.5 481.5,526.3 479.7,530.1 478.4,533.8 477.6,537.3 477.3,540.3 477.6,542.8 478.4,544.6 479.7,545.6 481.5,545.9 483.6,545.3 486,544 488.6,541.9 491.2,539.2 493.7,536 496.1,532.5 498.3,528.7 500,524.8 501.3,521.1 502.1,517.6" fill="#de1c24" stroke="#760a10" stroke-width="0.7" stroke-linejoin="round" />
<polygon points="498.5,518.6 498.3,516.9 497.7,515.7 496.8,515 495.6,514.8 494.2,515.2 492.5,516.1 490.8,517.5 489,519.4 487.2,521.6 485.6,524 484.1,526.6 482.9,529.3 482,531.9 481.4,534.2 481.3,536.3 481.4,538 482,539.2 482.9,540 484.1,540.1 485.6,539.7 487.2,538.8 489,537.4 490.8,535.6 492.5,533.4 494.2,530.9 495.6,528.3 496.8,525.6 497.7,523.1 498.3,520.7" fill="#b81212" stroke="#760a10" stroke-width="0.8" stroke-linejoin="round" />
<polygon points="495.6,521.6 495.5,520.4 495.1,519.6 494.5,519.1 493.7,519 492.7,519.3 491.6,519.9 490.5,520.8 489.3,522.1 488.1,523.5 487,525.2 486,526.9 485.2,528.7 484.6,530.4 484.3,532 484.1,533.4 484.3,534.5 484.6,535.3 485.2,535.8 486,535.9 487,535.6 488.1,535 489.3,534.1 490.5,532.9 491.6,531.4 492.7,529.8 493.7,528 494.5,526.2 495.1,524.5 495.5,523" fill="#e02828" stroke="#760a10" stroke-width="0.6" stroke-linejoin="round" />
<use href="#bb" transform="translate(313.3,755.6)"/>
<polygon points="418.8,674.4 418.9,672.7 419.4,670.7 420.1,668.6 421.1,666.5 422.3,664.3 423.6,662.3 425.1,660.5 426.5,659 428,657.9 429.3,657.1 430.5,656.8 431.5,656.9 498.2,695.9 498.9,696.5 499.4,697.5 499.5,698.9 499.4,700.6 498.9,702.6 498.2,704.7 497.2,706.8 496,709 494.7,711 493.2,712.8 491.8,714.3 490.3,715.5 489,716.2 487.8,716.5 486.8,716.4 420.1,677.4 419.4,676.8 418.9,675.8" fill="url(#g68)" stroke="#030303" stroke-width="0.6" stroke-linejoin="round" />
<line x1="428.5" y1="662.5" x2="495.2" y2="701.5" stroke="#3c3c3c" stroke-width="1.4" stroke-linecap="butt" />
<line x1="426.6" y1="665.8" x2="493.3" y2="704.8" stroke="#030303" stroke-width="1.6" stroke-linecap="butt" />
<line x1="424.2" y1="669.9" x2="490.9" y2="708.9" stroke="#030303" stroke-width="1.6" stroke-linecap="butt" />
<line x1="425.5" y1="667.6" x2="492.2" y2="706.6" stroke="#3c3c3c" stroke-width="1.0" stroke-linecap="butt" />
<polygon points="499.5,698.9 499.4,697.5 498.9,696.5 498.2,695.9 497.2,695.8 496,696.1 494.7,696.9 493.2,698 491.8,699.5 490.3,701.3 489,703.3 487.8,705.5 486.8,707.6 486.1,709.7 485.6,711.7 485.4,713.4 485.6,714.8 486.1,715.8 486.8,716.4 487.8,716.5 489,716.2 490.3,715.4 491.8,714.3 493.2,712.8 494.7,711 496,709 497.2,706.8 498.2,704.7 498.9,702.6 499.4,700.6" fill="#1c1c1c" stroke="#030303" stroke-width="0.8" stroke-linejoin="round" />
<line x1="486.1" y1="712.7" x2="498.8" y2="699.6" stroke="#030303" stroke-width="2.0" stroke-linecap="butt" />
<line x1="492.5" y1="712.8" x2="492.5" y2="699.5" stroke="#030303" stroke-width="2.0" stroke-linecap="butt" />
<use href="#bf" transform="translate(313.3,755.6)"/>
<use href="#bb" transform="translate(1025.2,180.2)"/>
<use href="#bkl" transform="translate(1025.2,180.2)"/>
<use href="#bku" transform="translate(1025.2,180.2)"/>
<use href="#bf" transform="translate(1025.2,180.2)"/>
<use href="#bb" transform="translate(1025.2,569)"/>
<use href="#bkl" transform="translate(1025.2,569)"/>
<use href="#bt" transform="translate(1025.2,569)"/>
<use href="#bku" transform="translate(1025.2,569)"/>
<use href="#bf" transform="translate(1025.2,569)"/>
<use href="#bb" transform="translate(1017,959)"/>
<use href="#bkl" transform="translate(1017,959)"/>
<use href="#bt" transform="translate(1017,959)"/>
<use href="#bku" transform="translate(1017,959)"/>
<polygon points="1293.5,977.8 1293.6,976.1 1294.1,974.1 1294.8,972 1295.8,969.9 1297,967.7 1298.3,965.7 1299.8,963.9 1301.2,962.4 1302.7,961.2 1304,960.5 1305.2,960.2 1306.2,960.3 1347.2,984.3 1348,984.9 1348.4,985.9 1348.6,987.3 1348.4,989 1348,991 1347.2,993.1 1346.3,995.2 1345.1,997.4 1343.7,999.4 1342.3,1001.2 1340.8,1002.7 1339.4,1003.9 1338,1004.6 1336.8,1004.9 1335.8,1004.8 1294.8,980.8 1294.1,980.2 1293.6,979.2" fill="url(#g69)" stroke="#030303" stroke-width="0.6" stroke-linejoin="round" />
<line x1="1303.2" y1="965.9" x2="1344.3" y2="989.9" stroke="#3c3c3c" stroke-width="1.4" stroke-linecap="butt" />
<line x1="1301.3" y1="969.2" x2="1342.4" y2="993.2" stroke="#030303" stroke-width="1.6" stroke-linecap="butt" />
<line x1="1298.9" y1="973.3" x2="1339.9" y2="997.3" stroke="#030303" stroke-width="1.6" stroke-linecap="butt" />
<line x1="1300.2" y1="971" x2="1341.3" y2="995" stroke="#3c3c3c" stroke-width="1.0" stroke-linecap="butt" />
<polygon points="1348.6,987.3 1348.4,985.9 1348,984.9 1347.2,984.3 1346.3,984.2 1345.1,984.5 1343.7,985.3 1342.3,986.4 1340.8,987.9 1339.4,989.7 1338,991.7 1336.8,993.9 1335.8,996 1335.1,998.1 1334.6,1000.1 1334.5,1001.8 1334.6,1003.2 1335.1,1004.2 1335.8,1004.8 1336.8,1004.9 1338,1004.6 1339.4,1003.8 1340.8,1002.7 1342.3,1001.2 1343.7,999.4 1345.1,997.4 1346.3,995.2 1347.2,993.1 1348,991 1348.4,989" fill="#1c1c1c" stroke="#030303" stroke-width="0.8" stroke-linejoin="round" />
<line x1="1335.2" y1="1001.1" x2="1347.9" y2="988" stroke="#030303" stroke-width="2.0" stroke-linecap="butt" />
<line x1="1341.5" y1="1001.2" x2="1341.5" y2="987.9" stroke="#030303" stroke-width="2.0" stroke-linecap="butt" />
<use href="#bf" transform="translate(1017,959)"/>
<polygon points="1258.8,1103 1293,1123 1293,1156 1258.8,1136" fill="#b09628" stroke="#6c5c1a" stroke-width="1.0" stroke-linejoin="round" />
<polygon points="1293,1123 1449.6,962.2 1449.6,995.2 1293,1156" fill="#c4ab2e" stroke="#6c5c1a" stroke-width="1.0" stroke-linejoin="round" />
<polygon points="1258.8,1103 1415.4,942.2 1449.6,962.2 1293,1123" fill="#f0e11e" stroke="#6c5c1a" stroke-width="1.0" stroke-linejoin="round" />
<polygon points="1355.1,1072.3 1354.9,1070.3 1354.3,1068.9 1353.2,1068.1 1351.8,1067.9 1350.2,1068.3 1348.3,1069.4 1346.2,1071 1344.2,1073.1 1342.1,1075.7 1340.2,1078.5 1338.6,1081.5 1337.2,1084.6 1336.1,1087.5 1335.5,1090.3 1335.3,1092.6 1335.5,1094.6 1336.1,1096 1337.2,1096.8 1338.6,1097 1340.2,1096.6 1342.1,1095.5 1344.2,1093.9 1346.2,1091.8 1348.3,1089.3 1350.2,1086.4 1351.8,1083.4 1353.2,1080.4 1354.3,1077.4 1354.9,1074.7" fill="#c2aa2c" stroke="#6e5e1c" stroke-width="0.8" stroke-linejoin="round" />
<polygon points="1352.2,1075.2 1352.1,1073.8 1351.6,1072.8 1350.9,1072.2 1349.9,1072.1 1348.7,1072.4 1347.4,1073.2 1345.9,1074.3 1344.5,1075.8 1343,1077.6 1341.7,1079.7 1340.5,1081.8 1339.5,1084 1338.8,1086.1 1338.3,1088 1338.2,1089.7 1338.3,1091.1 1338.8,1092.1 1339.5,1092.7 1340.5,1092.8 1341.7,1092.5 1343,1091.8 1344.5,1090.6 1345.9,1089.1 1347.4,1087.3 1348.7,1085.3 1349.9,1083.1 1350.9,1081 1351.6,1078.9 1352.1,1076.9" fill="#a08a20" stroke="#6e5e1c" stroke-width="0.7" stroke-linejoin="round" />
<polygon points="1351.7,1077.1 1351.6,1076.1 1351.3,1075.4 1350.7,1074.9 1350,1074.8 1349.1,1075.1 1348.1,1075.6 1347.1,1076.5 1346,1077.6 1344.9,1078.9 1343.9,1080.4 1343,1082 1342.3,1083.6 1341.7,1085.2 1341.4,1086.6 1341.3,1087.9 1341.4,1088.9 1341.7,1089.6 1342.3,1090.1 1343,1090.2 1343.9,1089.9 1344.9,1089.4 1346,1088.5 1347.1,1087.4 1348.1,1086.1 1349.1,1084.6 1350,1083 1350.7,1081.4 1351.3,1079.8 1351.6,1078.4" fill="#e0cc2a" />
<polygon points="1381.2,1045.5 1381,1043.5 1380.4,1042.1 1379.3,1041.3 1377.9,1041.1 1376.3,1041.5 1374.4,1042.6 1372.3,1044.2 1370.3,1046.3 1368.2,1048.9 1366.3,1051.7 1364.7,1054.7 1363.3,1057.8 1362.2,1060.7 1361.6,1063.5 1361.4,1065.8 1361.6,1067.8 1362.2,1069.2 1363.3,1070 1364.7,1070.2 1366.3,1069.8 1368.2,1068.7 1370.3,1067.1 1372.3,1065 1374.4,1062.5 1376.3,1059.6 1377.9,1056.6 1379.3,1053.6 1380.4,1050.6 1381,1047.9" fill="#c2aa2c" stroke="#6e5e1c" stroke-width="0.8" stroke-linejoin="round" />
<polygon points="1378.3,1048.4 1378.2,1047 1377.7,1046 1377,1045.4 1376,1045.3 1374.8,1045.6 1373.5,1046.4 1372,1047.5 1370.6,1049 1369.1,1050.8 1367.8,1052.9 1366.6,1055 1365.6,1057.2 1364.9,1059.3 1364.4,1061.2 1364.3,1062.9 1364.4,1064.3 1364.9,1065.3 1365.6,1065.9 1366.6,1066 1367.8,1065.7 1369.1,1065 1370.6,1063.8 1372,1062.3 1373.5,1060.5 1374.8,1058.5 1376,1056.3 1377,1054.2 1377.7,1052.1 1378.2,1050.1" fill="#a08a20" stroke="#6e5e1c" stroke-width="0.7" stroke-linejoin="round" />
<polygon points="1377.8,1050.3 1377.7,1049.3 1377.4,1048.6 1376.8,1048.1 1376.1,1048 1375.2,1048.3 1374.2,1048.8 1373.2,1049.7 1372.1,1050.8 1371,1052.1 1370,1053.6 1369.1,1055.2 1368.4,1056.8 1367.8,1058.4 1367.5,1059.8 1367.4,1061.1 1367.5,1062.1 1367.8,1062.8 1368.4,1063.3 1369.1,1063.4 1370,1063.1 1371,1062.6 1372.1,1061.7 1373.2,1060.6 1374.2,1059.3 1375.2,1057.8 1376.1,1056.2 1376.8,1054.6 1377.4,1053 1377.7,1051.6" fill="#e0cc2a" />
<polygon points="1407.3,1018.7 1407.1,1016.7 1406.5,1015.3 1405.4,1014.5 1404,1014.3 1402.4,1014.7 1400.5,1015.8 1398.4,1017.4 1396.4,1019.5 1394.3,1022.1 1392.4,1024.9 1390.8,1027.9 1389.4,1031 1388.3,1033.9 1387.7,1036.7 1387.5,1039 1387.7,1041 1388.3,1042.4 1389.4,1043.2 1390.8,1043.4 1392.4,1043 1394.3,1041.9 1396.4,1040.3 1398.4,1038.2 1400.5,1035.7 1402.4,1032.8 1404,1029.8 1405.4,1026.8 1406.5,1023.8 1407.1,1021.1" fill="#c2aa2c" stroke="#6e5e1c" stroke-width="0.8" stroke-linejoin="round" />
<polygon points="1404.4,1021.6 1404.3,1020.2 1403.8,1019.2 1403.1,1018.6 1402.1,1018.5 1400.9,1018.8 1399.6,1019.6 1398.1,1020.7 1396.7,1022.2 1395.2,1024 1393.9,1026.1 1392.7,1028.2 1391.7,1030.4 1391,1032.5 1390.5,1034.4 1390.4,1036.1 1390.5,1037.5 1391,1038.5 1391.7,1039.1 1392.7,1039.2 1393.9,1038.9 1395.2,1038.2 1396.7,1037 1398.1,1035.5 1399.6,1033.7 1400.9,1031.7 1402.1,1029.5 1403.1,1027.4 1403.8,1025.3 1404.3,1023.3" fill="#a08a20" stroke="#6e5e1c" stroke-width="0.7" stroke-linejoin="round" />
<polygon points="1403.9,1023.5 1403.8,1022.5 1403.5,1021.8 1402.9,1021.3 1402.2,1021.2 1401.3,1021.5 1400.3,1022 1399.3,1022.9 1398.2,1024 1397.1,1025.3 1396.1,1026.8 1395.2,1028.4 1394.5,1030 1393.9,1031.6 1393.6,1033 1393.5,1034.3 1393.6,1035.3 1393.9,1036 1394.5,1036.5 1395.2,1036.6 1396.1,1036.3 1397.1,1035.8 1398.2,1034.9 1399.3,1033.8 1400.3,1032.5 1401.3,1031 1402.2,1029.4 1402.9,1027.8 1403.5,1026.2 1403.8,1024.8" fill="#e0cc2a" />
<polygon points="1275.7,1097 1275.7,1094.8 1276.4,1092.7 1277.6,1090.7 1279.2,1089 1281.4,1087.6 1283.8,1086.5 1286.5,1085.9 1289.3,1085.7 1292,1085.9 1294.7,1086.6 1297,1087.7 1299.1,1089.2 1300.7,1091 1301.7,1093 1302.2,1095.1 1302.2,1098.7 1302.2,1100.8 1301.5,1102.9 1300.3,1104.9 1298.7,1106.6 1296.5,1108.1 1294.1,1109.1 1291.4,1109.8 1288.6,1110 1285.9,1109.7 1283.2,1109 1280.9,1107.9 1278.8,1106.4 1277.2,1104.7 1276.2,1102.7 1275.7,1100.5" fill="#b8a42a" stroke="#6e5e18" stroke-width="1.0" stroke-linejoin="round" />
<polygon points="1297,1087.7 1299.1,1089.2 1300.7,1091 1301.7,1092.9 1302.2,1095.1 1302.2,1097.2 1301.5,1099.4 1300.3,1101.3 1298.6,1103.1 1296.5,1104.5 1294.1,1105.5 1291.4,1106.2 1288.6,1106.4 1285.9,1106.1 1283.2,1105.4 1280.9,1104.3 1278.8,1102.9 1277.2,1101.1 1276.2,1099.1 1275.7,1097 1275.7,1094.8 1276.4,1092.7 1277.6,1090.7 1279.3,1089 1281.4,1087.6 1283.8,1086.5 1286.5,1085.9 1289.3,1085.7 1292,1085.9 1294.7,1086.6" fill="#e6d826" stroke="#6e5e18" stroke-width="1.0" stroke-linejoin="round" />
<polygon points="1294.4,1090.4 1295.8,1091.4 1296.9,1092.6 1297.6,1093.9 1298,1095.4 1297.9,1096.8 1297.5,1098.3 1296.7,1099.6 1295.5,1100.8 1294.1,1101.8 1292.4,1102.5 1290.6,1102.9 1288.7,1103 1286.9,1102.9 1285.1,1102.4 1283.5,1101.7 1282.1,1100.7 1281,1099.5 1280.3,1098.1 1279.9,1096.7 1280,1095.2 1280.4,1093.8 1281.2,1092.4 1282.4,1091.3 1283.8,1090.3 1285.5,1089.6 1287.3,1089.1 1289.2,1089 1291,1089.2 1292.8,1089.6" fill="#d8c82a" stroke="#8a7a20" stroke-width="0.8" stroke-linejoin="round" />
<polygon points="1301.8,1070.2 1301.8,1068 1302.5,1065.9 1303.7,1063.9 1305.3,1062.2 1307.5,1060.8 1309.9,1059.7 1312.6,1059.1 1315.4,1058.9 1318.1,1059.1 1320.8,1059.8 1323.1,1060.9 1325.2,1062.4 1326.8,1064.2 1327.8,1066.2 1328.3,1068.3 1328.3,1071.8 1328.3,1074 1327.6,1076.1 1326.4,1078.1 1324.8,1079.8 1322.6,1081.3 1320.2,1082.3 1317.5,1083 1314.7,1083.2 1312,1082.9 1309.3,1082.2 1307,1081.1 1304.9,1079.6 1303.3,1077.9 1302.3,1075.9 1301.8,1073.8" fill="#b8a42a" stroke="#6e5e18" stroke-width="1.0" stroke-linejoin="round" />
<polygon points="1323.1,1060.9 1325.2,1062.4 1326.8,1064.2 1327.8,1066.1 1328.3,1068.3 1328.3,1070.4 1327.6,1072.6 1326.4,1074.5 1324.7,1076.3 1322.6,1077.7 1320.2,1078.7 1317.5,1079.4 1314.7,1079.6 1312,1079.3 1309.3,1078.6 1307,1077.5 1304.9,1076.1 1303.3,1074.3 1302.3,1072.3 1301.8,1070.2 1301.8,1068 1302.5,1065.9 1303.7,1063.9 1305.4,1062.2 1307.5,1060.8 1309.9,1059.7 1312.6,1059.1 1315.4,1058.9 1318.1,1059.1 1320.8,1059.8" fill="#e6d826" stroke="#6e5e18" stroke-width="1.0" stroke-linejoin="round" />
<polygon points="1320.5,1063.6 1321.9,1064.6 1323,1065.8 1323.7,1067.1 1324.1,1068.6 1324,1070 1323.6,1071.5 1322.8,1072.8 1321.6,1074 1320.2,1075 1318.5,1075.7 1316.7,1076.1 1314.8,1076.2 1313,1076.1 1311.2,1075.6 1309.6,1074.9 1308.2,1073.9 1307.1,1072.7 1306.4,1071.3 1306,1069.9 1306.1,1068.4 1306.5,1067 1307.3,1065.6 1308.5,1064.5 1309.9,1063.5 1311.6,1062.8 1313.4,1062.3 1315.3,1062.2 1317.1,1062.4 1318.9,1062.8" fill="#d8c82a" stroke="#8a7a20" stroke-width="0.8" stroke-linejoin="round" />
<polygon points="1327.9,1043.4 1327.9,1041.2 1328.6,1039.1 1329.8,1037.1 1331.5,1035.4 1333.6,1034 1336,1032.9 1338.7,1032.3 1341.5,1032.1 1344.2,1032.3 1346.9,1033 1349.2,1034.1 1351.3,1035.6 1352.8,1037.4 1353.9,1039.3 1354.4,1041.5 1354.4,1045 1354.4,1047.2 1353.7,1049.3 1352.5,1051.3 1350.8,1053 1348.7,1054.5 1346.3,1055.5 1343.6,1056.2 1340.8,1056.4 1338.1,1056.1 1335.4,1055.4 1333.1,1054.3 1331,1052.8 1329.5,1051.1 1328.4,1049.1 1327.9,1047" fill="#b8a42a" stroke="#6e5e18" stroke-width="1.0" stroke-linejoin="round" />
<polygon points="1349.2,1034.1 1351.3,1035.6 1352.9,1037.4 1353.9,1039.3 1354.4,1041.5 1354.4,1043.6 1353.7,1045.8 1352.5,1047.7 1350.8,1049.5 1348.7,1050.9 1346.3,1051.9 1343.6,1052.6 1340.8,1052.8 1338.1,1052.5 1335.4,1051.8 1333.1,1050.7 1331,1049.3 1329.4,1047.5 1328.4,1045.5 1327.9,1043.4 1327.9,1041.2 1328.6,1039.1 1329.8,1037.1 1331.5,1035.4 1333.6,1034 1336,1032.9 1338.7,1032.3 1341.5,1032.1 1344.2,1032.3 1346.9,1033" fill="#e6d826" stroke="#6e5e18" stroke-width="1.0" stroke-linejoin="round" />
<polygon points="1346.6,1036.8 1348,1037.8 1349.1,1039 1349.8,1040.3 1350.2,1041.8 1350.1,1043.2 1349.7,1044.7 1348.9,1046 1347.7,1047.2 1346.3,1048.2 1344.6,1048.9 1342.8,1049.3 1340.9,1049.4 1339.1,1049.3 1337.3,1048.8 1335.7,1048.1 1334.3,1047.1 1333.2,1045.9 1332.5,1044.5 1332.1,1043.1 1332.2,1041.6 1332.6,1040.2 1333.4,1038.8 1334.6,1037.7 1336,1036.7 1337.7,1036 1339.5,1035.5 1341.4,1035.4 1343.2,1035.6 1345,1036" fill="#d8c82a" stroke="#8a7a20" stroke-width="0.8" stroke-linejoin="round" />
<polygon points="1354,1016.6 1354,1014.4 1354.7,1012.3 1355.9,1010.3 1357.5,1008.6 1359.7,1007.2 1362.1,1006.1 1364.8,1005.5 1367.6,1005.3 1370.3,1005.5 1373,1006.2 1375.3,1007.3 1377.4,1008.8 1379,1010.6 1380,1012.5 1380.5,1014.7 1380.5,1018.2 1380.5,1020.4 1379.8,1022.5 1378.6,1024.5 1377,1026.2 1374.8,1027.7 1372.4,1028.7 1369.7,1029.4 1366.9,1029.6 1364.2,1029.3 1361.5,1028.6 1359.2,1027.5 1357.1,1026 1355.5,1024.3 1354.5,1022.3 1354,1020.1" fill="#b8a42a" stroke="#6e5e18" stroke-width="1.0" stroke-linejoin="round" />
<polygon points="1375.3,1007.3 1377.4,1008.8 1379,1010.6 1380,1012.5 1380.5,1014.7 1380.5,1016.8 1379.8,1019 1378.6,1020.9 1376.9,1022.7 1374.8,1024.1 1372.4,1025.1 1369.7,1025.8 1366.9,1026 1364.2,1025.7 1361.5,1025 1359.2,1023.9 1357.1,1022.5 1355.5,1020.7 1354.5,1018.7 1354,1016.6 1354,1014.4 1354.7,1012.3 1355.9,1010.3 1357.6,1008.6 1359.7,1007.2 1362.1,1006.1 1364.8,1005.5 1367.6,1005.3 1370.3,1005.5 1373,1006.2" fill="#e6d826" stroke="#6e5e18" stroke-width="1.0" stroke-linejoin="round" />
<polygon points="1372.7,1010 1374.1,1011 1375.2,1012.2 1375.9,1013.5 1376.3,1015 1376.2,1016.4 1375.8,1017.9 1375,1019.2 1373.8,1020.4 1372.4,1021.4 1370.7,1022.1 1368.9,1022.5 1367,1022.6 1365.2,1022.5 1363.4,1022 1361.8,1021.3 1360.4,1020.3 1359.3,1019.1 1358.6,1017.7 1358.2,1016.3 1358.3,1014.8 1358.7,1013.4 1359.5,1012 1360.7,1010.9 1362.1,1009.9 1363.8,1009.2 1365.6,1008.7 1367.5,1008.6 1369.3,1008.8 1371.1,1009.2" fill="#d8c82a" stroke="#8a7a20" stroke-width="0.8" stroke-linejoin="round" />
<polygon points="1380.1,989.8 1380.1,987.6 1380.8,985.5 1382,983.5 1383.7,981.8 1385.8,980.4 1388.2,979.3 1390.9,978.7 1393.7,978.5 1396.4,978.7 1399.1,979.4 1401.4,980.5 1403.5,982 1405,983.8 1406.1,985.8 1406.6,987.9 1406.6,991.5 1406.6,993.6 1405.9,995.7 1404.7,997.7 1403,999.4 1400.9,1000.9 1398.5,1001.9 1395.8,1002.6 1393,1002.8 1390.3,1002.5 1387.6,1001.8 1385.3,1000.7 1383.2,999.2 1381.7,997.5 1380.6,995.5 1380.1,993.4" fill="#b8a42a" stroke="#6e5e18" stroke-width="1.0" stroke-linejoin="round" />
<polygon points="1401.4,980.5 1403.5,982 1405.1,983.8 1406.1,985.7 1406.6,987.9 1406.6,990 1405.9,992.2 1404.7,994.1 1403,995.9 1400.9,997.3 1398.5,998.3 1395.8,999 1393,999.2 1390.3,998.9 1387.6,998.2 1385.3,997.1 1383.2,995.7 1381.6,993.9 1380.6,991.9 1380.1,989.8 1380.1,987.6 1380.8,985.5 1382,983.5 1383.7,981.8 1385.8,980.4 1388.2,979.3 1390.9,978.7 1393.7,978.5 1396.4,978.7 1399.1,979.4" fill="#e6d826" stroke="#6e5e18" stroke-width="1.0" stroke-linejoin="round" />
<polygon points="1398.8,983.2 1400.2,984.2 1401.3,985.4 1402,986.7 1402.4,988.2 1402.3,989.6 1401.9,991.1 1401.1,992.4 1399.9,993.6 1398.5,994.6 1396.8,995.3 1395,995.7 1393.1,995.8 1391.3,995.7 1389.5,995.2 1387.9,994.5 1386.5,993.5 1385.4,992.3 1384.7,990.9 1384.3,989.5 1384.4,988 1384.8,986.6 1385.6,985.2 1386.8,984.1 1388.2,983.1 1389.9,982.4 1391.7,981.9 1393.6,981.8 1395.4,982 1397.2,982.4" fill="#d8c82a" stroke="#8a7a20" stroke-width="0.8" stroke-linejoin="round" />
<polygon points="1406.2,963 1406.2,960.8 1406.9,958.7 1408.1,956.7 1409.8,955 1411.9,953.6 1414.3,952.5 1417,951.9 1419.8,951.7 1422.5,951.9 1425.2,952.6 1427.5,953.7 1429.6,955.2 1431.2,957 1432.2,959 1432.7,961.1 1432.7,964.6 1432.7,966.8 1432,968.9 1430.8,970.9 1429.2,972.6 1427,974.1 1424.6,975.1 1421.9,975.8 1419.1,976 1416.4,975.7 1413.7,975 1411.4,973.9 1409.3,972.4 1407.8,970.7 1406.7,968.7 1406.2,966.5" fill="#b8a42a" stroke="#6e5e18" stroke-width="1.0" stroke-linejoin="round" />
<polygon points="1427.5,953.7 1429.6,955.2 1431.2,957 1432.2,958.9 1432.7,961.1 1432.7,963.2 1432,965.4 1430.8,967.3 1429.1,969.1 1427,970.5 1424.6,971.5 1421.9,972.2 1419.1,972.4 1416.4,972.1 1413.7,971.4 1411.4,970.3 1409.3,968.9 1407.7,967.1 1406.7,965.1 1406.2,963 1406.2,960.8 1406.9,958.7 1408.1,956.7 1409.8,955 1411.9,953.6 1414.3,952.5 1417,951.9 1419.8,951.7 1422.5,951.9 1425.2,952.6" fill="#e6d826" stroke="#6e5e18" stroke-width="1.0" stroke-linejoin="round" />
<polygon points="1424.9,956.4 1426.3,957.4 1427.4,958.6 1428.1,959.9 1428.5,961.4 1428.4,962.8 1428,964.3 1427.2,965.6 1426,966.8 1424.6,967.8 1422.9,968.5 1421.1,968.9 1419.2,969 1417.4,968.9 1415.6,968.4 1414,967.7 1412.6,966.7 1411.5,965.5 1410.8,964.1 1410.4,962.7 1410.5,961.2 1410.9,959.8 1411.7,958.4 1412.9,957.3 1414.3,956.3 1416,955.6 1417.8,955.1 1419.7,955 1421.5,955.2 1423.3,955.6" fill="#d8c82a" stroke="#8a7a20" stroke-width="0.8" stroke-linejoin="round" />
<polygon points="1433.4,991.9 1433.2,989.9 1432.6,988.5 1431.5,987.7 1430.1,987.5 1428.5,987.9 1426.6,989 1424.5,990.6 1422.5,992.7 1420.4,995.3 1418.5,998.1 1416.9,1001.1 1415.5,1004.2 1414.4,1007.1 1413.8,1009.9 1413.6,1012.2 1413.8,1014.2 1414.4,1015.6 1415.5,1016.4 1416.9,1016.6 1418.5,1016.2 1420.4,1015.1 1422.5,1013.5 1424.5,1011.4 1426.6,1008.9 1428.5,1006 1430.1,1003 1431.5,1000 1432.6,997 1433.2,994.3" fill="#c4ab2e" stroke="#6c5c1a" stroke-width="0.8" stroke-linejoin="round" />
<polygon points="1431.3,994 1431.2,992.5 1430.7,991.4 1429.8,990.7 1428.7,990.6 1427.4,990.9 1425.9,991.7 1424.3,993 1422.7,994.7 1421.1,996.7 1419.6,998.9 1418.3,1001.3 1417.2,1003.7 1416.3,1006.1 1415.8,1008.2 1415.7,1010.1 1415.8,1011.6 1416.3,1012.8 1417.2,1013.4 1418.3,1013.6 1419.6,1013.2 1421.1,1012.4 1422.7,1011.1 1424.3,1009.4 1425.9,1007.4 1427.4,1005.2 1428.7,1002.8 1429.8,1000.4 1430.7,998.1 1431.2,995.9" fill="#8a8690" stroke="#4a4650" stroke-width="0.8" stroke-linejoin="round" />
<polygon points="1427.2,998.3 1427.1,997.6 1426.8,997.1 1426.5,996.8 1425.9,996.7 1425.3,996.9 1424.6,997.2 1423.9,997.8 1423.1,998.6 1422.4,999.6 1421.7,1000.6 1421.1,1001.7 1420.5,1002.8 1420.2,1003.9 1419.9,1004.9 1419.8,1005.8 1419.9,1006.5 1420.2,1007.1 1420.5,1007.4 1421.1,1007.4 1421.7,1007.3 1422.4,1006.9 1423.1,1006.3 1423.9,1005.5 1424.6,1004.6 1425.3,1003.5 1425.9,1002.4 1426.5,1001.3 1426.8,1000.2 1427.1,999.2" fill="#d0d0d8" />
<polygon points="1311,1038.4 1345.2,1058.4 1345.2,1069.4 1311,1049.4" fill="#b09628" stroke="#6c5c1a" stroke-width="1.0" stroke-linejoin="round" />
<polygon points="1345.2,1058.4 1397.4,1004.8 1397.4,1015.8 1345.2,1069.4" fill="#c4ab2e" stroke="#6c5c1a" stroke-width="1.0" stroke-linejoin="round" />
<polygon points="1311,1038.4 1363.2,984.8 1397.4,1004.8 1345.2,1058.4" fill="#f0e11e" stroke="#6c5c1a" stroke-width="1.0" stroke-linejoin="round" />
<polygon points="1311,1005.4 1345.2,1025.4 1345.2,1058.4 1311,1038.4" fill="#b09628" stroke="#6c5c1a" stroke-width="1.0" stroke-linejoin="round" />
<polygon points="1345.2,1025.4 1397.4,971.8 1397.4,1004.8 1345.2,1058.4" fill="#c4ab2e" stroke="#6c5c1a" stroke-width="1.0" stroke-linejoin="round" />
<polygon points="1311,1005.4 1363.2,951.8 1397.4,971.8 1345.2,1025.4" fill="#f0e11e" stroke="#6c5c1a" stroke-width="1.0" stroke-linejoin="round" />
<polygon points="1327.9,999.4 1327.9,997.2 1328.6,995.1 1329.8,993.1 1331.5,991.4 1333.6,990 1336,988.9 1338.7,988.3 1341.5,988.1 1344.2,988.3 1346.9,989 1349.2,990.1 1351.3,991.6 1352.8,993.4 1353.9,995.4 1354.4,997.5 1354.4,1001 1354.4,1003.2 1353.7,1005.3 1352.5,1007.3 1350.8,1009 1348.7,1010.5 1346.3,1011.5 1343.6,1012.2 1340.8,1012.4 1338.1,1012.1 1335.4,1011.4 1333.1,1010.3 1331,1008.8 1329.5,1007.1 1328.4,1005.1 1327.9,1003" fill="#b8a42a" stroke="#6e5e18" stroke-width="1.0" stroke-linejoin="round" />
<polygon points="1349.2,990.1 1351.3,991.6 1352.9,993.4 1353.9,995.3 1354.4,997.5 1354.4,999.6 1353.7,1001.8 1352.5,1003.7 1350.8,1005.5 1348.7,1006.9 1346.3,1007.9 1343.6,1008.6 1340.8,1008.8 1338.1,1008.5 1335.4,1007.8 1333.1,1006.7 1331,1005.3 1329.4,1003.5 1328.4,1001.5 1327.9,999.4 1327.9,997.2 1328.6,995.1 1329.8,993.1 1331.5,991.4 1333.6,990 1336,988.9 1338.7,988.3 1341.5,988.1 1344.2,988.3 1346.9,989" fill="#e6d826" stroke="#6e5e18" stroke-width="1.0" stroke-linejoin="round" />
<polygon points="1346.6,992.8 1348,993.8 1349.1,995 1349.8,996.3 1350.2,997.8 1350.1,999.2 1349.7,1000.7 1348.9,1002 1347.7,1003.2 1346.3,1004.2 1344.6,1004.9 1342.8,1005.3 1340.9,1005.4 1339.1,1005.3 1337.3,1004.8 1335.7,1004.1 1334.3,1003.1 1333.2,1001.9 1332.5,1000.5 1332.1,999.1 1332.2,997.6 1332.6,996.2 1333.4,994.8 1334.6,993.7 1336,992.7 1337.7,992 1339.5,991.5 1341.4,991.4 1343.2,991.6 1345,992" fill="#d8c82a" stroke="#8a7a20" stroke-width="0.8" stroke-linejoin="round" />
<polygon points="1354,972.6 1354,970.4 1354.7,968.3 1355.9,966.3 1357.5,964.6 1359.7,963.2 1362.1,962.1 1364.8,961.5 1367.6,961.3 1370.3,961.5 1373,962.2 1375.3,963.3 1377.4,964.8 1379,966.6 1380,968.5 1380.5,970.7 1380.5,974.2 1380.5,976.4 1379.8,978.5 1378.6,980.5 1377,982.2 1374.8,983.7 1372.4,984.7 1369.7,985.4 1366.9,985.6 1364.2,985.3 1361.5,984.6 1359.2,983.5 1357.1,982 1355.5,980.3 1354.5,978.3 1354,976.1" fill="#b8a42a" stroke="#6e5e18" stroke-width="1.0" stroke-linejoin="round" />
<polygon points="1375.3,963.3 1377.4,964.8 1379,966.6 1380,968.5 1380.5,970.7 1380.5,972.8 1379.8,975 1378.6,976.9 1376.9,978.7 1374.8,980.1 1372.4,981.1 1369.7,981.8 1366.9,982 1364.2,981.7 1361.5,981 1359.2,979.9 1357.1,978.5 1355.5,976.7 1354.5,974.7 1354,972.6 1354,970.4 1354.7,968.3 1355.9,966.3 1357.6,964.6 1359.7,963.2 1362.1,962.1 1364.8,961.5 1367.6,961.3 1370.3,961.5 1373,962.2" fill="#e6d826" stroke="#6e5e18" stroke-width="1.0" stroke-linejoin="round" />
<polygon points="1372.7,966 1374.1,967 1375.2,968.2 1375.9,969.5 1376.3,971 1376.2,972.4 1375.8,973.9 1375,975.2 1373.8,976.4 1372.4,977.4 1370.7,978.1 1368.9,978.5 1367,978.6 1365.2,978.5 1363.4,978 1361.8,977.3 1360.4,976.3 1359.3,975.1 1358.6,973.7 1358.2,972.3 1358.3,970.8 1358.7,969.4 1359.5,968 1360.7,966.9 1362.1,965.9 1363.8,965.2 1365.6,964.7 1367.5,964.6 1369.3,964.8 1371.1,965.2" fill="#d8c82a" stroke="#8a7a20" stroke-width="0.8" stroke-linejoin="round" />
<polygon points="1364.2,1021.8 1364.4,1020.1 1364.9,1018.1 1365.6,1016 1366.6,1013.9 1367.8,1011.7 1369.1,1009.7 1370.6,1007.9 1372,1006.4 1373.5,1005.2 1374.8,1004.5 1376,1004.2 1377,1004.3 1407.8,1022.3 1408.5,1022.9 1409,1023.9 1409.1,1025.3 1409,1027 1408.5,1029 1407.8,1031.1 1406.8,1033.2 1405.6,1035.4 1404.3,1037.4 1402.8,1039.2 1401.3,1040.7 1399.9,1041.8 1398.6,1042.6 1397.4,1042.9 1396.4,1042.8 1365.6,1024.8 1364.9,1024.2 1364.4,1023.2" fill="url(#g70)" stroke="#030303" stroke-width="0.6" stroke-linejoin="round" />
<line x1="1374" y1="1009.9" x2="1404.8" y2="1027.9" stroke="#3c3c3c" stroke-width="1.4" stroke-linecap="butt" />
<line x1="1372.1" y1="1013.2" x2="1402.9" y2="1031.2" stroke="#030303" stroke-width="1.6" stroke-linecap="butt" />
<line x1="1369.7" y1="1017.3" x2="1400.4" y2="1035.3" stroke="#030303" stroke-width="1.6" stroke-linecap="butt" />
<line x1="1371" y1="1015" x2="1401.8" y2="1033" stroke="#3c3c3c" stroke-width="1.0" stroke-linecap="butt" />
<polygon points="1409.1,1025.3 1409,1023.9 1408.5,1022.9 1407.8,1022.3 1406.8,1022.2 1405.6,1022.5 1404.3,1023.3 1402.8,1024.4 1401.3,1025.9 1399.9,1027.7 1398.6,1029.7 1397.4,1031.9 1396.4,1034 1395.6,1036.1 1395.2,1038.1 1395,1039.8 1395.2,1041.2 1395.6,1042.2 1396.4,1042.8 1397.4,1042.9 1398.6,1042.6 1399.9,1041.8 1401.3,1040.7 1402.8,1039.2 1404.3,1037.4 1405.6,1035.4 1406.8,1033.2 1407.8,1031.1 1408.5,1029 1409,1027" fill="#1c1c1c" stroke="#030303" stroke-width="0.8" stroke-linejoin="round" />
<line x1="1395.7" y1="1039.1" x2="1408.4" y2="1026" stroke="#030303" stroke-width="2.0" stroke-linecap="butt" />
<line x1="1402.1" y1="1039.2" x2="1402.1" y2="1025.9" stroke="#030303" stroke-width="2.0" stroke-linecap="butt" />
<polygon points="1329,1099.1 1328.8,1097.1 1328.2,1095.7 1327.1,1094.9 1325.7,1094.7 1324.1,1095.1 1322.2,1096.2 1320.1,1097.8 1318.1,1099.9 1316,1102.5 1314.1,1105.3 1312.5,1108.3 1311.1,1111.4 1310,1114.3 1309.4,1117.1 1309.2,1119.4 1309.4,1121.4 1310,1122.8 1311.1,1123.6 1312.5,1123.8 1314.1,1123.4 1316,1122.3 1318.1,1120.7 1320.1,1118.6 1322.2,1116.1 1324.1,1113.2 1325.7,1110.2 1327.1,1107.2 1328.2,1104.2 1328.8,1101.5" fill="#c4ab2e" stroke="#6c5c1a" stroke-width="0.8" stroke-linejoin="round" />
<polygon points="1311.3,1117.3 1311.4,1115.4 1312,1113.2 1312.8,1110.9 1313.9,1108.5 1315.2,1106.1 1316.7,1103.9 1318.3,1101.9 1319.9,1100.2 1321.5,1098.9 1323,1098.1 1324.3,1097.8 1325.4,1097.9 1369.9,1123.9 1370.7,1124.6 1371.2,1125.7 1371.4,1127.2 1371.2,1129.1 1370.7,1131.3 1369.9,1133.6 1368.8,1136 1367.5,1138.4 1366,1140.6 1364.4,1142.6 1362.7,1144.3 1361.1,1145.6 1359.6,1146.4 1358.3,1146.8 1357.2,1146.6 1312.8,1120.6 1312,1120 1311.4,1118.8" fill="url(#g71)" stroke="#760a10" stroke-width="0.6" stroke-linejoin="round" />
<line x1="1322.1" y1="1104.1" x2="1366.6" y2="1130.1" stroke="#ec2a32" stroke-width="1.4" stroke-linecap="butt" />
<line x1="1320" y1="1107.7" x2="1364.5" y2="1133.7" stroke="#760a10" stroke-width="1.6" stroke-linecap="butt" />
<line x1="1317.3" y1="1112.4" x2="1361.7" y2="1138.4" stroke="#760a10" stroke-width="1.6" stroke-linecap="butt" />
<line x1="1318.8" y1="1109.8" x2="1363.3" y2="1135.8" stroke="#ec2a32" stroke-width="1.0" stroke-linecap="butt" />
<polygon points="1371.4,1127.2 1371.2,1125.7 1370.7,1124.6 1369.9,1123.9 1368.8,1123.8 1367.5,1124.1 1366,1124.9 1364.4,1126.2 1362.7,1127.9 1361.1,1129.9 1359.6,1132.1 1358.3,1134.5 1357.2,1136.9 1356.4,1139.3 1355.9,1141.4 1355.7,1143.3 1355.9,1144.8 1356.4,1146 1357.2,1146.6 1358.3,1146.8 1359.6,1146.4 1361.1,1145.6 1362.7,1144.3 1364.4,1142.6 1366,1140.6 1367.5,1138.4 1368.8,1136 1369.9,1133.6 1370.7,1131.3 1371.2,1129.1" fill="#de1c24" stroke="#760a10" stroke-width="0.8" stroke-linejoin="round" />
<line x1="1356.5" y1="1142.5" x2="1370.6" y2="1128" stroke="#760a10" stroke-width="2.0" stroke-linecap="butt" />
<line x1="1363.6" y1="1142.7" x2="1363.6" y2="1127.8" stroke="#760a10" stroke-width="2.0" stroke-linecap="butt" />
</svg></body></html>
